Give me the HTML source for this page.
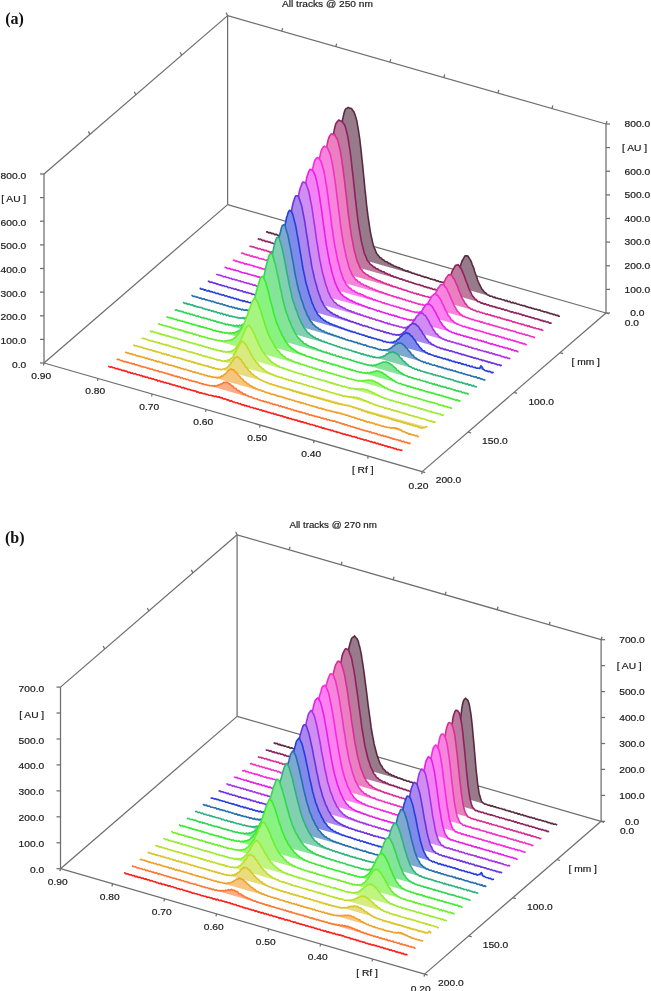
<!DOCTYPE html>
<html><head><meta charset="utf-8"><title>3D densitogram</title>
<style>
html,body{margin:0;padding:0;background:#fff}
body{width:651px;height:991px;overflow:hidden;font-family:"Liberation Sans",sans-serif}
svg{display:block;filter:blur(0.55px)}
svg text{font-family:"Liberation Sans",sans-serif;fill:#1a1a1a;stroke:#1a1a1a;stroke-width:0.18px}
svg text.lab{stroke:none}
svg text.lab{font-family:"Liberation Serif",serif;font-weight:bold;fill:#111}
</style></head><body>
<svg width="651" height="991" viewBox="0 0 651 991">
<rect width="651" height="991" fill="#ffffff"/>
<g stroke-width="1.6" stroke-linejoin="round">
<line x1="44.0" y1="363.0" x2="227.6" y2="204.6" stroke="#6e6e6e" stroke-width="1.25"/>
<line x1="227.6" y1="204.6" x2="606.0" y2="313.0" stroke="#6e6e6e" stroke-width="1.25"/>
<line x1="44.0" y1="363.0" x2="422.2" y2="471.6" stroke="#6e6e6e" stroke-width="1.25"/>
<line x1="422.2" y1="471.6" x2="606.0" y2="313.0" stroke="#6e6e6e" stroke-width="1.25"/>
<line x1="44.0" y1="363.0" x2="44.0" y2="174.0" stroke="#6e6e6e" stroke-width="1.25"/>
<line x1="227.6" y1="204.6" x2="227.6" y2="15.6" stroke="#6e6e6e" stroke-width="1.25"/>
<line x1="606.0" y1="313.0" x2="606.0" y2="124.0" stroke="#6e6e6e" stroke-width="1.25"/>
<line x1="44.0" y1="174.0" x2="227.6" y2="15.6" stroke="#6e6e6e" stroke-width="1.25"/>
<line x1="227.6" y1="15.6" x2="606.0" y2="124.0" stroke="#6e6e6e" stroke-width="1.25"/>
<line x1="40.0" y1="363.0" x2="44.0" y2="363.0" stroke="#6e6e6e" stroke-width="1.25"/>
<line x1="606.0" y1="313.0" x2="610.0" y2="313.0" stroke="#6e6e6e" stroke-width="1.25"/>
<line x1="40.0" y1="339.4" x2="44.0" y2="339.4" stroke="#6e6e6e" stroke-width="1.25"/>
<line x1="606.0" y1="289.4" x2="610.0" y2="289.4" stroke="#6e6e6e" stroke-width="1.25"/>
<line x1="40.0" y1="315.8" x2="44.0" y2="315.8" stroke="#6e6e6e" stroke-width="1.25"/>
<line x1="606.0" y1="265.8" x2="610.0" y2="265.8" stroke="#6e6e6e" stroke-width="1.25"/>
<line x1="40.0" y1="292.1" x2="44.0" y2="292.1" stroke="#6e6e6e" stroke-width="1.25"/>
<line x1="606.0" y1="242.1" x2="610.0" y2="242.1" stroke="#6e6e6e" stroke-width="1.25"/>
<line x1="40.0" y1="268.5" x2="44.0" y2="268.5" stroke="#6e6e6e" stroke-width="1.25"/>
<line x1="606.0" y1="218.5" x2="610.0" y2="218.5" stroke="#6e6e6e" stroke-width="1.25"/>
<line x1="40.0" y1="244.9" x2="44.0" y2="244.9" stroke="#6e6e6e" stroke-width="1.25"/>
<line x1="606.0" y1="194.9" x2="610.0" y2="194.9" stroke="#6e6e6e" stroke-width="1.25"/>
<line x1="40.0" y1="221.2" x2="44.0" y2="221.2" stroke="#6e6e6e" stroke-width="1.25"/>
<line x1="606.0" y1="171.2" x2="610.0" y2="171.2" stroke="#6e6e6e" stroke-width="1.25"/>
<line x1="40.0" y1="197.6" x2="44.0" y2="197.6" stroke="#6e6e6e" stroke-width="1.25"/>
<line x1="606.0" y1="147.6" x2="610.0" y2="147.6" stroke="#6e6e6e" stroke-width="1.25"/>
<line x1="40.0" y1="174.0" x2="44.0" y2="174.0" stroke="#6e6e6e" stroke-width="1.25"/>
<line x1="606.0" y1="124.0" x2="610.0" y2="124.0" stroke="#6e6e6e" stroke-width="1.25"/>
<line x1="89.9" y1="134.4" x2="88.4" y2="131.4" stroke="#6e6e6e" stroke-width="1.25"/>
<line x1="135.8" y1="94.8" x2="134.3" y2="91.8" stroke="#6e6e6e" stroke-width="1.25"/>
<line x1="181.7" y1="55.2" x2="180.2" y2="52.2" stroke="#6e6e6e" stroke-width="1.25"/>
<line x1="227.6" y1="15.6" x2="226.1" y2="12.6" stroke="#6e6e6e" stroke-width="1.25"/>
<line x1="281.7" y1="31.1" x2="282.7" y2="28.1" stroke="#6e6e6e" stroke-width="1.25"/>
<line x1="335.7" y1="46.6" x2="336.7" y2="43.6" stroke="#6e6e6e" stroke-width="1.25"/>
<line x1="389.8" y1="62.1" x2="390.8" y2="59.1" stroke="#6e6e6e" stroke-width="1.25"/>
<line x1="443.8" y1="77.5" x2="444.8" y2="74.5" stroke="#6e6e6e" stroke-width="1.25"/>
<line x1="497.9" y1="93.0" x2="498.9" y2="90.0" stroke="#6e6e6e" stroke-width="1.25"/>
<line x1="551.9" y1="108.5" x2="552.9" y2="105.5" stroke="#6e6e6e" stroke-width="1.25"/>
<line x1="606.0" y1="124.0" x2="607.0" y2="121.0" stroke="#6e6e6e" stroke-width="1.25"/>
<line x1="44.0" y1="363.0" x2="43.5" y2="365.5" stroke="#6e6e6e" stroke-width="1.25"/>
<line x1="98.0" y1="378.5" x2="97.5" y2="381.0" stroke="#6e6e6e" stroke-width="1.25"/>
<line x1="152.1" y1="394.0" x2="151.6" y2="396.5" stroke="#6e6e6e" stroke-width="1.25"/>
<line x1="206.1" y1="409.5" x2="205.6" y2="412.0" stroke="#6e6e6e" stroke-width="1.25"/>
<line x1="260.1" y1="425.1" x2="259.6" y2="427.6" stroke="#6e6e6e" stroke-width="1.25"/>
<line x1="314.1" y1="440.6" x2="313.6" y2="443.1" stroke="#6e6e6e" stroke-width="1.25"/>
<line x1="368.2" y1="456.1" x2="367.7" y2="458.6" stroke="#6e6e6e" stroke-width="1.25"/>
<line x1="422.2" y1="471.6" x2="421.7" y2="474.1" stroke="#6e6e6e" stroke-width="1.25"/>
<line x1="422.2" y1="471.6" x2="425.2" y2="472.6" stroke="#6e6e6e" stroke-width="1.25"/>
<line x1="468.1" y1="432.0" x2="471.1" y2="433.0" stroke="#6e6e6e" stroke-width="1.25"/>
<line x1="514.1" y1="392.3" x2="517.1" y2="393.3" stroke="#6e6e6e" stroke-width="1.25"/>
<line x1="560.0" y1="352.6" x2="563.0" y2="353.6" stroke="#6e6e6e" stroke-width="1.25"/>
<line x1="606.0" y1="313.0" x2="609.0" y2="314.0" stroke="#6e6e6e" stroke-width="1.25"/>
<polyline points="266.0,231.9 266.8,232.0 267.5,231.7 268.3,232.6 269.0,232.9 269.8,232.5 270.5,232.8 271.3,233.2 272.0,233.8 272.8,233.4 273.5,233.5 274.3,234.3 275.0,234.8 275.8,234.3 276.5,234.4 277.3,235.2 278.0,235.7 278.8,235.4 279.5,235.4 280.3,236.3 281.0,236.2 281.8,236.4 282.5,236.2 283.3,236.7 284.0,237.0 284.8,237.0 285.5,237.3 286.3,237.6 287.0,238.1 287.8,238.0 288.5,237.9 289.3,238.6 290.0,238.7 290.8,238.5 291.5,238.7 292.3,239.6 293.0,239.8 293.8,239.5 294.5,239.8 295.3,240.3 296.0,240.6 296.8,240.6 297.5,240.7 298.3,241.1 299.0,241.6 299.8,241.3 300.5,241.6 301.3,242.2 302.0,242.3 302.8,242.4 303.5,242.1 304.3,242.9 305.0,243.4 305.8,242.9 306.5,243.2 307.3,243.6 308.0,244.2 308.8,244.0 309.5,244.1 310.3,244.9 311.0,244.9 311.8,244.9 312.5,245.0 313.3,245.6 314.0,245.8 314.8,245.8 315.5,246.0 316.3,246.4 317.0,246.8 317.8,246.3 318.5,246.7 319.3,247.4 320.0,247.8 320.8,247.5 321.5,247.3 322.3,248.0 323.0,248.3 323.8,247.6 324.5,247.7 325.3,247.8 326.0,247.4 326.8,246.3 327.5,245.6 328.3,244.2 329.0,242.1 329.8,239.0 330.5,235.7 331.3,231.3 332.0,226.2 332.8,219.7 333.5,212.8 334.3,205.4 335.0,197.1 335.8,187.5 336.5,178.5 337.3,169.8 338.0,161.1 338.8,152.2 339.5,143.8 340.3,136.9 341.0,130.4 341.8,124.4 342.5,119.8 343.3,116.4 344.0,113.3 344.8,110.5 345.5,109.1 346.3,108.5 347.0,108.1 347.8,107.6 348.5,107.5 349.3,108.0 350.0,108.3 350.8,108.2 351.5,108.4 352.3,109.9 353.0,110.7 353.8,111.6 354.5,113.2 355.3,115.6 356.0,118.1 356.8,120.7 357.5,124.8 358.3,129.3 359.0,134.2 359.8,139.4 360.5,145.6 361.3,152.7 362.0,159.6 362.8,166.5 363.5,174.2 364.3,182.2 365.0,189.8 365.8,196.5 366.5,204.0 367.3,210.7 368.0,216.3 368.8,221.4 369.5,226.4 370.3,231.3 371.0,235.1 371.8,238.6 372.5,242.0 373.3,245.0 374.0,247.3 374.8,248.8 375.5,250.7 376.3,252.8 377.0,253.9 377.8,254.9 378.5,255.6 379.3,256.7 380.0,257.8 380.8,257.8 381.5,258.3 382.3,259.5 383.0,259.7 383.8,260.0 384.5,260.8 385.3,261.6 386.0,261.8 386.8,261.7 387.5,262.2 388.3,263.0 389.0,263.5 389.8,263.4 390.5,264.0 391.3,264.6 392.0,264.8 392.8,265.0 393.5,265.6 394.3,266.3 395.0,266.5 395.8,266.4 396.5,266.9 397.3,267.3 398.0,267.7 398.8,267.5 399.5,267.8 400.3,268.5 401.0,268.8 401.8,268.7 402.5,269.3 403.3,270.1 404.0,270.0 404.8,270.2 405.5,270.6 406.3,271.3 407.0,271.1 407.8,270.9 408.5,271.3 409.3,272.0 410.0,272.1 410.8,272.2 411.5,272.7 412.3,273.4 413.0,273.3 413.8,273.2 414.5,273.7 415.3,274.0 416.0,274.4 416.8,274.3 417.5,274.7 418.3,275.3 419.0,275.3 419.8,275.0 420.5,275.7 421.3,276.1 422.0,276.4 422.8,276.3 423.5,276.5 424.3,277.1 425.0,277.4 425.8,277.1 426.5,277.3 427.3,277.9 428.0,277.9 428.8,278.1 429.5,278.5 430.3,278.8 431.0,279.2 431.8,279.1 432.5,279.4 433.3,279.8 434.0,279.9 434.8,279.6 435.5,280.0 436.3,281.0 437.0,280.9 437.8,280.7 438.5,281.3 439.3,281.7 440.0,281.9 440.8,281.7 441.5,281.9 442.3,282.4 443.0,282.4 443.8,282.3 444.5,282.9 445.3,283.2 446.0,283.2 446.8,282.9 447.5,283.6 448.3,283.7 449.0,283.5 449.8,283.1 450.5,283.3 451.3,283.1 452.0,282.7 452.8,281.5 453.5,281.0 454.3,280.4 455.0,278.8 455.8,277.3 456.5,275.8 457.3,274.3 458.0,272.6 458.8,269.9 459.5,268.2 460.3,266.5 461.0,264.1 461.8,261.7 462.5,260.2 463.3,259.0 464.0,257.6 464.8,256.0 465.5,255.9 466.3,255.9 467.0,255.8 467.8,256.1 468.5,257.0 469.3,258.3 470.0,259.4 470.8,260.7 471.5,262.4 472.3,264.7 473.0,266.4 473.8,268.3 474.5,270.9 475.3,273.3 476.0,275.2 476.8,277.1 477.5,279.7 478.3,281.8 479.0,283.4 479.8,284.8 480.5,286.3 481.3,288.2 482.0,289.3 482.8,290.1 483.5,291.0 484.3,292.1 485.0,292.7 485.8,292.9 486.5,293.9 487.3,294.6 488.0,295.0 488.8,295.1 489.5,295.9 490.3,296.1 491.0,296.3 491.8,296.3 492.5,296.6 493.3,297.5 494.0,297.5 494.8,297.0 495.5,298.0 496.3,298.2 497.0,298.1 497.8,298.3 498.5,298.8 499.3,298.9 500.0,299.0 500.8,298.9 501.5,299.4 502.3,299.8 503.0,299.8 503.8,299.9 504.5,300.1 505.3,300.9 506.0,300.7 506.8,300.4 507.5,301.1 508.3,301.8 509.0,301.6 509.8,301.3 510.5,302.3 511.3,302.7 512.0,302.7 512.8,302.2 513.5,302.8 514.3,303.2 515.0,303.4 515.8,303.1 516.5,303.6 517.3,304.2 518.0,304.3 518.8,304.3 519.5,304.6 520.3,305.0 521.0,305.2 521.8,305.0 522.5,305.7 523.3,305.8 524.0,305.6 524.8,305.9 525.5,306.4 526.3,306.6 527.0,306.9 527.8,306.8 528.5,307.4 529.3,307.5 530.0,307.7 530.8,307.4 531.5,308.3 532.3,308.6 533.0,308.3 533.8,308.5 534.5,309.2 535.3,309.3 536.0,309.1 536.8,309.3 537.5,309.8 538.3,310.1 539.0,310.0 539.8,309.9 540.5,310.6 541.3,311.1 542.0,310.9 542.8,311.2 543.5,311.5 544.3,312.0 545.0,311.7 545.8,311.8 546.5,312.3 547.3,312.8 548.0,312.5 548.8,312.9 549.5,313.4 550.3,313.6 551.0,313.6 551.8,313.8 552.5,314.0 553.3,314.8 554.0,314.4 554.8,314.5 555.5,315.3 556.3,315.4 557.0,315.3 557.8,315.4 558.5,316.2 559.3,316.2 560.0,316.3" fill="#977b8a" stroke="#582a42"/>
<polyline points="257.7,238.7 258.5,238.9 259.2,239.5 260.0,239.4 260.7,239.3 261.5,239.6 262.2,240.6 263.0,240.4 263.7,240.2 264.5,240.5 265.2,241.5 266.0,241.6 266.7,241.3 267.5,241.4 268.2,242.0 269.0,242.1 269.7,242.0 270.5,242.3 271.2,243.0 272.0,243.0 272.7,243.1 273.5,243.5 274.2,243.9 275.0,243.8 275.7,244.0 276.5,244.1 277.2,244.7 278.0,244.6 278.7,244.6 279.5,245.0 280.2,245.6 281.0,245.5 281.7,245.5 282.5,245.6 283.2,246.4 284.0,246.3 284.7,246.3 285.5,246.5 286.2,247.1 287.0,247.3 287.7,247.1 288.5,247.7 289.2,248.2 290.0,248.4 290.7,248.1 291.5,248.6 292.2,249.3 293.0,249.0 293.7,248.8 294.5,249.6 295.2,249.8 296.0,250.1 296.7,249.9 297.5,250.0 298.2,251.0 299.0,251.0 299.7,250.7 300.5,251.2 301.2,251.8 302.0,251.5 302.7,251.5 303.5,252.0 304.2,252.7 305.0,252.7 305.7,252.5 306.5,252.9 307.2,253.6 308.0,253.5 308.7,253.3 309.5,253.5 310.2,254.0 311.0,254.0 311.7,253.9 312.5,254.2 313.2,255.0 314.0,254.6 314.7,254.3 315.5,254.3 316.2,254.3 317.0,253.4 317.7,251.9 318.5,251.3 319.2,249.8 320.0,247.2 320.7,244.0 321.5,240.8 322.2,236.6 323.0,231.7 323.7,225.5 324.5,219.3 325.2,212.7 326.0,205.2 326.7,196.7 327.5,189.1 328.2,181.3 329.0,172.7 329.7,164.5 330.5,157.4 331.2,150.9 332.0,144.4 332.7,138.5 333.5,134.1 334.2,130.1 335.0,126.7 335.7,124.0 336.5,122.8 337.2,121.7 338.0,120.9 338.7,120.0 339.5,120.3 340.2,120.9 341.0,121.0 341.7,121.2 342.5,122.1 343.2,123.0 344.0,124.0 344.7,125.2 345.5,127.5 346.2,130.1 347.0,133.2 347.7,136.1 348.5,140.9 349.2,145.9 350.0,150.3 350.7,156.0 351.5,162.7 352.2,169.6 353.0,175.8 353.7,182.5 354.5,189.9 355.2,197.5 356.0,203.6 356.7,210.1 357.5,216.3 358.2,222.3 359.0,227.4 359.7,231.4 360.5,236.3 361.2,240.4 362.0,243.9 362.7,246.8 363.5,249.8 364.2,253.0 365.0,254.7 365.7,256.2 366.5,258.2 367.2,260.2 368.0,261.1 368.7,261.8 369.5,263.0 370.2,264.2 371.0,264.5 371.7,265.2 372.5,265.7 373.2,266.9 374.0,267.1 374.7,267.0 375.5,268.2 376.2,268.8 377.0,268.9 377.7,268.8 378.5,269.6 379.2,270.2 380.0,270.6 380.7,270.5 381.5,271.1 382.2,271.8 383.0,271.7 383.7,271.7 384.5,272.4 385.2,273.4 386.0,273.1 386.7,273.5 387.5,273.8 388.2,274.4 389.0,274.5 389.7,274.4 390.5,275.2 391.2,276.0 392.0,275.9 392.7,275.9 393.5,276.5 394.2,277.1 395.0,277.0 395.7,276.9 396.5,277.7 397.2,277.8 398.0,278.0 398.7,278.0 399.5,278.8 400.2,279.2 401.0,278.9 401.7,278.8 402.5,279.9 403.2,279.9 404.0,280.0 404.7,280.0 405.5,280.6 406.2,281.2 407.0,281.2 407.7,280.9 408.5,281.8 409.2,282.0 410.0,282.0 410.7,282.0 411.5,282.5 412.2,282.9 413.0,282.8 413.7,283.2 414.5,283.6 415.2,283.9 416.0,284.0 416.7,284.2 417.5,284.5 418.2,284.8 419.0,284.6 419.7,284.6 420.5,285.4 421.2,285.6 422.0,285.5 422.7,285.6 423.5,286.4 424.2,286.9 425.0,286.7 425.7,286.6 426.5,287.3 427.2,287.7 428.0,287.4 428.7,287.5 429.5,288.0 430.2,288.4 431.0,288.6 431.7,288.3 432.5,289.1 433.2,289.5 434.0,289.4 434.7,289.1 435.5,289.8 436.2,290.0 437.0,289.9 437.7,289.9 438.5,290.7 439.2,290.7 440.0,290.3 440.7,289.7 441.5,289.9 442.2,290.1 443.0,289.3 443.7,288.4 444.5,288.2 445.2,287.0 446.0,285.7 446.7,284.6 447.5,283.5 448.2,281.9 449.0,279.8 449.7,277.5 450.5,275.9 451.2,274.0 452.0,271.9 452.7,270.1 453.5,269.1 454.2,267.6 455.0,266.1 455.7,265.3 456.5,265.1 457.2,265.1 458.0,264.6 458.7,265.4 459.5,266.3 460.2,267.7 461.0,268.3 461.7,269.6 462.5,271.6 463.2,273.5 464.0,275.2 464.7,277.2 465.5,279.4 466.2,281.5 467.0,283.3 467.7,285.3 468.5,287.6 469.2,289.3 470.0,290.8 470.7,292.0 471.5,294.0 472.2,295.4 473.0,296.4 473.7,297.2 474.5,298.7 475.2,299.3 476.0,299.4 476.7,300.0 477.5,301.4 478.2,301.7 479.0,301.5 479.7,301.7 480.5,302.7 481.2,303.1 482.0,302.9 482.7,303.1 483.5,303.9 484.2,304.3 485.0,303.8 485.7,303.9 486.5,304.7 487.2,305.0 488.0,304.9 488.7,304.9 489.5,305.8 490.2,306.0 491.0,305.7 491.7,305.8 492.5,306.8 493.2,306.6 494.0,306.7 494.7,306.6 495.5,307.3 496.2,307.7 497.0,307.3 497.7,307.9 498.5,308.3 499.2,308.3 500.0,308.1 500.7,308.5 501.5,309.2 502.2,309.5 503.0,308.9 503.7,309.3 504.5,309.9 505.2,310.4 506.0,309.8 506.7,310.0 507.5,310.7 508.2,311.0 509.0,311.0 509.7,311.3 510.5,311.9 511.2,312.1 512.0,311.9 512.7,311.9 513.5,312.4 514.2,313.0 515.0,312.7 515.7,312.6 516.5,313.5 517.2,313.5 518.0,313.3 518.7,313.6 519.5,314.2 520.2,314.2 521.0,314.1 521.7,314.5 522.5,315.4 523.2,315.1 524.0,315.3 524.7,315.3 525.5,316.0 526.2,316.3 527.0,316.1 527.7,316.3 528.5,316.7 529.2,317.0 530.0,316.8 530.7,317.4 531.5,317.6 532.2,317.8 533.0,317.9 533.7,317.8 534.5,318.6 535.2,318.9 536.0,318.7 536.7,318.7 537.5,319.3 538.2,319.4 539.0,319.6 539.7,319.6 540.5,320.5 541.2,320.7 542.0,320.2 542.7,320.5 543.5,321.5 544.2,321.4 545.0,321.0 545.7,321.6 546.5,322.0 547.2,322.1 548.0,321.7 548.7,322.5 549.5,323.2 550.2,323.1 551.0,323.1 551.7,323.0" fill="#bb7a9e" stroke="#8e225e"/>
<polyline points="249.4,246.2 250.2,246.4 250.9,246.3 251.7,246.5 252.4,247.0 253.2,247.0 253.9,246.9 254.7,247.6 255.4,247.8 256.2,248.1 256.9,247.9 257.7,248.5 258.4,249.0 259.2,248.8 259.9,248.6 260.7,249.1 261.4,249.6 262.2,249.8 262.9,249.3 263.7,249.9 264.4,250.7 265.2,250.4 265.9,250.2 266.7,250.7 267.4,251.5 268.2,251.3 268.9,251.5 269.7,252.0 270.4,252.5 271.2,252.1 271.9,251.9 272.7,252.4 273.4,253.2 274.2,253.2 274.9,253.0 275.7,253.4 276.4,254.0 277.2,254.0 277.9,253.9 278.7,254.5 279.4,255.0 280.2,254.9 280.9,254.5 281.7,255.4 282.4,255.6 283.2,255.7 283.9,255.5 284.7,256.2 285.4,256.4 286.2,256.4 286.9,256.3 287.7,256.8 288.4,257.7 289.2,257.4 289.9,257.2 290.7,257.8 291.4,258.6 292.2,258.2 292.9,258.0 293.7,258.8 294.4,259.3 295.2,259.3 295.9,258.8 296.7,259.5 297.4,260.2 298.2,260.1 298.9,260.1 299.7,260.2 300.4,260.8 301.2,260.6 301.9,260.5 302.7,261.4 303.4,261.7 304.2,261.6 304.9,261.2 305.7,261.8 306.4,261.8 307.2,261.2 307.9,260.9 308.7,260.9 309.4,260.1 310.2,259.0 310.9,257.5 311.7,256.0 312.4,254.2 313.2,251.2 313.9,247.9 314.7,244.6 315.4,240.7 316.2,235.5 316.9,229.7 317.7,224.0 318.4,217.9 319.2,210.9 319.9,203.3 320.7,196.5 321.4,189.3 322.2,182.0 322.9,174.6 323.7,168.0 324.4,162.0 325.2,156.1 325.9,150.9 326.7,146.9 327.4,143.1 328.2,139.7 328.9,137.5 329.7,136.0 330.4,135.1 331.2,134.1 331.9,133.9 332.7,134.0 333.4,134.6 334.2,134.5 334.9,135.0 335.7,136.5 336.4,138.1 337.2,139.0 337.9,140.9 338.7,144.1 339.4,147.1 340.2,150.3 340.9,154.7 341.7,159.5 342.4,165.0 343.2,170.0 343.9,176.0 344.7,182.4 345.4,188.8 346.2,194.9 346.9,201.6 347.7,208.4 348.4,214.9 349.2,220.0 349.9,225.6 350.7,231.0 351.4,235.9 352.2,239.6 352.9,243.4 353.7,247.6 354.4,251.3 355.2,253.6 355.9,256.5 356.7,259.6 357.4,262.1 358.2,263.3 358.9,264.9 359.7,267.3 360.4,268.7 361.2,269.2 361.9,269.9 362.7,271.6 363.4,272.2 364.2,272.8 364.9,273.1 365.7,274.2 366.4,274.5 367.2,274.9 367.9,275.0 368.7,275.9 369.4,276.7 370.2,276.7 370.9,276.7 371.7,277.5 372.4,278.1 373.2,278.1 373.9,278.3 374.7,278.9 375.4,279.4 376.2,279.6 376.9,279.9 377.7,280.3 378.4,280.9 379.2,281.0 379.9,280.8 380.7,281.9 381.4,282.0 382.2,282.1 382.9,282.3 383.7,283.1 384.4,283.3 385.2,283.2 385.9,283.5 386.7,284.1 387.4,284.6 388.2,284.3 388.9,284.5 389.7,285.0 390.4,285.7 391.2,285.4 391.9,285.5 392.7,286.5 393.4,286.8 394.2,286.5 394.9,286.5 395.7,287.3 396.4,287.5 397.2,287.3 397.9,287.7 398.7,288.2 399.4,288.6 400.2,288.5 400.9,288.4 401.7,289.4 402.4,289.4 403.2,289.6 403.9,289.8 404.7,290.3 405.4,290.3 406.2,290.4 406.9,290.5 407.7,291.5 408.4,291.3 409.2,291.5 409.9,291.8 410.7,292.3 411.4,292.6 412.2,292.1 412.9,292.7 413.7,293.1 414.4,293.6 415.2,293.3 415.9,293.2 416.7,294.1 417.4,294.4 418.2,293.8 418.9,294.2 419.7,295.0 420.4,295.0 421.2,295.1 421.9,295.0 422.7,296.0 423.4,295.8 424.2,295.8 424.9,296.2 425.7,296.5 426.4,296.7 427.2,296.6 427.9,296.8 428.7,297.2 429.4,297.4 430.2,297.1 430.9,297.6 431.7,298.0 432.4,298.1 433.2,297.2 433.9,297.4 434.7,297.3 435.4,297.1 436.2,296.2 436.9,295.5 437.7,295.3 438.4,294.2 439.2,292.6 439.9,291.5 440.7,290.1 441.4,288.9 442.2,286.6 442.9,284.8 443.7,283.7 444.4,281.6 445.2,279.9 445.9,278.3 446.7,277.3 447.4,276.4 448.2,275.1 448.9,274.5 449.7,275.1 450.4,274.8 451.2,275.2 451.9,275.6 452.7,277.1 453.4,278.3 454.2,279.0 454.9,280.6 455.7,282.5 456.4,284.0 457.2,285.5 457.9,287.5 458.7,290.1 459.4,291.8 460.2,293.3 460.9,295.4 461.7,297.1 462.4,298.6 463.2,299.9 463.9,301.0 464.7,302.7 465.4,303.8 466.2,304.3 466.9,305.4 467.7,306.5 468.4,307.3 469.2,307.5 469.9,307.9 470.7,309.0 471.4,309.2 472.2,309.0 472.9,309.9 473.7,310.3 474.4,310.4 475.2,310.2 475.9,310.9 476.7,311.6 477.4,311.7 478.2,311.3 478.9,311.6 479.7,312.1 480.4,312.5 481.2,312.3 481.9,312.5 482.7,313.3 483.4,313.3 484.2,313.3 484.9,313.6 485.7,314.0 486.4,314.4 487.2,313.8 487.9,314.4 488.7,314.9 489.4,314.9 490.2,314.6 490.9,315.4 491.7,315.6 492.4,315.9 493.2,315.9 493.9,315.9 494.7,316.5 495.4,316.8 496.2,316.6 496.9,317.0 497.7,317.7 498.4,317.4 499.2,317.3 499.9,317.7 500.7,318.2 501.4,318.6 502.2,318.4 502.9,318.8 503.7,319.0 504.4,319.5 505.2,319.3 505.9,319.5 506.7,320.3 507.4,320.1 508.2,319.9 508.9,320.2 509.7,320.9 510.4,320.8 511.2,320.8 511.9,321.4 512.7,322.0 513.4,322.1 514.2,321.8 514.9,322.0 515.7,322.8 516.4,322.7 517.2,322.7 517.9,323.0 518.7,323.5 519.4,323.7 520.2,323.7 520.9,323.8 521.7,324.7 522.4,324.2 523.2,324.2 523.9,324.6 524.7,325.5 525.4,325.5 526.2,325.3 526.9,325.5 527.7,326.4 528.4,326.1 529.2,325.9 529.9,326.7 530.7,327.1 531.4,327.1 532.2,327.0 532.9,327.6 533.7,327.9 534.4,328.0 535.2,327.9 535.9,328.4 536.7,328.7 537.4,328.8 538.2,328.7 538.9,329.0 539.7,329.5 540.4,329.7 541.2,329.3 541.9,330.2 542.7,330.3 543.4,330.2" fill="#ea80c0" stroke="#dc2c96"/>
<polyline points="241.1,253.4 241.9,253.4 242.6,253.1 243.4,253.2 244.1,253.9 244.9,254.4 245.6,254.2 246.4,254.4 247.1,255.1 247.9,255.0 248.6,255.0 249.4,255.1 250.1,256.0 250.9,256.2 251.6,256.1 252.4,255.8 253.1,256.9 253.9,257.1 254.6,256.9 255.4,256.7 256.1,257.4 256.9,257.6 257.6,257.3 258.4,257.9 259.1,258.6 259.9,258.7 260.6,258.6 261.4,258.7 262.1,259.2 262.9,259.3 263.6,259.1 264.4,259.6 265.1,260.0 265.9,260.3 266.6,260.1 267.4,260.1 268.1,260.9 268.9,261.1 269.6,261.1 270.4,261.2 271.1,261.8 271.9,262.3 272.6,261.9 273.4,262.3 274.1,262.8 274.9,262.7 275.6,262.7 276.4,262.9 277.1,263.7 277.9,263.7 278.6,263.7 279.4,263.8 280.1,264.3 280.9,264.8 281.6,264.2 282.4,264.9 283.1,265.2 283.9,265.3 284.6,265.2 285.4,265.7 286.1,266.4 286.9,266.1 287.6,266.2 288.4,266.4 289.1,267.2 289.9,267.1 290.6,267.0 291.4,267.2 292.1,268.0 292.9,267.9 293.6,268.0 294.4,267.9 295.1,268.4 295.9,268.7 296.6,268.2 297.4,268.1 298.1,268.7 298.9,268.2 299.6,267.8 300.4,267.4 301.1,267.2 301.9,266.2 302.6,264.6 303.4,263.3 304.1,261.9 304.9,259.9 305.6,256.5 306.4,254.0 307.1,250.5 307.9,246.5 308.6,241.7 309.4,237.1 310.1,232.0 310.9,226.0 311.6,219.8 312.4,213.2 313.1,207.1 313.9,200.4 314.6,193.5 315.4,187.1 316.1,181.2 316.9,175.0 317.6,169.1 318.4,164.2 319.1,160.5 319.9,156.5 320.6,153.0 321.4,150.3 322.1,149.0 322.9,147.7 323.6,146.5 324.4,146.1 325.1,146.6 325.9,147.0 326.6,146.8 327.4,147.7 328.1,149.4 328.9,151.0 329.6,152.6 330.4,154.9 331.1,158.2 331.9,161.6 332.6,165.1 333.4,169.8 334.1,174.8 334.9,180.0 335.6,185.0 336.4,191.4 337.1,197.7 337.9,203.3 338.6,209.5 339.4,215.3 340.1,221.7 340.9,227.4 341.6,232.1 342.4,237.1 343.1,241.8 343.9,245.6 344.6,249.2 345.4,252.7 346.1,256.4 346.9,259.4 347.6,261.7 348.4,264.7 349.1,267.7 349.9,269.6 350.6,271.0 351.4,273.0 352.1,274.7 352.9,275.7 353.6,276.7 354.4,277.8 355.1,279.2 355.9,279.8 356.6,279.9 357.4,280.8 358.1,281.9 358.9,282.0 359.6,282.0 360.4,283.0 361.1,283.9 361.9,284.0 362.6,284.0 363.4,284.7 364.1,285.4 364.9,285.5 365.6,285.4 366.4,285.9 367.1,286.8 367.9,286.6 368.6,286.8 369.4,287.5 370.1,288.2 370.9,288.2 371.6,288.0 372.4,288.6 373.1,289.3 373.9,289.5 374.6,289.3 375.4,290.0 376.1,290.7 376.9,290.4 377.6,290.6 378.4,291.2 379.1,291.6 379.9,291.7 380.6,291.9 381.4,291.9 382.1,292.8 382.9,292.6 383.6,292.8 384.4,293.4 385.1,293.8 385.9,293.6 386.6,293.8 387.4,294.3 388.1,294.9 388.9,294.8 389.6,294.8 390.4,295.4 391.1,295.8 391.9,295.7 392.6,295.9 393.4,296.1 394.1,296.9 394.9,296.7 395.6,296.8 396.4,297.0 397.1,298.0 397.9,297.6 398.6,297.4 399.4,298.0 400.1,298.6 400.9,298.4 401.6,298.5 402.4,299.0 403.1,299.7 403.9,299.4 404.6,299.3 405.4,299.8 406.1,300.6 406.9,300.6 407.6,300.4 408.4,300.7 409.1,301.6 409.9,301.3 410.6,301.1 411.4,301.6 412.1,302.4 412.9,302.4 413.6,302.2 414.4,302.7 415.1,303.2 415.9,303.0 416.6,303.3 417.4,303.5 418.1,304.1 418.9,304.1 419.6,304.0 420.4,304.3 421.1,304.7 421.9,304.7 422.6,304.3 423.4,305.1 424.1,305.2 424.9,305.1 425.6,304.5 426.4,304.8 427.1,304.8 427.9,304.2 428.6,303.4 429.4,303.0 430.1,302.9 430.9,301.5 431.6,300.2 432.4,299.4 433.1,298.4 433.9,296.6 434.6,294.9 435.4,293.7 436.1,292.2 436.9,290.6 437.6,288.9 438.4,287.5 439.1,287.0 439.9,285.8 440.6,284.8 441.4,284.5 442.1,284.9 442.9,284.7 443.6,284.5 444.4,285.5 445.1,287.0 445.9,287.6 446.6,288.4 447.4,290.0 448.1,291.8 448.9,293.1 449.6,294.9 450.4,296.8 451.1,298.6 451.9,300.4 452.6,301.8 453.4,303.5 454.1,305.7 454.9,306.6 455.6,307.8 456.4,309.4 457.1,310.9 457.9,311.5 458.6,312.2 459.4,313.1 460.1,314.2 460.9,314.4 461.6,314.9 462.4,315.6 463.1,316.5 463.9,316.4 464.6,316.4 465.4,317.1 466.1,317.5 466.9,317.6 467.6,317.5 468.4,318.3 469.1,318.6 469.9,318.6 470.6,318.7 471.4,319.3 472.1,319.8 472.9,319.2 473.6,319.7 474.4,320.1 475.1,320.6 475.9,320.4 476.6,320.6 477.4,321.0 478.1,321.4 478.9,321.5 479.6,321.1 480.4,322.0 481.1,322.3 481.9,321.8 482.6,322.2 483.4,322.8 484.1,323.3 484.9,322.9 485.6,323.2 486.4,323.6 487.1,324.0 487.9,324.0 488.6,323.6 489.4,324.6 490.1,324.9 490.9,324.6 491.6,324.9 492.4,325.3 493.1,325.7 493.9,325.5 494.6,325.7 495.4,326.1 496.1,326.5 496.9,326.3 497.6,326.5 498.4,327.3 499.1,327.3 499.9,327.4 500.6,327.3 501.4,328.0 502.1,328.2 502.9,328.1 503.6,328.4 504.4,328.9 505.1,329.3 505.9,328.9 506.6,329.0 507.4,329.6 508.1,330.0 508.9,329.9 509.6,330.1 510.4,330.3 511.1,331.0 511.9,330.8 512.6,330.8 513.4,331.2 514.1,331.6 514.9,331.3 515.6,331.5 516.4,332.5 517.1,332.6 517.9,332.5 518.6,332.7 519.4,333.4 520.1,333.5 520.9,333.3 521.6,333.4 522.4,334.1 523.1,334.3 523.9,334.2 524.6,334.1 525.4,335.0 526.1,335.1 526.9,335.1 527.6,334.9 528.4,335.6 529.1,335.8 529.9,335.9 530.6,336.2 531.4,336.7 532.1,336.8 532.9,336.8 533.6,337.0 534.4,337.5 535.1,337.6" fill="#f784dd" stroke="#f232c6"/>
<polyline points="232.8,260.4 233.6,260.2 234.3,260.2 235.1,260.9 235.8,261.5 236.6,260.9 237.3,261.2 238.1,261.5 238.8,261.9 239.6,262.1 240.3,262.0 241.1,262.8 241.8,263.0 242.6,262.6 243.3,262.8 244.1,263.5 244.8,264.1 245.6,263.9 246.3,263.7 247.1,264.3 247.8,264.5 248.6,264.6 249.3,264.4 250.1,265.0 250.8,265.3 251.6,265.2 252.3,265.5 253.1,265.8 253.8,266.7 254.6,266.1 255.3,266.5 256.1,266.7 256.8,267.0 257.6,267.2 258.3,267.0 259.1,267.9 259.8,268.0 260.6,267.7 261.3,268.2 262.1,268.7 262.8,269.2 263.6,268.9 264.3,268.7 265.1,269.6 265.8,270.0 266.6,269.7 267.3,270.0 268.1,270.2 268.8,271.0 269.6,270.7 270.3,270.4 271.1,271.0 271.8,271.7 272.6,271.6 273.3,271.3 274.1,272.0 274.8,272.6 275.6,272.1 276.3,272.5 277.1,273.0 277.8,273.1 278.6,273.0 279.3,273.2 280.1,273.8 280.8,274.2 281.6,273.8 282.3,274.2 283.1,274.6 283.8,275.0 284.6,274.8 285.3,274.7 286.1,275.3 286.8,275.7 287.6,275.5 288.3,275.4 289.1,275.7 289.8,275.6 290.6,274.9 291.3,275.0 292.1,274.9 292.8,274.5 293.6,273.2 294.3,272.3 295.1,271.8 295.8,270.4 296.6,268.2 297.3,266.0 298.1,264.1 298.8,261.6 299.6,257.8 300.3,254.3 301.1,250.7 301.8,246.5 302.6,241.2 303.3,235.8 304.1,230.6 304.8,225.0 305.6,218.7 306.3,212.7 307.1,207.1 307.8,201.1 308.6,194.3 309.3,188.9 310.1,183.9 310.8,178.9 311.6,173.7 312.3,169.5 313.1,166.7 313.8,163.8 314.6,161.1 315.3,159.5 316.1,158.6 316.8,157.9 317.6,157.6 318.3,157.9 319.1,158.6 319.8,159.8 320.6,160.7 321.3,162.0 322.1,164.7 322.8,167.3 323.6,169.8 324.3,173.1 325.1,177.6 325.8,182.2 326.6,186.6 327.3,191.5 328.1,197.1 328.8,203.1 329.6,208.4 330.3,213.9 331.1,220.3 331.8,226.1 332.6,231.2 333.3,236.2 334.1,241.4 334.8,246.0 335.6,249.4 336.3,253.2 337.1,257.2 337.8,260.8 338.6,263.3 339.3,266.4 340.1,269.5 340.8,272.1 341.6,273.8 342.3,275.9 343.1,278.7 343.8,280.1 344.6,281.1 345.3,282.7 346.1,284.4 346.8,285.1 347.6,285.8 348.3,286.5 349.1,287.8 349.8,288.1 350.6,288.3 351.3,289.4 352.1,290.3 352.8,290.5 353.6,290.6 354.3,290.9 355.1,292.0 355.8,292.1 356.6,292.4 357.3,292.7 358.1,293.5 358.8,293.9 359.6,293.5 360.3,293.8 361.1,294.6 361.8,294.8 362.6,294.7 363.3,295.1 364.1,296.1 364.8,296.4 365.6,296.1 366.3,296.8 367.1,297.5 367.8,297.2 368.6,297.4 369.3,297.7 370.1,298.2 370.8,298.8 371.6,298.3 372.3,298.9 373.1,299.6 373.8,299.9 374.6,299.6 375.3,299.8 376.1,300.5 376.8,300.5 377.6,300.8 378.3,301.2 379.1,301.5 379.8,301.5 380.6,301.5 381.3,301.9 382.1,302.8 382.8,302.9 383.6,302.7 384.3,302.7 385.1,303.7 385.8,303.8 386.6,303.6 387.3,304.1 388.1,304.3 388.8,304.5 389.6,304.6 390.3,305.1 391.1,305.6 391.8,305.5 392.6,305.4 393.3,305.9 394.1,306.2 394.8,306.4 395.6,306.2 396.3,306.5 397.1,307.3 397.8,307.2 398.6,307.1 399.3,307.4 400.1,308.3 400.8,308.0 401.6,308.2 402.3,308.4 403.1,308.9 403.8,309.4 404.6,308.9 405.3,309.6 406.1,310.2 406.8,310.3 407.6,309.7 408.3,310.3 409.1,310.7 409.8,311.2 410.6,310.9 411.3,311.2 412.1,311.7 412.8,311.7 413.6,311.7 414.3,311.9 415.1,312.5 415.8,312.2 416.6,312.0 417.3,312.2 418.1,312.9 418.8,312.6 419.6,311.9 420.3,312.3 421.1,312.0 421.8,311.5 422.6,310.4 423.3,310.0 424.1,309.9 424.8,308.5 425.6,306.9 426.3,306.1 427.1,305.1 427.8,303.8 428.6,301.6 429.3,300.9 430.1,299.4 430.8,298.3 431.6,296.6 432.3,295.6 433.1,295.3 433.8,294.4 434.6,293.8 435.3,293.9 436.1,294.6 436.8,295.1 437.6,295.3 438.3,296.4 439.1,297.3 439.8,298.3 440.6,299.6 441.3,300.8 442.1,303.0 442.8,304.1 443.6,305.7 444.3,307.1 445.1,309.5 445.8,310.5 446.6,311.6 447.3,313.2 448.1,315.3 448.8,316.2 449.6,316.8 450.3,318.2 451.1,319.8 451.8,320.0 452.6,320.6 453.3,321.3 454.1,322.3 454.8,322.8 455.6,323.0 456.3,323.4 457.1,324.1 457.8,324.1 458.6,324.4 459.3,324.9 460.1,325.4 460.8,325.4 461.6,325.5 462.3,326.1 463.1,326.7 463.8,326.5 464.6,326.2 465.3,326.7 466.1,327.5 466.8,327.3 467.6,327.4 468.3,327.5 469.1,328.4 469.8,328.1 470.6,328.3 471.3,328.8 472.1,329.1 472.8,328.8 473.6,329.2 474.3,329.5 475.1,330.2 475.8,329.8 476.6,329.7 477.3,330.5 478.1,330.8 478.8,330.6 479.6,330.6 480.3,331.3 481.1,331.5 481.8,331.6 482.6,331.5 483.3,332.1 484.1,332.4 484.8,332.6 485.6,332.6 486.3,333.2 487.1,333.4 487.8,333.5 488.6,333.2 489.3,334.0 490.1,334.1 490.8,334.4 491.6,334.4 492.3,334.7 493.1,335.2 493.8,335.1 494.6,335.0 495.3,335.3 496.1,336.3 496.8,335.8 497.6,335.7 498.3,336.2 499.1,336.8 499.8,336.9 500.6,336.5 501.3,337.1 502.1,337.9 502.8,337.5 503.6,337.4 504.3,338.2 505.1,338.7 505.8,338.5 506.6,338.6 507.3,338.8 508.1,339.7 508.8,339.5 509.6,339.1 510.3,339.7 511.1,340.3 511.8,340.2 512.6,340.1 513.3,340.6 514.1,341.2 514.8,340.9 515.6,341.1 516.3,341.8 517.1,341.9 517.8,342.0 518.6,342.0 519.3,342.3 520.1,343.1 520.8,343.0 521.6,342.7 522.3,343.3 523.1,344.0 523.8,343.6 524.6,343.6 525.3,344.5 526.1,344.8 526.8,344.4" fill="#fd82ef" stroke="#fc28e4"/>
<polyline points="224.5,267.4 225.3,267.4 226.0,267.6 226.8,268.0 227.5,268.6 228.3,268.5 229.0,268.4 229.8,268.4 230.5,269.2 231.3,269.4 232.0,269.3 232.8,269.4 233.5,270.0 234.3,270.1 235.0,269.8 235.8,270.4 236.5,270.7 237.3,270.8 238.0,270.8 238.8,271.0 239.5,271.6 240.3,272.0 241.0,271.8 241.8,272.4 242.5,272.7 243.3,272.7 244.0,272.7 244.8,273.2 245.5,273.3 246.3,273.5 247.0,273.2 247.8,274.0 248.5,274.3 249.3,274.3 250.0,274.4 250.8,274.8 251.5,275.1 252.3,275.2 253.0,275.0 253.8,275.8 254.5,276.0 255.3,275.9 256.0,276.0 256.8,276.3 257.5,277.0 258.3,277.1 259.0,276.8 259.8,277.2 260.5,277.8 261.3,277.7 262.0,277.5 262.8,278.0 263.5,278.5 264.3,278.5 265.0,278.5 265.8,279.0 266.5,279.4 267.3,279.2 268.0,279.4 268.8,280.1 269.5,280.5 270.3,280.3 271.0,280.3 271.8,280.6 272.5,281.4 273.3,281.1 274.0,281.1 274.8,281.7 275.5,282.1 276.3,281.8 277.0,281.7 277.8,282.2 278.5,282.7 279.3,282.4 280.0,282.4 280.8,282.5 281.5,282.9 282.3,282.8 283.0,282.1 283.8,282.4 284.5,282.4 285.3,281.5 286.0,281.1 286.8,280.4 287.5,279.9 288.3,278.2 289.0,276.6 289.8,275.7 290.5,273.9 291.3,271.1 292.0,268.6 292.8,266.1 293.5,263.3 294.3,259.0 295.0,255.0 295.8,251.5 296.5,247.0 297.3,241.4 298.0,236.1 298.8,231.1 299.5,226.0 300.3,219.9 301.0,214.2 301.8,208.9 302.5,203.4 303.3,197.8 304.0,192.6 304.8,188.3 305.5,184.1 306.3,180.1 307.0,176.6 307.8,174.4 308.5,172.2 309.3,170.7 310.0,169.3 310.8,169.7 311.5,169.9 312.3,170.0 313.0,170.9 313.8,172.4 314.5,174.1 315.3,176.1 316.0,178.5 316.8,181.8 317.5,185.4 318.3,189.0 319.0,193.1 319.8,198.3 320.5,203.3 321.3,208.1 322.0,213.5 322.8,219.3 323.5,224.9 324.3,230.2 325.0,235.5 325.8,240.8 326.5,245.8 327.3,249.8 328.0,254.0 328.8,258.1 329.5,262.0 330.3,265.0 331.0,267.8 331.8,271.6 332.5,274.3 333.3,276.8 334.0,279.1 334.8,281.9 335.5,283.7 336.3,285.3 337.0,287.2 337.8,288.7 338.5,290.2 339.3,291.2 340.0,292.1 340.8,293.7 341.5,294.6 342.3,294.8 343.0,295.7 343.8,296.5 344.5,297.1 345.3,297.3 346.0,297.6 346.8,298.4 347.5,299.1 348.3,299.0 349.0,299.6 349.8,300.2 350.5,300.6 351.3,300.4 352.0,300.8 352.8,301.5 353.5,302.0 354.3,302.0 355.0,302.4 355.8,303.1 356.5,303.3 357.3,303.2 358.0,303.5 358.8,304.4 359.5,304.4 360.3,304.4 361.0,304.8 361.8,305.2 362.5,305.6 363.3,305.8 364.0,305.9 364.8,306.4 365.5,306.6 366.3,306.8 367.0,306.9 367.8,307.7 368.5,308.1 369.3,307.9 370.0,307.8 370.8,308.4 371.5,308.7 372.3,308.7 373.0,308.9 373.8,309.4 374.5,309.7 375.3,309.7 376.0,309.9 376.8,310.5 377.5,311.1 378.3,310.7 379.0,310.6 379.8,311.5 380.5,311.9 381.3,311.5 382.0,311.9 382.8,312.2 383.5,312.6 384.3,312.7 385.0,312.8 385.8,313.5 386.5,313.5 387.3,313.4 388.0,313.7 388.8,314.2 389.5,314.6 390.3,314.4 391.0,314.8 391.8,315.3 392.5,315.4 393.3,315.1 394.0,315.3 394.8,316.3 395.5,316.1 396.3,315.9 397.0,316.2 397.8,317.0 398.5,317.4 399.3,317.1 400.0,317.4 400.8,317.7 401.5,317.9 402.3,318.0 403.0,318.1 403.8,318.9 404.5,318.9 405.3,318.6 406.0,318.9 406.8,319.4 407.5,319.9 408.3,319.5 409.0,319.6 409.8,320.2 410.5,320.1 411.3,319.6 412.0,320.0 412.8,320.2 413.5,320.1 414.3,319.2 415.0,319.0 415.8,318.7 416.5,318.0 417.3,317.3 418.0,316.4 418.8,315.6 419.5,314.8 420.3,313.2 421.0,311.8 421.8,311.1 422.5,309.9 423.3,308.1 424.0,307.3 424.8,306.3 425.5,305.4 426.3,304.5 427.0,303.9 427.8,304.2 428.5,304.4 429.3,304.0 430.0,304.7 430.8,305.4 431.5,306.0 432.3,306.7 433.0,307.8 433.8,309.8 434.5,310.6 435.3,311.8 436.0,313.1 436.8,315.2 437.5,316.5 438.3,317.5 439.0,318.9 439.8,320.7 440.5,322.2 441.3,322.8 442.0,324.0 442.8,325.4 443.5,326.3 444.3,326.7 445.0,327.6 445.8,329.0 446.5,329.3 447.3,329.4 448.0,330.3 448.8,330.8 449.5,331.2 450.3,331.4 451.0,331.6 451.8,332.4 452.5,332.8 453.3,332.6 454.0,332.7 454.8,333.5 455.5,333.7 456.3,333.4 457.0,334.1 457.8,334.3 458.5,334.7 459.3,334.3 460.0,334.6 460.8,335.3 461.5,335.2 462.3,335.3 463.0,335.5 463.8,336.4 464.5,336.3 465.3,336.0 466.0,336.3 466.8,337.1 467.5,337.0 468.3,337.1 469.0,337.2 469.8,337.9 470.5,338.0 471.3,337.7 472.0,338.3 472.8,338.7 473.5,338.9 474.3,338.7 475.0,339.0 475.8,339.6 476.5,339.5 477.3,339.4 478.0,340.1 478.8,340.4 479.5,340.6 480.3,340.2 481.0,340.8 481.8,341.3 482.5,341.4 483.3,341.1 484.0,341.5 484.8,342.2 485.5,342.1 486.3,341.9 487.0,342.7 487.8,343.0 488.5,343.1 489.3,343.2 490.0,343.5 490.8,344.2 491.5,344.1 492.3,343.6 493.0,344.2 493.8,344.6 494.5,344.9 495.3,344.8 496.0,345.1 496.8,345.7 497.5,345.8 498.3,345.6 499.0,345.9 499.8,346.7 500.5,346.5 501.3,346.5 502.0,346.7 502.8,347.2 503.5,347.6 504.3,347.4 505.0,347.8 505.8,348.1 506.5,348.0 507.3,348.0 508.0,348.5 508.8,349.1 509.5,349.0 510.3,348.8 511.0,349.4 511.8,350.1 512.5,349.8 513.3,350.0 514.0,350.4 514.8,351.0 515.5,350.7 516.3,350.7 517.0,351.3 517.8,351.7 518.5,351.4" fill="#f283f5" stroke="#e81eec"/>
<polyline points="216.2,274.1 217.0,274.5 217.7,274.8 218.5,275.0 219.2,274.9 220.0,275.2 220.7,275.7 221.5,275.5 222.2,275.9 223.0,276.2 223.7,276.9 224.5,276.7 225.2,276.4 226.0,277.3 226.7,277.5 227.5,277.5 228.2,277.6 229.0,277.9 229.7,278.2 230.5,278.5 231.2,278.3 232.0,279.1 232.7,279.4 233.5,279.2 234.2,279.3 235.0,279.8 235.7,280.1 236.5,279.7 237.2,280.1 238.0,280.6 238.7,281.0 239.5,281.0 240.2,280.7 241.0,281.6 241.7,281.6 242.5,281.8 243.2,281.9 244.0,282.3 244.7,282.8 245.5,282.8 246.2,282.7 247.0,283.3 247.7,283.5 248.5,283.2 249.2,283.4 250.0,284.1 250.7,284.3 251.5,284.2 252.2,284.2 253.0,285.1 253.7,285.4 254.5,285.0 255.2,285.1 256.0,285.8 256.7,286.1 257.5,286.2 258.2,286.0 259.0,286.6 259.7,287.2 260.5,286.6 261.2,287.0 262.0,287.5 262.7,288.0 263.5,287.7 264.2,287.9 265.0,288.2 265.7,288.8 266.5,288.5 267.2,288.5 268.0,289.3 268.7,289.6 269.5,288.9 270.2,289.1 271.0,289.7 271.7,289.7 272.5,289.3 273.2,289.4 274.0,289.7 274.7,289.9 275.5,289.2 276.2,288.8 277.0,289.0 277.7,288.7 278.5,287.6 279.2,286.8 280.0,286.3 280.7,285.3 281.5,284.1 282.2,282.5 283.0,280.9 283.7,279.3 284.5,276.8 285.2,274.0 286.0,271.4 286.7,268.5 287.5,264.7 288.2,260.8 289.0,257.4 289.7,252.9 290.5,248.4 291.2,243.4 292.0,238.9 292.7,234.0 293.5,228.2 294.2,222.8 295.0,218.0 295.7,212.9 296.5,207.5 297.2,203.2 298.0,199.3 298.7,195.0 299.5,191.0 300.2,188.2 301.0,186.2 301.7,184.4 302.5,182.3 303.2,182.0 304.0,182.3 304.7,182.7 305.5,182.9 306.2,184.0 307.0,186.5 307.7,188.3 308.5,190.5 309.2,193.7 310.0,197.5 310.7,201.5 311.5,205.0 312.2,209.5 313.0,215.0 313.7,220.0 314.5,224.8 315.2,230.0 316.0,235.8 316.7,240.9 317.5,245.3 318.2,250.2 319.0,255.0 319.7,259.3 320.5,262.9 321.2,266.3 322.0,270.4 322.7,273.2 323.5,275.9 324.2,279.1 325.0,281.7 325.7,284.2 326.5,286.4 327.2,288.5 328.0,291.3 328.7,292.7 329.5,294.4 330.2,296.0 331.0,297.7 331.7,298.7 332.5,299.3 333.2,300.5 334.0,301.8 334.7,302.4 335.5,302.7 336.2,303.4 337.0,304.6 337.7,305.1 338.5,305.2 339.2,305.4 340.0,306.3 340.7,306.7 341.5,306.8 342.2,307.2 343.0,307.9 343.7,308.1 344.5,308.1 345.2,308.6 346.0,309.6 346.7,309.8 347.5,309.7 348.2,310.2 349.0,310.9 349.7,310.9 350.5,310.9 351.2,311.0 352.0,312.0 352.7,312.1 353.5,311.8 354.2,312.4 355.0,313.3 355.7,313.2 356.5,313.1 357.2,313.4 358.0,314.1 358.7,314.5 359.5,313.9 360.2,314.4 361.0,315.3 361.7,315.3 362.5,315.0 363.2,315.6 364.0,316.2 364.7,316.4 365.5,316.1 366.2,316.6 367.0,317.2 367.7,317.3 368.5,317.0 369.2,317.4 370.0,318.4 370.7,318.3 371.5,317.9 372.2,318.7 373.0,319.0 373.7,319.0 374.5,319.1 375.2,319.3 376.0,320.1 376.7,320.2 377.5,319.9 378.2,320.4 379.0,320.8 379.7,321.1 380.5,320.9 381.2,321.1 382.0,321.9 382.7,321.8 383.5,321.8 384.2,322.4 385.0,322.9 385.7,323.0 386.5,322.8 387.2,322.9 388.0,324.0 388.7,323.9 389.5,323.4 390.2,324.2 391.0,324.6 391.7,324.5 392.5,324.7 393.2,324.9 394.0,325.6 394.7,325.3 395.5,325.5 396.2,325.6 397.0,326.2 397.7,326.3 398.5,326.0 399.2,326.7 400.0,327.0 400.7,327.0 401.5,327.0 402.2,327.2 403.0,327.9 403.7,327.7 404.5,327.5 405.2,327.5 406.0,328.0 406.7,327.5 407.5,326.6 408.2,326.8 409.0,326.5 409.7,325.9 410.5,324.8 411.2,324.4 412.0,323.5 412.7,322.4 413.5,321.2 414.2,320.4 415.0,319.5 415.7,317.8 416.5,316.6 417.2,315.6 418.0,315.3 418.7,314.4 419.5,313.2 420.2,313.5 421.0,313.5 421.7,313.1 422.5,313.0 423.2,313.8 424.0,314.9 424.7,315.3 425.5,315.6 426.2,316.9 427.0,318.4 427.7,319.7 428.5,320.4 429.2,322.2 430.0,323.8 430.7,325.1 431.5,325.9 432.2,327.4 433.0,329.4 433.7,330.1 434.5,331.0 435.2,332.4 436.0,333.8 436.7,333.9 437.5,334.5 438.2,335.5 439.0,336.6 439.7,337.1 440.5,337.3 441.2,337.7 442.0,338.5 442.7,338.9 443.5,338.9 444.2,339.4 445.0,340.0 445.7,339.8 446.5,340.1 447.2,340.5 448.0,341.3 448.7,341.1 449.5,340.7 450.2,341.4 451.0,341.9 451.7,342.1 452.5,341.9 453.2,342.1 454.0,342.7 454.7,342.7 455.5,342.7 456.2,343.3 457.0,343.7 457.7,343.6 458.5,343.3 459.2,344.1 460.0,344.5 460.7,344.2 461.5,344.4 462.2,345.2 463.0,345.2 463.7,345.2 464.5,345.4 465.2,345.7 466.0,346.2 466.7,346.2 467.5,346.0 468.2,346.7 469.0,347.2 469.7,347.3 470.5,347.3 471.2,347.3 472.0,348.1 472.7,348.1 473.5,348.1 474.2,348.6 475.0,349.0 475.7,348.8 476.5,348.7 477.2,349.2 478.0,349.9 478.7,349.8 479.5,349.8 480.2,350.3 481.0,350.5 481.7,350.6 482.5,350.6 483.2,351.1 484.0,351.6 484.7,351.3 485.5,351.4 486.2,351.9 487.0,352.1 487.7,352.1 488.5,352.1 489.2,353.0 490.0,353.2 490.7,353.0 491.5,352.9 492.2,353.5 493.0,354.0 493.7,353.7 494.5,353.7 495.2,354.7 496.0,354.9 496.7,354.7 497.5,354.8 498.2,355.3 499.0,355.6 499.7,355.4 500.5,355.6 501.2,356.2 502.0,356.8 502.7,356.5 503.5,356.7 504.2,357.0 505.0,357.7 505.7,357.4 506.5,357.2 507.2,357.8 508.0,358.4 508.7,358.4 509.5,358.2 510.2,359.0" fill="#d08ef2" stroke="#aa32e8"/>
<polyline points="207.9,281.7 208.7,281.1 209.4,281.6 210.2,282.5 210.9,282.3 211.7,282.1 212.4,282.3 213.2,282.9 213.9,283.1 214.7,283.1 215.4,283.2 216.2,283.9 216.9,283.9 217.7,283.9 218.4,284.4 219.2,284.9 219.9,284.8 220.7,284.9 221.4,285.3 222.2,285.8 222.9,285.6 223.7,285.8 224.4,286.1 225.2,286.5 225.9,286.5 226.7,286.3 227.4,286.8 228.2,287.6 228.9,287.6 229.7,287.5 230.4,287.5 231.2,288.2 231.9,288.5 232.7,288.3 233.4,288.5 234.2,289.3 234.9,289.2 235.7,288.8 236.4,289.4 237.2,289.8 237.9,290.2 238.7,289.8 239.4,290.3 240.2,290.9 240.9,290.8 241.7,290.8 242.4,290.9 243.2,292.0 243.9,291.8 244.7,291.9 245.4,291.8 246.2,292.7 246.9,292.8 247.7,292.4 248.4,292.7 249.2,293.3 249.9,293.3 250.7,293.5 251.4,293.5 252.2,294.5 252.9,294.3 253.7,294.2 254.4,294.6 255.2,295.2 255.9,295.2 256.7,295.0 257.4,295.3 258.2,296.0 258.9,295.8 259.7,295.8 260.4,296.2 261.2,296.7 261.9,296.4 262.7,296.3 263.4,296.7 264.2,296.9 264.9,296.6 265.7,296.3 266.4,296.7 267.2,296.5 267.9,296.0 268.7,295.6 269.4,295.6 270.2,295.6 270.9,294.6 271.7,293.9 272.4,292.9 273.2,292.6 273.9,290.9 274.7,289.3 275.4,288.1 276.2,286.8 276.9,284.9 277.7,282.5 278.4,280.2 279.2,278.4 279.9,275.0 280.7,271.5 281.4,268.4 282.2,265.5 282.9,261.5 283.7,256.8 284.4,252.8 285.2,249.1 285.9,244.1 286.7,239.5 287.4,234.8 288.2,230.5 288.9,225.4 289.7,220.8 290.4,216.5 291.2,212.6 291.9,208.7 292.7,204.5 293.4,202.0 294.2,199.5 294.9,197.6 295.7,195.8 296.4,195.7 297.2,195.7 297.9,196.3 298.7,197.0 299.4,199.1 300.2,201.5 300.9,203.5 301.7,205.9 302.4,209.6 303.2,213.6 303.9,217.4 304.7,221.3 305.4,226.1 306.2,231.5 306.9,236.0 307.7,240.4 308.4,245.9 309.2,250.7 309.9,255.2 310.7,259.2 311.4,264.1 312.2,268.4 312.9,271.4 313.7,274.7 314.4,278.2 315.2,281.1 315.9,283.6 316.7,286.1 317.4,289.2 318.2,291.5 318.9,293.8 319.7,295.6 320.4,297.9 321.2,300.1 321.9,301.6 322.7,302.5 323.4,304.6 324.2,305.8 324.9,306.8 325.7,307.6 326.4,308.5 327.2,309.9 327.9,310.4 328.7,310.5 329.4,311.3 330.2,312.2 330.9,312.8 331.7,312.5 332.4,313.8 333.2,314.1 333.9,314.4 334.7,314.3 335.4,315.0 336.2,315.9 336.9,315.6 337.7,315.8 338.4,316.8 339.2,317.3 339.9,317.3 340.7,317.4 341.4,317.6 342.2,318.3 342.9,318.5 343.7,318.5 344.4,318.8 345.2,319.6 345.9,319.4 346.7,319.5 347.4,320.0 348.2,320.5 348.9,320.9 349.7,320.6 350.4,321.5 351.2,321.6 351.9,321.7 352.7,321.5 353.4,322.3 354.2,322.6 354.9,322.8 355.7,322.6 356.4,323.5 357.2,323.8 357.9,323.5 358.7,323.7 359.4,324.3 360.2,325.0 360.9,324.6 361.7,324.6 362.4,325.6 363.2,325.9 363.9,325.7 364.7,325.5 365.4,326.1 366.2,326.6 366.9,326.3 367.7,326.4 368.4,327.2 369.2,327.6 369.9,327.5 370.7,327.5 371.4,327.9 372.2,328.6 372.9,328.5 373.7,328.5 374.4,329.1 375.2,329.5 375.9,329.5 376.7,329.5 377.4,330.1 378.2,330.3 378.9,330.1 379.7,330.2 380.4,331.1 381.2,331.2 381.9,331.0 382.7,331.1 383.4,331.6 384.2,332.4 384.9,331.7 385.7,332.1 386.4,332.9 387.2,332.9 387.9,332.9 388.7,332.8 389.4,333.4 390.2,333.7 390.9,333.5 391.7,333.9 392.4,334.5 393.2,334.8 393.9,334.2 394.7,334.5 395.4,334.8 396.2,335.2 396.9,334.8 397.7,334.6 398.4,335.3 399.2,334.8 399.9,334.6 400.7,334.2 401.4,334.1 402.2,333.8 402.9,333.1 403.7,332.0 404.4,331.8 405.2,331.2 405.9,329.8 406.7,328.9 407.4,328.3 408.2,327.5 408.9,326.3 409.7,325.4 410.4,324.9 411.2,324.6 411.9,323.7 412.7,323.2 413.4,323.7 414.2,323.7 414.9,323.9 415.7,324.0 416.4,325.1 417.2,325.7 417.9,326.1 418.7,326.8 419.4,328.2 420.2,329.7 420.9,330.2 421.7,331.3 422.4,332.9 423.2,334.3 423.9,334.8 424.7,335.8 425.4,337.7 426.2,338.6 426.9,339.3 427.7,340.2 428.4,341.5 429.2,342.3 429.9,342.2 430.7,343.0 431.4,344.2 432.2,344.8 432.9,344.5 433.7,344.9 434.4,345.8 435.2,346.1 435.9,346.2 436.7,346.7 437.4,347.3 438.2,347.5 438.9,347.2 439.7,347.6 440.4,348.5 441.2,348.6 441.9,348.3 442.7,348.5 443.4,349.3 444.2,349.6 444.9,349.0 445.7,349.5 446.4,350.0 447.2,350.3 447.9,350.0 448.7,350.2 449.4,350.9 450.2,351.1 450.9,350.7 451.7,351.0 452.4,351.8 453.2,351.8 453.9,351.6 454.7,352.1 455.4,352.6 456.2,352.8 456.9,352.5 457.7,353.1 458.4,353.3 459.2,353.8 459.9,353.7 460.7,353.6 461.4,354.4 462.2,354.7 462.9,354.4 463.7,354.6 464.4,355.0 465.2,355.4 465.9,355.2 466.7,355.6 467.4,356.0 468.2,356.3 468.9,356.2 469.7,356.5 470.4,356.9 471.2,357.1 471.9,357.0 472.7,357.4 473.4,357.7 474.2,358.3 474.9,357.9 475.7,358.0 476.4,358.8 477.2,358.8 477.9,358.5 478.7,359.1 479.4,359.5 480.2,359.8 480.9,359.5 481.7,360.0 482.4,360.6 483.2,360.4 483.9,360.4 484.7,360.7 485.4,361.3 486.2,361.6 486.9,361.2 487.7,361.5 488.4,362.4 489.2,362.3 489.9,362.1 490.7,362.4 491.4,363.2 492.2,363.3 492.9,363.1 493.7,363.2 494.4,363.7 495.2,364.1 495.9,363.9 496.7,364.3 497.4,364.9 498.2,364.7 498.9,364.6 499.7,364.8 500.4,365.8 501.2,365.5 501.9,365.3" fill="#aa88ee" stroke="#6c32e2"/>
<polyline points="199.6,288.2 200.4,288.4 201.1,289.2 201.9,289.2 202.6,289.0 203.4,289.2 204.1,290.1 204.9,289.9 205.6,289.9 206.4,290.6 207.1,291.0 207.9,291.0 208.6,290.5 209.4,291.1 210.1,291.8 210.9,291.5 211.6,291.8 212.4,291.9 213.1,292.5 213.9,292.5 214.6,292.3 215.4,293.1 216.1,293.5 216.9,293.4 217.6,293.3 218.4,293.6 219.1,294.2 219.9,294.5 220.6,294.3 221.4,294.8 222.1,295.1 222.9,295.0 223.6,294.8 224.4,295.5 225.1,296.0 225.9,296.0 226.6,295.9 227.4,296.4 228.1,296.9 228.9,297.0 229.6,296.6 230.4,297.5 231.1,297.8 231.9,297.5 232.6,297.5 233.4,298.1 234.1,298.6 234.9,298.6 235.6,298.4 236.4,298.9 237.1,299.6 237.9,299.3 238.6,299.4 239.4,300.0 240.1,300.4 240.9,300.2 241.6,300.4 242.4,300.6 243.1,301.4 243.9,300.8 244.6,300.9 245.4,301.6 246.1,301.7 246.9,302.0 247.6,301.5 248.4,302.3 249.1,302.5 249.9,302.7 250.6,302.4 251.4,303.0 252.1,303.3 252.9,303.1 253.6,303.0 254.4,303.2 255.1,303.4 255.9,303.5 256.6,302.8 257.4,303.5 258.1,303.4 258.9,302.8 259.6,302.4 260.4,302.9 261.1,302.9 261.9,302.0 262.6,301.4 263.4,301.0 264.1,301.0 264.9,299.9 265.6,298.5 266.4,297.9 267.1,297.4 267.9,295.5 268.6,294.4 269.4,293.0 270.1,291.5 270.9,289.5 271.6,287.1 272.4,285.4 273.1,283.0 273.9,280.5 274.6,277.2 275.4,274.8 276.1,271.5 276.9,268.1 277.6,264.4 278.4,260.8 279.1,257.0 279.9,252.8 280.6,248.7 281.4,244.7 282.1,240.9 282.9,236.1 283.6,232.0 284.4,228.5 285.1,224.8 285.9,221.0 286.6,217.2 287.4,215.2 288.1,212.8 288.9,211.2 289.6,210.3 290.4,210.7 291.1,211.5 291.9,212.3 292.6,214.0 293.4,216.9 294.1,219.7 294.9,222.6 295.6,225.5 296.4,229.8 297.1,234.2 297.9,238.0 298.6,242.1 299.4,246.8 300.1,251.5 300.9,255.7 301.6,260.3 302.4,265.0 303.1,269.0 303.9,272.9 304.6,276.0 305.4,280.1 306.1,283.5 306.9,285.7 307.6,288.5 308.4,291.3 309.1,293.7 309.9,295.8 310.6,298.0 311.4,300.5 312.1,303.0 312.9,304.3 313.6,306.3 314.4,308.1 315.1,309.7 315.9,310.9 316.6,311.9 317.4,313.7 318.1,315.0 318.9,315.4 319.6,316.1 320.4,317.1 321.1,318.2 321.9,318.3 322.6,319.0 323.4,319.7 324.1,320.6 324.9,320.6 325.6,320.9 326.4,321.9 327.1,322.2 327.9,322.2 328.6,322.8 329.4,323.3 330.1,324.0 330.9,323.9 331.6,324.0 332.4,324.5 333.1,324.9 333.9,325.2 334.6,325.0 335.4,325.9 336.1,326.3 336.9,326.0 337.6,326.4 338.4,326.9 339.1,327.5 339.9,327.3 340.6,327.4 341.4,328.0 342.1,328.5 342.9,328.2 343.6,328.4 344.4,329.1 345.1,329.8 345.9,329.4 346.6,329.8 347.4,330.0 348.1,330.8 348.9,330.4 349.6,330.8 350.4,331.3 351.1,331.7 351.9,331.3 352.6,331.7 353.4,332.1 354.1,332.4 354.9,332.1 355.6,332.5 356.4,333.2 357.1,333.4 357.9,333.5 358.6,333.3 359.4,334.2 360.1,334.3 360.9,334.3 361.6,334.6 362.4,335.2 363.1,335.1 363.9,335.0 364.6,335.4 365.4,336.2 366.1,336.0 366.9,336.1 367.6,336.4 368.4,337.1 369.1,337.1 369.9,337.1 370.6,337.1 371.4,338.0 372.1,337.8 372.9,338.1 373.6,338.0 374.4,338.7 375.1,338.7 375.9,338.6 376.6,339.1 377.4,339.7 378.1,339.6 378.9,339.5 379.6,339.7 380.4,340.3 381.1,340.5 381.9,340.4 382.6,340.9 383.4,341.6 384.1,341.7 384.9,341.3 385.6,341.5 386.4,342.3 387.1,342.5 387.9,342.1 388.6,342.2 389.4,342.5 390.1,342.7 390.9,342.4 391.6,342.4 392.4,342.4 393.1,342.5 393.9,341.7 394.6,341.3 395.4,341.8 396.1,341.1 396.9,340.2 397.6,339.3 398.4,339.4 399.1,338.6 399.9,337.4 400.6,336.6 401.4,336.3 402.1,335.5 402.9,334.3 403.6,333.7 404.4,333.8 405.1,333.4 405.9,332.8 406.6,332.6 407.4,333.4 408.1,333.4 408.9,333.6 409.6,333.8 410.4,335.3 411.1,335.9 411.9,336.0 412.6,337.3 413.4,338.4 414.1,339.3 414.9,340.1 415.6,341.2 416.4,342.8 417.1,344.0 417.9,344.5 418.6,345.6 419.4,346.8 420.1,347.8 420.9,348.2 421.6,349.0 422.4,350.3 423.1,350.8 423.9,350.7 424.6,351.2 425.4,352.4 426.1,352.8 426.9,352.6 427.6,353.2 428.4,354.1 429.1,354.3 429.9,353.8 430.6,354.4 431.4,354.9 432.1,355.0 432.9,355.2 433.6,355.4 434.4,356.1 435.1,356.2 435.9,355.9 436.6,356.2 437.4,356.9 438.1,357.2 438.9,356.9 439.6,357.2 440.4,357.7 441.1,357.8 441.9,357.9 442.6,358.1 443.4,358.8 444.1,358.9 444.9,358.4 445.6,359.1 446.4,359.4 447.1,359.8 447.9,359.3 448.6,359.7 449.4,360.7 450.1,360.4 450.9,360.2 451.6,360.9 452.4,361.4 453.1,361.6 453.9,361.1 454.6,361.6 455.4,362.4 456.1,362.2 456.9,362.3 457.6,362.3 458.4,363.2 459.1,362.9 459.9,362.9 460.6,363.1 461.4,363.8 462.1,364.2 462.9,363.8 463.6,364.3 464.4,364.7 465.1,364.7 465.9,364.4 466.6,365.1 467.4,365.8 468.1,365.7 468.9,365.4 469.6,366.1 470.4,366.7 471.1,366.6 471.9,366.1 472.6,366.9 473.4,367.3 474.1,367.6 474.9,367.1 475.6,367.7 476.4,368.3 477.1,368.1 477.9,368.0 478.6,368.3 479.4,368.5 480.1,367.3 480.9,365.8 481.6,366.4 482.4,367.7 483.1,369.2 483.9,369.6 484.6,370.2 485.4,370.8 486.1,370.9 486.9,370.9 487.6,371.2 488.4,371.8 489.1,371.4 489.9,371.4 490.6,371.8 491.4,372.8 492.1,372.7 492.9,372.2 493.6,372.9" fill="#7e8bea" stroke="#283edc"/>
<polyline points="191.4,295.2 192.1,295.4 192.9,296.2 193.6,296.5 194.4,296.2 195.1,296.4 195.9,296.8 196.6,297.3 197.4,297.1 198.1,297.4 198.9,297.8 199.6,298.3 200.4,298.1 201.1,298.0 201.9,298.9 202.6,299.1 203.4,298.9 204.1,298.8 204.9,299.3 205.6,299.9 206.4,299.9 207.1,299.9 207.9,300.3 208.6,300.6 209.4,300.6 210.1,300.8 210.9,301.1 211.6,301.7 212.4,301.3 213.1,301.4 213.9,301.9 214.6,302.4 215.4,302.2 216.1,302.6 216.9,303.2 217.6,303.2 218.4,303.0 219.1,303.4 219.9,303.7 220.6,304.1 221.4,304.0 222.1,303.9 222.9,304.6 223.6,305.0 224.4,304.8 225.1,305.2 225.9,305.4 226.6,305.7 227.4,305.9 228.1,305.8 228.9,306.6 229.6,306.8 230.4,306.7 231.1,306.5 231.9,307.1 232.6,307.7 233.4,307.3 234.1,307.5 234.9,308.1 235.6,308.5 236.4,308.0 237.1,308.1 237.9,309.0 238.6,309.1 239.4,308.7 240.1,309.0 240.9,309.4 241.6,309.9 242.4,309.2 243.1,309.7 243.9,310.1 244.6,310.1 245.4,310.1 246.1,309.8 246.9,310.2 247.6,310.2 248.4,310.1 249.1,310.1 249.9,310.4 250.6,310.3 251.4,309.9 252.1,309.4 252.9,309.7 253.6,309.7 254.4,309.1 255.1,308.5 255.9,308.6 256.6,308.1 257.4,307.0 258.1,306.5 258.9,306.1 259.6,305.1 260.4,303.8 261.1,302.9 261.9,301.9 262.6,300.6 263.4,299.1 264.1,297.4 264.9,296.1 265.6,294.3 266.4,292.0 267.1,289.5 267.9,287.7 268.6,285.1 269.4,282.2 270.1,279.4 270.9,277.0 271.6,273.8 272.4,270.0 273.1,266.5 273.9,263.5 274.6,259.7 275.4,255.8 276.1,252.0 276.9,248.7 277.6,244.6 278.4,240.7 279.1,237.1 279.9,234.0 280.6,231.1 281.4,228.0 282.1,225.9 282.9,225.2 283.6,224.8 284.4,225.1 285.1,226.1 285.9,228.7 286.6,231.1 287.4,233.4 288.1,236.4 288.9,240.1 289.6,244.1 290.4,247.6 291.1,251.4 291.9,256.0 292.6,260.2 293.4,263.9 294.1,268.4 294.9,273.0 295.6,276.8 296.4,279.9 297.1,283.7 297.9,287.0 298.6,290.4 299.4,292.4 300.1,294.9 300.9,298.0 301.6,300.1 302.4,302.0 303.1,304.1 303.9,306.8 304.6,308.9 305.4,310.5 306.1,312.0 306.9,314.6 307.6,315.7 308.4,316.9 309.1,318.5 309.9,320.0 310.6,321.1 311.4,321.8 312.1,322.7 312.9,324.3 313.6,324.7 314.4,325.3 315.1,326.1 315.9,327.0 316.6,327.2 317.4,327.7 318.1,327.9 318.9,329.1 319.6,329.4 320.4,329.2 321.1,330.0 321.9,330.8 322.6,331.0 323.4,330.9 324.1,331.4 324.9,332.2 325.6,332.2 326.4,332.4 327.1,332.9 327.9,333.5 328.6,333.8 329.4,333.3 330.1,334.1 330.9,334.3 331.6,334.7 332.4,334.4 333.1,334.9 333.9,335.7 334.6,335.8 335.4,335.6 336.1,335.9 336.9,336.5 337.6,336.7 338.4,336.5 339.1,336.9 339.9,337.8 340.6,337.8 341.4,337.6 342.1,337.9 342.9,338.8 343.6,338.6 344.4,338.5 345.1,339.1 345.9,339.8 346.6,340.0 347.4,339.7 348.1,340.2 348.9,340.8 349.6,340.8 350.4,340.6 351.1,340.7 351.9,341.4 352.6,341.4 353.4,341.6 354.1,342.0 354.9,342.5 355.6,342.4 356.4,342.3 357.1,342.6 357.9,343.5 358.6,343.7 359.4,343.2 360.1,343.5 360.9,344.1 361.6,344.2 362.4,344.4 363.1,344.7 363.9,345.2 364.6,345.0 365.4,344.9 366.1,345.3 366.9,346.2 367.6,346.1 368.4,346.2 369.1,346.6 369.9,347.1 370.6,347.0 371.4,347.0 372.1,347.1 372.9,347.7 373.6,347.9 374.4,347.7 375.1,348.0 375.9,348.6 376.6,348.5 377.4,348.7 378.1,349.1 378.9,349.7 379.6,349.7 380.4,349.2 381.1,349.8 381.9,350.1 382.6,350.2 383.4,349.9 384.1,349.8 384.9,350.1 385.6,349.9 386.4,349.7 387.1,349.7 387.9,349.6 388.6,349.5 389.4,348.7 390.1,348.4 390.9,348.0 391.6,347.7 392.4,346.6 393.1,346.0 393.9,345.9 394.6,345.2 395.4,344.4 396.1,344.0 396.9,344.0 397.6,343.2 398.4,342.7 399.1,343.2 399.9,343.3 400.6,343.1 401.4,343.3 402.1,343.7 402.9,344.6 403.6,345.0 404.4,345.4 405.1,346.5 405.9,347.6 406.6,348.1 407.4,348.5 408.1,350.0 408.9,350.9 409.6,351.7 410.4,352.3 411.1,353.6 411.9,354.7 412.6,355.0 413.4,355.6 414.1,356.7 414.9,357.5 415.6,357.7 416.4,358.3 417.1,359.0 417.9,359.5 418.6,359.7 419.4,360.2 420.1,360.5 420.9,361.2 421.6,361.4 422.4,361.4 423.1,361.9 423.9,362.6 424.6,362.1 425.4,362.1 426.1,363.1 426.9,363.6 427.6,363.1 428.4,363.0 429.1,363.7 429.9,364.5 430.6,364.1 431.4,364.2 432.1,364.9 432.9,365.3 433.6,365.3 434.4,364.9 435.1,365.4 435.9,365.8 436.6,366.1 437.4,365.7 438.1,366.7 438.9,367.0 439.6,366.6 440.4,366.9 441.1,367.1 441.9,367.8 442.6,367.4 443.4,367.8 444.1,368.4 444.9,368.8 445.6,368.3 446.4,368.7 447.1,369.1 447.9,369.7 448.6,369.4 449.4,369.4 450.1,370.0 450.9,370.5 451.6,370.0 452.4,370.0 453.1,370.8 453.9,371.1 454.6,371.0 455.4,370.8 456.1,371.8 456.9,371.8 457.6,372.1 458.4,372.1 459.1,372.5 459.9,372.8 460.6,372.9 461.4,372.6 462.1,373.3 462.9,373.6 463.6,373.9 464.4,373.7 465.1,374.2 465.9,374.5 466.6,374.6 467.4,374.7 468.1,375.3 468.9,375.3 469.6,375.3 470.4,375.3 471.1,376.1 471.9,376.2 472.6,376.3 473.4,376.5 474.1,377.0 474.9,377.0 475.6,376.9 476.4,376.9 477.1,377.8 477.9,378.2 478.6,377.9 479.4,377.9 480.1,378.5 480.9,379.0 481.6,378.9 482.4,379.0 483.1,379.6 483.9,380.0 484.6,379.9 485.4,379.9" fill="#7da9d0" stroke="#2670b0"/>
<polyline points="183.1,302.1 183.8,302.8 184.6,303.5 185.3,303.3 186.1,303.4 186.8,303.4 187.6,304.4 188.3,304.2 189.1,304.1 189.8,304.3 190.6,304.9 191.3,305.0 192.1,304.8 192.8,305.1 193.6,305.9 194.3,306.2 195.1,305.8 195.8,306.4 196.6,306.9 197.3,306.9 198.1,306.9 198.8,307.1 199.6,307.5 200.3,307.5 201.1,307.4 201.8,307.6 202.6,308.3 203.3,308.7 204.1,308.5 204.8,308.7 205.6,309.5 206.3,309.5 207.1,309.4 207.8,309.8 208.6,310.2 209.3,310.0 210.1,310.2 210.8,310.4 211.6,311.1 212.3,311.0 213.1,310.9 213.8,311.6 214.6,311.8 215.3,311.9 216.1,311.8 216.8,312.2 217.6,313.0 218.3,312.7 219.1,312.8 219.8,313.2 220.6,313.9 221.3,313.4 222.1,313.3 222.8,313.8 223.6,314.7 224.3,314.2 225.1,314.2 225.8,314.9 226.6,315.6 227.3,315.1 228.1,315.1 228.8,315.7 229.6,316.2 230.3,316.2 231.1,316.0 231.8,316.2 232.6,316.7 233.3,316.5 234.1,316.7 234.8,316.9 235.6,317.4 236.3,317.6 237.1,317.3 237.8,317.7 238.6,318.1 239.3,317.9 240.1,317.8 240.8,317.9 241.6,318.2 242.3,317.9 243.1,317.6 243.8,318.0 244.6,318.2 245.3,317.8 246.1,317.5 246.8,317.9 247.6,317.9 248.3,317.1 249.1,316.7 249.8,316.4 250.6,316.2 251.3,315.5 252.1,314.7 252.8,314.5 253.6,313.9 254.3,313.0 255.1,311.4 255.8,311.1 256.6,310.0 257.3,308.6 258.1,306.5 258.8,305.7 259.6,304.0 260.3,302.2 261.1,300.0 261.8,298.1 262.6,295.9 263.3,293.1 264.1,290.3 264.8,288.2 265.6,285.2 266.3,282.1 267.1,278.6 267.8,275.7 268.6,272.3 269.3,268.5 270.1,264.6 270.8,261.7 271.6,258.1 272.3,254.3 273.1,250.5 273.8,247.3 274.6,244.4 275.3,241.2 276.1,239.1 276.8,237.5 277.6,237.6 278.3,237.3 279.1,238.3 279.8,240.2 280.6,243.1 281.3,245.2 282.1,248.0 282.8,251.8 283.6,255.4 284.3,258.8 285.1,262.7 285.8,266.8 286.6,271.1 287.3,274.9 288.1,278.3 288.8,282.5 289.6,286.4 290.3,289.6 291.1,292.7 291.8,296.2 292.6,299.2 293.3,301.6 294.1,303.3 294.8,306.2 295.6,308.7 296.3,310.2 297.1,311.9 297.8,314.5 298.6,316.5 299.3,318.2 300.1,319.8 300.8,321.6 301.6,323.4 302.3,324.6 303.1,325.6 303.8,327.3 304.6,328.7 305.3,329.2 306.1,330.0 306.8,331.4 307.6,332.5 308.3,333.1 309.1,333.4 309.8,334.2 310.6,335.0 311.3,335.5 312.1,335.7 312.8,336.7 313.6,337.4 314.3,337.4 315.1,337.3 315.8,338.5 316.6,338.8 317.3,338.7 318.1,338.8 318.8,339.9 319.6,340.1 320.3,339.9 321.1,340.2 321.8,341.2 322.6,341.4 323.3,341.5 324.1,341.2 324.8,342.1 325.6,342.5 326.3,342.3 327.1,342.6 327.8,343.2 328.6,343.5 329.3,343.8 330.1,343.6 330.8,344.1 331.6,344.4 332.3,344.6 333.1,344.7 333.8,345.1 334.6,345.7 335.3,345.7 336.1,345.7 336.8,346.2 337.6,346.7 338.3,346.6 339.1,346.7 339.8,347.1 340.6,347.8 341.3,347.7 342.1,347.7 342.8,348.4 343.6,348.5 344.3,348.6 345.1,348.4 345.8,349.0 346.6,349.5 347.3,349.5 348.1,349.2 348.8,349.9 349.6,350.2 350.3,350.2 351.1,350.2 351.8,350.8 352.6,351.4 353.3,351.2 354.1,351.5 354.8,351.8 355.6,352.3 356.3,351.8 357.1,352.4 357.8,352.7 358.6,353.1 359.3,352.9 360.1,353.3 360.8,353.7 361.6,354.2 362.3,353.9 363.1,353.8 363.8,354.7 364.6,354.7 365.3,354.9 366.1,354.8 366.8,355.3 367.6,356.0 368.3,355.4 369.1,355.6 369.8,356.2 370.6,356.7 371.3,356.1 372.1,356.4 372.8,356.9 373.6,357.5 374.3,356.8 375.1,357.2 375.8,357.6 376.6,357.8 377.3,357.5 378.1,357.5 378.8,357.6 379.6,357.7 380.3,357.1 381.1,357.3 381.8,357.0 382.6,356.8 383.3,356.2 384.1,355.8 384.8,355.9 385.6,355.0 386.3,354.2 387.1,353.7 387.8,353.8 388.6,353.3 389.3,352.5 390.1,352.4 390.8,352.4 391.6,352.4 392.3,352.0 393.1,351.7 393.8,352.7 394.6,352.7 395.3,352.5 396.1,353.4 396.8,354.0 397.6,354.5 398.3,354.9 399.1,355.7 399.8,357.2 400.6,358.0 401.3,358.2 402.1,359.1 402.8,360.5 403.6,361.2 404.3,361.5 405.1,362.2 405.8,363.2 406.6,363.9 407.3,364.3 408.1,364.9 408.8,366.0 409.6,366.5 410.3,366.6 411.1,366.7 411.8,367.5 412.6,368.2 413.3,368.0 414.1,368.2 414.8,369.2 415.6,369.2 416.3,369.0 417.1,369.4 417.8,370.2 418.6,370.4 419.3,369.9 420.1,370.6 420.8,371.2 421.6,371.2 422.3,371.2 423.1,371.5 423.8,371.7 424.6,372.1 425.3,372.0 426.1,372.3 426.8,372.9 427.6,372.8 428.3,373.0 429.1,373.2 429.8,373.6 430.6,373.8 431.3,373.9 432.1,373.8 432.8,374.5 433.6,375.0 434.3,374.7 435.1,374.7 435.8,375.6 436.6,375.5 437.3,375.5 438.1,375.8 438.8,376.1 439.6,376.3 440.3,376.1 441.1,376.4 441.8,377.0 442.6,377.1 443.3,377.1 444.1,377.4 444.8,377.8 445.6,378.2 446.3,378.2 447.1,378.3 447.8,378.8 448.6,379.1 449.3,378.8 450.1,379.0 450.8,379.8 451.6,379.6 452.3,379.8 453.1,379.9 453.8,380.6 454.6,381.0 455.3,380.7 456.1,381.1 456.8,381.6 457.6,381.6 458.3,381.5 459.1,382.0 459.8,382.2 460.6,382.6 461.3,382.2 462.1,382.5 462.8,383.4 463.6,383.3 464.3,383.3 465.1,383.7 465.8,384.1 466.6,384.0 467.3,383.7 468.1,384.4 468.8,385.1 469.6,384.9 470.3,384.6 471.1,385.0 471.8,385.7 472.6,386.0 473.3,385.4 474.1,386.0 474.8,386.6 475.6,386.8 476.3,386.8 477.1,386.7" fill="#81d1b1" stroke="#2db27d"/>
<polyline points="174.8,310.1 175.5,310.3 176.3,309.7 177.0,310.0 177.8,310.7 178.5,310.9 179.3,310.7 180.0,310.9 180.8,311.5 181.5,311.6 182.3,311.4 183.0,311.6 183.8,312.3 184.5,312.8 185.3,312.6 186.0,312.6 186.8,313.5 187.5,313.7 188.3,313.3 189.0,313.5 189.8,314.0 190.5,314.6 191.3,314.2 192.0,314.2 192.8,314.9 193.5,315.4 194.3,315.0 195.0,315.4 195.8,315.8 196.5,316.3 197.3,316.1 198.0,315.9 198.8,316.8 199.5,316.8 200.3,316.9 201.0,317.2 201.8,317.8 202.5,317.7 203.3,317.4 204.0,318.0 204.8,318.5 205.5,318.5 206.3,318.3 207.0,318.8 207.8,319.2 208.5,319.6 209.3,319.2 210.0,319.5 210.8,320.2 211.5,320.4 212.3,320.3 213.0,320.2 213.8,321.2 214.5,321.1 215.3,320.9 216.0,321.4 216.8,322.0 217.5,322.1 218.3,322.1 219.0,322.0 219.8,322.7 220.5,323.0 221.3,322.6 222.0,322.8 222.8,323.4 223.5,323.8 224.3,323.6 225.0,323.8 225.8,324.6 226.5,324.6 227.3,324.1 228.0,324.4 228.8,325.1 229.5,324.9 230.3,324.9 231.0,324.9 231.8,325.4 232.5,325.6 233.3,325.1 234.0,325.7 234.8,326.2 235.5,325.9 236.3,325.4 237.0,325.5 237.8,326.0 238.5,325.9 239.3,325.3 240.0,325.5 240.8,325.6 241.5,325.5 242.3,324.5 243.0,324.3 243.8,324.5 244.5,324.0 245.3,323.0 246.0,322.8 246.8,322.3 247.5,321.5 248.3,320.4 249.0,319.8 249.8,319.2 250.5,317.8 251.3,316.2 252.0,315.2 252.8,314.2 253.5,312.3 254.3,309.9 255.0,308.3 255.8,306.8 256.5,304.3 257.3,301.5 258.0,299.7 258.8,297.5 259.5,294.2 260.3,291.1 261.0,288.4 261.8,285.5 262.5,282.1 263.3,278.8 264.0,275.7 264.8,272.6 265.5,269.0 266.3,265.5 267.0,262.5 267.8,260.4 268.5,257.2 269.3,254.9 270.0,254.0 270.8,253.6 271.5,253.8 272.3,254.5 273.0,256.5 273.8,259.3 274.5,261.8 275.3,263.9 276.0,267.2 276.8,271.2 277.5,274.3 278.3,277.5 279.0,281.2 279.8,285.3 280.5,289.1 281.3,291.8 282.0,295.6 282.8,299.5 283.5,302.6 284.3,305.1 285.0,307.9 285.8,311.0 286.5,312.9 287.3,314.5 288.0,316.8 288.8,319.3 289.5,321.0 290.3,322.2 291.0,324.3 291.8,326.8 292.5,327.8 293.3,329.4 294.0,330.9 294.8,332.6 295.5,333.7 296.3,334.7 297.0,336.3 297.8,337.2 298.5,338.3 299.3,338.6 300.0,339.5 300.8,340.9 301.5,341.1 302.3,341.3 303.0,342.3 303.8,343.4 304.5,343.7 305.3,343.7 306.0,344.1 306.8,345.2 307.5,345.3 308.3,345.5 309.0,346.2 309.8,346.5 310.5,346.9 311.3,346.9 312.0,347.2 312.8,347.9 313.5,347.9 314.3,347.9 315.0,348.5 315.8,348.9 316.5,349.0 317.3,349.3 318.0,349.6 318.8,350.3 319.5,350.4 320.3,350.3 321.0,350.6 321.8,351.5 322.5,351.4 323.3,351.5 324.0,351.9 324.8,352.4 325.5,352.4 326.3,352.1 327.0,352.8 327.8,353.2 328.5,353.4 329.3,353.0 330.0,353.8 330.8,354.2 331.5,354.4 332.3,354.1 333.0,354.9 333.8,355.4 334.5,355.3 335.3,354.9 336.0,355.9 336.8,356.3 337.5,356.2 338.3,356.1 339.0,356.3 339.8,357.3 340.5,357.0 341.3,356.9 342.0,357.4 342.8,358.1 343.5,358.0 344.3,358.0 345.0,358.2 345.8,358.8 346.5,358.7 347.3,358.5 348.0,359.2 348.8,359.6 349.5,359.8 350.3,359.5 351.0,360.0 351.8,360.5 352.5,360.7 353.3,360.4 354.0,361.1 354.8,361.5 355.5,361.6 356.3,361.6 357.0,361.9 357.8,362.5 358.5,362.5 359.3,362.3 360.0,363.0 360.8,363.4 361.5,363.1 362.3,363.3 363.0,363.7 363.8,364.0 364.5,364.1 365.3,364.1 366.0,364.5 366.8,364.9 367.5,364.7 368.3,364.9 369.0,365.3 369.8,365.4 370.5,365.2 371.3,365.0 372.0,365.7 372.8,365.8 373.5,365.1 374.3,365.2 375.0,365.0 375.8,365.3 376.5,364.7 377.3,364.3 378.0,364.3 378.8,364.0 379.5,363.5 380.3,363.1 381.0,363.1 381.8,362.8 382.5,362.1 383.3,362.0 384.0,362.2 384.8,362.1 385.5,362.0 386.3,362.0 387.0,362.3 387.8,362.7 388.5,362.8 389.3,363.2 390.0,363.7 390.8,364.4 391.5,364.6 392.3,365.3 393.0,366.0 393.8,367.0 394.5,367.3 395.3,367.9 396.0,368.7 396.8,370.0 397.5,370.3 398.3,370.5 399.0,371.6 399.8,372.1 400.5,372.6 401.3,372.8 402.0,373.7 402.8,374.4 403.5,374.2 404.3,374.7 405.0,375.1 405.8,375.5 406.5,375.7 407.3,376.0 408.0,376.7 408.8,377.2 409.5,376.8 410.3,377.1 411.0,377.6 411.8,377.8 412.5,377.9 413.3,378.0 414.0,378.5 414.8,378.9 415.5,378.6 416.3,378.7 417.0,379.4 417.8,379.7 418.5,379.5 419.3,379.4 420.0,380.0 420.8,380.5 421.5,380.5 422.3,380.6 423.0,381.0 423.8,381.3 424.5,381.3 425.3,381.2 426.0,382.1 426.8,382.5 427.5,382.0 428.3,382.3 429.0,383.0 429.8,383.3 430.5,383.1 431.3,383.2 432.0,383.6 432.8,384.2 433.5,384.1 434.3,383.7 435.0,384.8 435.8,384.9 436.5,384.5 437.3,384.6 438.0,385.6 438.8,385.9 439.5,385.4 440.3,385.7 441.0,386.4 441.8,386.9 442.5,386.3 443.3,386.7 444.0,387.1 444.8,387.3 445.5,387.1 446.3,387.4 447.0,388.1 447.8,388.2 448.5,388.0 449.3,388.2 450.0,388.7 450.8,389.0 451.5,388.9 452.3,389.2 453.0,389.6 453.8,390.0 454.5,389.8 455.3,390.3 456.0,390.7 456.8,391.1 457.5,390.7 458.3,390.7 459.0,391.6 459.8,391.6 460.5,391.4 461.3,391.5 462.0,392.5 462.8,392.9 463.5,392.4 464.3,392.5 465.0,393.2 465.8,393.4 466.5,393.4 467.3,393.4 468.0,394.0 468.8,394.5" fill="#84e598" stroke="#32d454"/>
<polyline points="166.5,316.4 167.2,316.9 168.0,317.4 168.7,317.6 169.5,317.6 170.2,317.7 171.0,318.1 171.7,318.5 172.5,318.3 173.2,318.4 174.0,319.1 174.7,319.5 175.5,319.5 176.2,319.1 177.0,319.8 177.7,320.4 178.5,320.2 179.2,320.2 180.0,320.8 180.7,321.0 181.5,321.2 182.2,321.0 183.0,321.6 183.7,321.8 184.5,321.6 185.2,322.1 186.0,322.6 186.7,322.6 187.5,322.6 188.2,322.7 189.0,323.3 189.7,323.6 190.5,323.7 191.2,323.5 192.0,324.2 192.7,324.8 193.5,324.4 194.2,324.4 195.0,325.0 195.7,325.4 196.5,325.3 197.2,325.5 198.0,325.8 198.7,326.2 199.5,326.0 200.2,326.1 201.0,327.0 201.7,327.2 202.5,326.8 203.2,326.9 204.0,327.8 204.7,327.8 205.5,327.9 206.2,327.6 207.0,328.4 207.7,328.6 208.5,328.8 209.2,328.6 210.0,329.2 210.7,329.4 211.5,329.3 212.2,329.7 213.0,330.3 213.7,330.7 214.5,330.5 215.2,330.4 216.0,331.2 216.7,331.1 217.5,331.3 218.2,331.1 219.0,331.6 219.7,332.1 220.5,331.9 221.2,331.8 222.0,332.2 222.7,332.8 223.5,332.5 224.2,332.5 225.0,333.2 225.7,332.9 226.5,332.6 227.2,332.7 228.0,333.1 228.7,333.5 229.5,333.1 230.2,332.8 231.0,333.2 231.7,333.2 232.5,332.9 233.2,332.8 234.0,333.2 234.7,332.8 235.5,332.4 236.2,331.8 237.0,331.9 237.7,331.5 238.5,330.6 239.2,330.4 240.0,330.2 240.7,329.4 241.5,328.0 242.2,327.1 243.0,326.6 243.7,325.7 244.5,324.3 245.2,322.7 246.0,322.0 246.7,320.7 247.5,318.3 248.2,316.8 249.0,315.6 249.7,313.6 250.5,311.0 251.2,309.0 252.0,307.0 252.7,304.5 253.5,301.6 254.2,299.3 255.0,297.0 255.7,294.4 256.5,291.0 257.2,288.1 258.0,285.9 258.7,283.5 259.5,280.9 260.2,278.5 261.0,277.7 261.7,276.8 262.5,276.2 263.2,276.6 264.0,278.6 264.7,280.1 265.5,281.8 266.2,284.0 267.0,287.0 267.7,289.6 268.5,292.2 269.2,295.2 270.0,298.6 270.7,301.5 271.5,303.9 272.2,307.0 273.0,310.3 273.7,313.4 274.5,315.6 275.2,318.1 276.0,320.9 276.7,323.1 277.5,324.5 278.2,326.2 279.0,328.5 279.7,329.9 280.5,331.3 281.2,332.7 282.0,335.0 282.7,336.2 283.5,337.1 284.2,338.9 285.0,340.2 285.7,341.7 286.5,342.3 287.2,343.2 288.0,344.8 288.7,345.6 289.5,346.1 290.2,346.8 291.0,347.9 291.7,348.7 292.5,348.4 293.2,349.4 294.0,350.0 294.7,350.5 295.5,350.5 296.2,351.4 297.0,352.0 297.7,352.4 298.5,352.2 299.2,352.9 300.0,353.6 300.7,353.5 301.5,353.6 302.2,354.2 303.0,354.6 303.7,355.0 304.5,354.7 305.2,355.2 306.0,356.1 306.7,356.3 307.5,356.2 308.2,356.3 309.0,357.0 309.7,357.3 310.5,357.1 311.2,357.4 312.0,358.2 312.7,358.1 313.5,358.2 314.2,358.4 315.0,358.9 315.7,359.3 316.5,358.8 317.2,359.5 318.0,359.8 318.7,360.4 319.5,360.0 320.2,360.5 321.0,360.8 321.7,361.1 322.5,360.8 323.2,361.2 324.0,362.1 324.7,361.7 325.5,361.8 326.2,362.0 327.0,363.0 327.7,363.1 328.5,362.5 329.2,363.1 330.0,363.7 330.7,363.9 331.5,363.8 332.2,364.0 333.0,364.9 333.7,364.5 334.5,364.4 335.2,365.1 336.0,365.4 336.7,365.4 337.5,365.4 338.2,365.8 339.0,366.3 339.7,366.7 340.5,366.3 341.2,366.9 342.0,367.2 342.7,367.6 343.5,367.1 344.2,367.8 345.0,368.3 345.7,368.5 346.5,368.2 347.2,368.6 348.0,369.1 348.7,369.3 349.5,368.9 350.2,369.2 351.0,370.2 351.7,370.1 352.5,369.9 353.2,370.4 354.0,370.7 354.7,370.8 355.5,370.8 356.2,371.4 357.0,371.9 357.7,371.5 358.5,371.6 359.2,372.0 360.0,372.4 360.7,372.2 361.5,372.0 362.2,372.6 363.0,373.1 363.7,372.8 364.5,372.6 365.2,373.0 366.0,373.5 366.7,373.1 367.5,372.5 368.2,373.1 369.0,373.1 369.7,373.0 370.5,372.5 371.2,372.1 372.0,372.5 372.7,372.2 373.5,371.4 374.2,371.6 375.0,371.6 375.7,371.1 376.5,370.8 377.2,371.0 378.0,371.4 378.7,371.4 379.5,371.2 380.2,371.9 381.0,372.4 381.7,372.3 382.5,372.7 383.2,373.3 384.0,374.0 384.7,374.4 385.5,374.5 386.2,375.2 387.0,376.2 387.7,376.3 388.5,376.9 389.2,377.4 390.0,378.7 390.7,378.5 391.5,378.6 392.2,379.7 393.0,380.3 393.7,380.6 394.5,380.6 395.2,381.6 396.0,382.2 396.7,382.3 397.5,382.5 398.2,383.1 399.0,383.6 399.7,383.6 400.5,383.2 401.2,383.8 402.0,384.5 402.7,384.7 403.5,384.4 404.2,385.0 405.0,385.3 405.7,385.4 406.5,385.6 407.2,386.0 408.0,386.6 408.7,386.1 409.5,386.1 410.2,386.6 411.0,387.5 411.7,387.0 412.5,387.3 413.2,387.6 414.0,388.3 414.7,388.0 415.5,387.9 416.2,388.8 417.0,389.0 417.7,389.0 418.5,388.6 419.2,389.6 420.0,390.1 420.7,389.6 421.5,389.8 422.2,390.2 423.0,390.6 423.7,390.5 424.5,390.7 425.2,391.4 426.0,391.8 426.7,391.7 427.5,391.5 428.2,392.1 429.0,392.3 429.7,392.4 430.5,392.3 431.2,392.8 432.0,393.5 432.7,393.1 433.5,393.0 434.2,393.6 435.0,394.0 435.7,394.1 436.5,394.2 437.2,394.4 438.0,395.0 438.7,394.9 439.5,394.9 440.2,395.4 441.0,395.9 441.7,395.5 442.5,395.5 443.2,396.3 444.0,396.6 444.7,396.7 445.5,396.5 446.2,397.4 447.0,397.5 447.7,397.3 448.5,397.5 449.2,398.0 450.0,398.4 450.7,398.5 451.5,398.2 452.2,399.0 453.0,399.5 453.7,399.2 454.5,399.2 455.2,400.0 456.0,400.3 456.7,399.9 457.5,399.9 458.2,400.5 459.0,401.0 459.7,400.7 460.5,401.0" fill="#89f382" stroke="#3aeb2e"/>
<polyline points="158.2,323.9 158.9,323.8 159.7,324.3 160.4,324.6 161.2,324.7 161.9,324.6 162.7,324.9 163.4,325.8 164.2,325.8 164.9,325.5 165.7,325.7 166.4,326.2 167.2,326.4 167.9,326.5 168.7,326.8 169.4,327.1 170.2,327.5 170.9,327.0 171.7,327.6 172.4,328.1 173.2,328.1 173.9,328.2 174.7,328.5 175.4,329.0 176.2,329.0 176.9,329.0 177.7,329.3 178.4,330.0 179.2,329.8 179.9,330.0 180.7,329.9 181.4,330.6 182.2,330.8 182.9,330.5 183.7,330.8 184.4,331.7 185.2,332.0 185.9,331.4 186.7,331.8 187.4,332.6 188.2,332.4 188.9,332.3 189.7,332.8 190.4,333.3 191.2,333.3 191.9,333.0 192.7,333.6 193.4,334.5 194.2,334.5 194.9,333.9 195.7,334.5 196.4,335.1 197.2,335.0 197.9,335.0 198.7,335.3 199.4,336.1 200.2,335.9 200.9,336.0 201.7,336.3 202.4,336.8 203.2,336.6 203.9,336.6 204.7,336.8 205.4,337.7 206.2,337.7 206.9,337.5 207.7,338.1 208.4,338.2 209.2,338.6 209.9,338.4 210.7,338.5 211.4,339.1 212.2,339.0 212.9,339.1 213.7,339.5 214.4,339.9 215.2,340.0 215.9,339.6 216.7,340.2 217.4,340.5 218.2,340.7 218.9,340.2 219.7,340.3 220.4,340.9 221.2,341.0 221.9,340.8 222.7,341.0 223.4,341.2 224.2,341.3 224.9,340.9 225.7,340.8 226.4,341.2 227.2,341.0 227.9,340.2 228.7,340.3 229.4,340.6 230.2,340.4 230.9,339.8 231.7,339.4 232.4,339.7 233.2,338.9 233.9,338.1 234.7,337.7 235.4,337.5 236.2,336.4 236.9,335.4 237.7,334.6 238.4,333.8 239.2,332.7 239.9,331.2 240.7,330.1 241.4,329.2 242.2,327.5 242.9,325.7 243.7,324.1 244.4,322.8 245.2,320.8 245.9,318.6 246.7,316.8 247.4,315.2 248.2,312.6 248.9,310.4 249.7,308.4 250.4,306.8 251.2,304.5 251.9,302.3 252.7,300.7 253.4,299.6 254.2,298.9 254.9,298.2 255.7,298.9 256.4,300.2 257.2,301.4 257.9,302.8 258.7,305.1 259.4,307.3 260.2,309.3 260.9,311.0 261.7,313.8 262.4,316.5 263.2,318.6 263.9,320.8 264.7,323.7 265.4,326.3 266.2,328.0 266.9,329.9 267.7,332.4 268.4,334.5 269.2,335.9 269.9,337.2 270.7,339.0 271.4,340.5 272.2,341.4 272.9,342.6 273.7,344.0 274.4,346.0 275.2,346.7 275.9,347.7 276.7,349.2 277.4,350.5 278.2,350.8 278.9,351.5 279.7,352.5 280.4,353.9 281.2,354.3 281.9,354.6 282.7,355.5 283.4,356.3 284.2,356.6 284.9,357.0 285.7,357.9 286.4,358.6 287.2,358.7 287.9,358.6 288.7,359.3 289.4,359.9 290.2,360.2 290.9,359.9 291.7,360.5 292.4,361.2 293.2,361.4 293.9,361.5 294.7,361.8 295.4,362.6 296.2,362.6 296.9,362.4 297.7,362.9 298.4,363.7 299.2,363.4 299.9,363.3 300.7,364.3 301.4,364.5 302.2,364.4 302.9,364.5 303.7,364.9 304.4,365.3 305.2,365.4 305.9,365.4 306.7,365.8 307.4,366.4 308.2,366.5 308.9,366.3 309.7,367.1 310.4,367.5 311.2,367.2 311.9,367.1 312.7,368.0 313.4,368.4 314.2,368.1 314.9,368.1 315.7,369.0 316.4,369.5 317.2,369.0 317.9,369.2 318.7,369.8 319.4,370.1 320.2,369.8 320.9,370.0 321.7,370.8 322.4,371.2 323.2,371.0 323.9,370.8 324.7,371.4 325.4,371.9 326.2,371.8 326.9,371.8 327.7,372.7 328.4,372.7 329.2,373.0 329.9,372.6 330.7,373.6 331.4,373.6 332.2,373.6 332.9,373.6 333.7,374.0 334.4,374.8 335.2,374.6 335.9,374.4 336.7,375.3 337.4,375.5 338.2,375.6 338.9,375.2 339.7,376.0 340.4,376.3 341.2,376.3 341.9,376.4 342.7,377.1 343.4,377.3 344.2,377.0 344.9,377.3 345.7,377.6 346.4,378.0 347.2,378.1 347.9,378.0 348.7,378.9 349.4,378.8 350.2,378.8 350.9,378.7 351.7,379.2 352.4,379.6 353.2,379.4 353.9,379.6 354.7,380.2 355.4,380.5 356.2,380.1 356.9,380.4 357.7,380.8 358.4,381.2 359.2,380.5 359.9,380.6 360.7,381.0 361.4,381.1 362.2,380.9 362.9,380.4 363.7,381.1 364.4,380.9 365.2,380.4 365.9,380.3 366.7,380.6 367.4,380.5 368.2,379.9 368.9,380.2 369.7,380.4 370.4,380.4 371.2,380.3 371.9,380.3 372.7,380.8 373.4,381.1 374.2,381.2 374.9,381.2 375.7,382.0 376.4,382.7 377.2,382.4 377.9,382.8 378.7,383.5 379.4,384.3 380.2,384.4 380.9,384.7 381.7,385.6 382.4,386.0 383.2,386.3 383.9,386.6 384.7,387.6 385.4,387.9 386.2,388.0 386.9,388.0 387.7,388.9 388.4,389.7 389.2,389.5 389.9,389.7 390.7,390.4 391.4,390.7 392.2,390.4 392.9,390.7 393.7,391.6 394.4,391.9 395.2,391.5 395.9,391.9 396.7,392.3 397.4,392.8 398.2,392.4 398.9,392.7 399.7,393.3 400.4,393.7 401.2,393.2 401.9,393.6 402.7,394.3 403.4,394.3 404.2,394.2 404.9,394.6 405.7,395.2 406.4,395.4 407.2,395.3 407.9,395.4 408.7,395.9 409.4,396.2 410.2,396.2 410.9,396.3 411.7,397.0 412.4,397.0 413.2,396.8 413.9,397.3 414.7,397.9 415.4,398.0 416.2,397.5 416.9,398.0 417.7,398.4 418.4,399.0 419.2,398.8 419.9,398.9 420.7,399.4 421.4,399.8 422.2,399.3 422.9,399.9 423.7,400.3 424.4,400.3 425.2,400.5 425.9,400.5 426.7,401.4 427.4,401.5 428.2,401.2 428.9,401.6 429.7,401.9 430.4,402.4 431.2,401.9 431.9,402.1 432.7,402.8 433.4,402.9 434.2,402.7 434.9,403.2 435.7,403.6 436.4,403.8 437.2,403.6 437.9,403.9 438.7,404.9 439.4,405.0 440.2,404.8 440.9,405.1 441.7,405.5 442.4,405.8 443.2,405.3 443.9,406.0 444.7,406.5 445.4,406.6 446.2,406.2 446.9,406.4 447.7,407.5 448.4,407.4 449.2,407.2 449.9,407.7 450.7,407.9 451.4,408.3 452.2,408.0" fill="#a5f681" stroke="#69f02d"/>
<polyline points="149.9,330.6 150.6,331.0 151.4,331.9 152.1,331.4 152.9,331.6 153.6,332.2 154.4,332.4 155.1,332.5 155.9,332.3 156.6,332.7 157.4,333.2 158.1,333.5 158.9,333.1 159.6,333.7 160.4,334.2 161.1,333.9 161.9,334.2 162.6,334.7 163.4,335.3 164.1,334.9 164.9,334.8 165.6,335.4 166.4,336.1 167.1,335.9 167.9,335.7 168.6,336.3 169.4,336.6 170.1,336.9 170.9,336.6 171.6,337.2 172.4,337.8 173.1,337.4 173.9,337.6 174.6,338.0 175.4,338.7 176.1,338.2 176.9,338.3 177.6,339.0 178.4,339.4 179.1,339.2 179.9,339.3 180.6,339.7 181.4,340.2 182.1,339.9 182.9,340.2 183.6,340.5 184.4,341.3 185.1,341.0 185.9,341.0 186.6,341.6 187.4,341.8 188.1,342.0 188.9,341.7 189.6,342.6 190.4,343.0 191.1,342.8 191.9,342.8 192.6,343.2 193.4,343.8 194.1,343.8 194.9,343.4 195.6,343.9 196.4,344.5 197.1,344.4 197.9,344.2 198.6,344.9 199.4,345.6 200.1,345.2 200.9,345.1 201.6,345.7 202.4,346.3 203.1,346.0 203.9,346.1 204.6,346.7 205.4,347.1 206.1,347.0 206.9,347.2 207.6,347.3 208.4,348.2 209.1,347.7 209.9,347.6 210.6,348.6 211.4,348.9 212.1,348.7 212.9,348.6 213.6,349.4 214.4,349.6 215.1,349.6 215.9,349.4 216.6,350.2 217.4,350.6 218.1,350.2 218.9,350.3 219.6,350.7 220.4,351.3 221.1,351.1 221.9,350.9 222.6,351.6 223.4,352.0 224.1,351.4 224.9,351.7 225.6,352.2 226.4,352.0 227.1,351.7 227.9,351.5 228.6,351.9 229.4,351.9 230.1,351.5 230.9,351.1 231.6,351.2 232.4,351.1 233.1,350.2 233.9,349.8 234.6,349.5 235.4,348.6 236.1,347.5 236.9,346.3 237.6,345.8 238.4,344.7 239.1,343.2 239.9,341.8 240.6,340.7 241.4,338.8 242.1,336.7 242.9,335.1 243.6,333.6 244.4,332.2 245.1,329.8 245.9,328.1 246.6,327.0 247.4,326.5 248.1,325.4 248.9,325.2 249.6,326.1 250.4,327.2 251.1,327.9 251.9,328.9 252.6,330.6 253.4,332.3 254.1,333.7 254.9,335.1 255.6,337.4 256.4,339.1 257.1,340.4 257.9,342.1 258.6,344.0 259.4,345.8 260.1,347.0 260.9,348.0 261.6,349.9 262.4,351.4 263.1,352.1 263.9,352.6 264.6,354.4 265.4,355.4 266.1,356.0 266.9,356.7 267.6,357.9 268.4,358.8 269.1,359.4 269.9,360.1 270.6,361.0 271.4,361.9 272.1,362.1 272.9,362.7 273.6,363.3 274.4,364.1 275.1,364.1 275.9,364.6 276.6,365.4 277.4,365.7 278.1,365.9 278.9,366.0 279.6,367.1 280.4,367.2 281.1,367.2 281.9,367.6 282.6,368.0 283.4,368.6 284.1,368.1 284.9,368.8 285.6,369.0 286.4,369.7 287.1,369.3 287.9,369.5 288.6,370.3 289.4,370.6 290.1,370.3 290.9,370.4 291.6,371.3 292.4,371.4 293.1,371.6 293.9,371.5 294.6,372.2 295.4,372.3 296.1,372.5 296.9,372.5 297.6,373.3 298.4,373.6 299.1,373.2 299.9,373.6 300.6,374.0 301.4,374.1 302.1,373.9 302.9,374.4 303.6,375.2 304.4,375.1 305.1,375.0 305.9,375.4 306.6,375.8 307.4,376.0 308.1,376.0 308.9,376.2 309.6,377.1 310.4,377.2 311.1,376.7 311.9,377.1 312.6,377.7 313.4,377.7 314.1,377.7 314.9,378.2 315.6,378.5 316.4,378.8 317.1,378.7 317.9,378.7 318.6,379.7 319.4,379.5 320.1,379.4 320.9,379.9 321.6,380.2 322.4,380.5 323.1,380.2 323.9,380.6 324.6,381.1 325.4,381.3 326.1,381.1 326.9,381.3 327.6,382.0 328.4,382.1 329.1,382.1 329.9,382.2 330.6,383.2 331.4,383.1 332.1,382.8 332.9,383.2 333.6,384.1 334.4,383.8 335.1,384.0 335.9,384.0 336.6,385.0 337.4,384.8 338.1,384.7 338.9,385.2 339.6,385.5 340.4,385.5 341.1,385.7 341.9,385.9 342.6,386.6 343.4,386.5 344.1,386.4 344.9,386.6 345.6,387.3 346.4,387.3 347.1,387.2 347.9,387.4 348.6,388.0 349.4,388.2 350.1,387.7 350.9,388.3 351.6,388.7 352.4,388.5 353.1,388.2 353.9,388.6 354.6,389.1 355.4,389.1 356.1,388.6 356.9,388.8 357.6,389.4 358.4,388.9 359.1,388.9 359.9,389.0 360.6,389.5 361.4,389.3 362.1,388.6 362.9,389.2 363.6,389.5 364.4,389.3 365.1,389.5 365.9,389.7 366.6,390.4 367.4,390.3 368.1,390.0 368.9,390.9 369.6,391.2 370.4,391.4 371.1,391.6 371.9,392.0 372.6,392.9 373.4,393.2 374.1,392.9 374.9,393.8 375.6,394.3 376.4,394.6 377.1,394.7 377.9,395.3 378.6,395.7 379.4,395.9 380.1,396.3 380.9,396.5 381.6,397.2 382.4,397.3 383.1,397.4 383.9,397.9 384.6,398.5 385.4,398.4 386.1,398.4 386.9,398.8 387.6,399.3 388.4,399.6 389.1,399.5 389.9,399.9 390.6,400.6 391.4,400.3 392.1,400.4 392.9,400.5 393.6,401.3 394.4,401.3 395.1,401.3 395.9,401.7 396.6,402.3 397.4,401.9 398.1,402.1 398.9,402.4 399.6,402.9 400.4,402.9 401.1,402.9 401.9,403.4 402.6,404.0 403.4,403.9 404.1,403.5 404.9,404.0 405.6,404.7 406.4,404.5 407.1,404.4 407.9,404.8 408.6,405.4 409.4,405.6 410.1,405.2 410.9,406.0 411.6,406.3 412.4,406.5 413.1,406.1 413.9,406.6 414.6,407.2 415.4,407.0 416.1,407.1 416.9,407.5 417.6,407.9 418.4,408.2 419.1,407.9 419.9,408.2 420.6,409.2 421.4,408.8 422.1,408.7 422.9,409.1 423.6,409.7 424.4,409.9 425.1,409.7 425.9,410.2 426.6,410.6 427.4,410.5 428.1,410.8 428.9,411.0 429.6,411.8 430.4,411.7 431.1,411.2 431.9,412.1 432.6,412.2 433.4,412.5 434.1,412.4 434.9,412.9 435.6,413.3 436.4,413.4 437.1,413.0 437.9,413.7 438.6,414.0 439.4,414.0 440.1,413.8 440.9,414.6 441.6,415.1 442.4,415.1 443.1,414.9 443.9,415.4" fill="#c0f581" stroke="#96ee2d"/>
<polyline points="141.6,337.9 142.3,338.5 143.1,338.5 143.8,338.6 144.6,338.6 145.3,339.1 146.1,339.4 146.8,339.4 147.6,339.7 148.3,340.2 149.1,340.4 149.8,340.3 150.6,340.5 151.3,341.0 152.1,341.2 152.8,341.1 153.6,341.2 154.3,341.7 155.1,342.1 155.8,342.0 156.6,342.0 157.3,342.8 158.1,343.1 158.8,342.5 159.6,342.8 160.3,343.6 161.1,343.7 161.8,343.8 162.6,344.1 163.3,344.4 164.1,344.8 164.8,344.5 165.6,344.5 166.3,345.6 167.1,345.3 167.8,345.1 168.6,345.5 169.3,346.0 170.1,346.3 170.8,346.1 171.6,346.7 172.3,347.0 173.1,347.4 173.8,347.1 174.6,347.3 175.3,347.8 176.1,348.0 176.8,347.9 177.6,348.1 178.3,348.9 179.1,348.9 179.8,348.6 180.6,349.1 181.3,349.9 182.1,349.6 182.8,349.5 183.6,349.7 184.3,350.3 185.1,350.4 185.8,350.4 186.6,350.9 187.3,351.5 188.1,351.7 188.8,351.5 189.6,351.7 190.3,352.3 191.1,352.1 191.8,352.1 192.6,352.4 193.3,353.2 194.1,353.0 194.8,353.0 195.6,353.3 196.3,354.0 197.1,354.0 197.8,353.7 198.6,354.4 199.3,355.0 200.1,355.0 200.8,354.5 201.6,355.2 202.3,355.9 203.1,356.0 203.8,355.7 204.6,355.7 205.3,356.8 206.1,356.7 206.8,356.3 207.6,357.0 208.3,357.6 209.1,357.7 209.8,357.2 210.6,357.7 211.3,358.2 212.1,358.2 212.8,358.3 213.6,358.6 214.3,359.1 215.1,359.2 215.8,359.2 216.6,359.4 217.3,360.2 218.1,360.0 218.8,360.0 219.6,359.9 220.3,360.7 221.1,360.7 221.8,360.5 222.6,361.0 223.3,361.2 224.1,361.0 224.8,360.8 225.6,360.9 226.3,361.3 227.1,361.1 227.8,360.0 228.6,360.1 229.3,360.4 230.1,359.3 230.8,358.7 231.6,357.9 232.3,357.7 233.1,356.6 233.8,354.9 234.6,354.0 235.3,352.9 236.1,351.5 236.8,349.6 237.6,348.3 238.3,346.9 239.1,345.3 239.8,343.8 240.6,342.8 241.3,342.4 242.1,341.4 242.8,341.3 243.6,342.0 244.3,343.1 245.1,344.0 245.8,344.4 246.6,346.0 247.3,347.8 248.1,348.9 248.8,349.5 249.6,351.3 250.3,353.2 251.1,354.5 251.8,355.1 252.6,357.0 253.3,358.4 254.1,359.3 254.8,360.3 255.6,361.1 256.3,362.5 257.1,363.0 257.8,363.5 258.6,364.7 259.3,366.0 260.1,366.4 260.8,366.6 261.6,367.9 262.3,368.7 263.1,368.9 263.8,369.5 264.6,370.4 265.3,370.9 266.1,371.5 266.8,371.6 267.6,372.0 268.3,372.6 269.1,373.1 269.8,373.2 270.6,373.4 271.3,374.4 272.1,374.4 272.8,374.4 273.6,375.1 274.3,375.7 275.1,375.4 275.8,375.6 276.6,376.2 277.3,376.5 278.1,376.6 278.8,376.6 279.6,377.2 280.3,377.6 281.1,377.4 281.8,377.3 282.6,378.0 283.3,378.4 284.1,378.7 284.8,378.6 285.6,378.9 286.3,379.6 287.1,379.5 287.8,379.2 288.6,380.1 289.3,380.6 290.1,380.2 290.8,380.1 291.6,380.7 292.3,381.5 293.1,381.2 293.8,381.4 294.6,381.6 295.3,382.0 296.1,382.1 296.8,382.3 297.6,382.5 298.3,382.9 299.1,383.2 299.8,382.8 300.6,383.6 301.3,383.8 302.1,383.8 302.8,384.0 303.6,384.6 304.3,384.9 305.1,384.8 305.8,384.5 306.6,385.3 307.3,385.7 308.1,385.8 308.8,385.8 309.6,386.4 310.3,386.7 311.1,386.6 311.8,386.3 312.6,387.0 313.3,387.4 314.1,387.3 314.8,387.5 315.6,387.8 316.3,388.3 317.1,388.2 317.8,388.5 318.6,388.9 319.3,389.3 320.1,389.1 320.8,389.4 321.6,390.0 322.3,390.1 323.1,390.0 323.8,390.2 324.6,390.5 325.3,390.9 326.1,390.7 326.8,390.9 327.6,391.6 328.3,391.7 329.1,391.7 329.8,392.0 330.6,392.3 331.3,392.7 332.1,392.8 332.8,392.8 333.6,393.2 334.3,393.4 335.1,393.5 335.8,393.6 336.6,394.3 337.3,394.5 338.1,394.2 338.8,394.3 339.6,394.8 340.3,395.3 341.1,395.1 341.8,395.3 342.6,395.9 343.3,396.2 344.1,395.8 344.8,396.0 345.6,396.1 346.3,396.8 347.1,396.4 347.8,396.5 348.6,396.7 349.3,397.3 350.1,396.5 350.8,396.8 351.6,397.3 352.3,397.3 353.1,397.2 353.8,396.8 354.6,397.6 355.3,397.7 356.1,397.4 356.8,397.3 357.6,398.2 358.3,398.5 359.1,398.0 359.8,398.5 360.6,398.8 361.3,399.3 362.1,399.2 362.8,399.4 363.6,400.3 364.3,400.8 365.1,400.5 365.8,400.6 366.6,401.2 367.3,401.7 368.1,401.8 368.8,402.1 369.6,402.7 370.3,403.4 371.1,403.0 371.8,403.2 372.6,404.0 373.3,404.2 374.1,404.5 374.8,404.5 375.6,405.1 376.3,405.4 377.1,405.2 377.8,405.4 378.6,406.1 379.3,406.4 380.1,406.5 380.8,406.4 381.6,406.9 382.3,407.1 383.1,407.0 383.8,407.2 384.6,408.1 385.3,408.4 386.1,407.9 386.8,408.3 387.6,408.8 388.3,409.1 389.1,408.9 389.8,408.8 390.6,409.5 391.3,410.1 392.1,409.9 392.8,409.9 393.6,410.8 394.3,411.0 395.1,410.5 395.8,410.6 396.6,411.5 397.3,411.8 398.1,411.3 398.8,411.4 399.6,412.3 400.3,412.3 401.1,412.5 401.8,412.6 402.6,413.1 403.3,413.4 404.1,413.1 404.8,413.2 405.6,413.9 406.3,414.4 407.1,414.0 407.8,414.4 408.6,414.8 409.3,415.3 410.1,415.0 410.8,415.2 411.6,415.7 412.3,416.0 413.1,415.6 413.8,416.2 414.6,416.7 415.3,416.9 416.1,416.7 416.8,416.7 417.6,417.4 418.3,417.6 419.1,417.7 419.8,417.5 420.6,418.3 421.3,418.7 422.1,418.5 422.8,418.7 423.6,419.1 424.3,419.3 425.1,419.3 425.8,419.3 426.6,420.2 427.3,420.2 428.1,420.2 428.8,420.4 429.6,421.1 430.3,421.4 431.1,420.9 431.8,421.4 432.6,421.6 433.3,422.2 434.1,421.6 434.8,422.1 435.6,422.6" fill="#d7eb7e" stroke="#bcde28"/>
<polyline points="133.3,344.7 134.0,345.1 134.8,345.9 135.5,345.8 136.3,345.8 137.0,346.1 137.8,346.4 138.5,346.7 139.3,346.3 140.0,347.0 140.8,347.3 141.5,347.3 142.3,347.4 143.0,348.0 143.8,348.4 144.5,348.3 145.3,348.3 146.0,348.8 146.8,349.1 147.5,349.2 148.3,349.1 149.0,349.7 149.8,350.0 150.5,349.9 151.3,349.9 152.0,350.3 152.8,350.9 153.5,351.0 154.3,350.8 155.0,351.2 155.8,351.9 156.5,351.5 157.3,351.8 158.0,352.0 158.8,352.5 159.5,352.5 160.3,352.5 161.0,352.9 161.8,353.7 162.5,353.7 163.3,353.3 164.0,354.0 164.8,354.5 165.5,354.3 166.3,354.1 167.0,355.0 167.8,355.5 168.5,354.9 169.3,355.0 170.0,355.6 170.8,356.0 171.5,356.0 172.3,356.2 173.0,356.3 173.8,357.2 174.5,356.8 175.3,356.6 176.0,357.6 176.8,357.7 177.5,357.6 178.3,357.5 179.0,358.2 179.8,358.5 180.5,358.4 181.3,358.4 182.0,359.2 182.8,359.6 183.5,359.3 184.3,359.4 185.0,360.1 185.8,360.6 186.5,360.2 187.3,360.5 188.0,361.0 188.8,361.3 189.5,361.1 190.3,361.1 191.0,361.5 191.8,362.4 192.5,362.1 193.3,361.8 194.0,362.8 194.8,363.2 195.5,362.6 196.3,363.0 197.0,363.3 197.8,363.9 198.5,363.9 199.3,363.7 200.0,364.3 200.8,364.8 201.5,364.4 202.3,364.7 203.0,365.2 203.8,365.8 204.5,365.3 205.3,365.6 206.0,365.8 206.8,366.3 207.5,366.1 208.3,366.1 209.0,366.9 209.8,367.1 210.5,367.3 211.3,367.0 212.0,367.8 212.8,368.3 213.5,367.8 214.3,367.8 215.0,368.7 215.8,368.9 216.5,368.9 217.3,368.6 218.0,369.1 218.8,369.7 219.5,369.1 220.3,369.3 221.0,369.7 221.8,369.5 222.5,369.2 223.3,369.1 224.0,368.9 224.8,369.2 225.5,368.4 226.3,367.8 227.0,367.6 227.8,366.9 228.5,366.2 229.3,364.8 230.0,364.7 230.8,363.8 231.5,362.2 232.3,361.2 233.0,360.4 233.8,359.6 234.5,357.9 235.3,357.5 236.0,357.1 236.8,357.2 237.5,356.7 238.3,357.2 239.0,357.9 239.8,358.9 240.5,359.1 241.3,360.1 242.0,361.3 242.8,362.8 243.5,363.4 244.3,364.2 245.0,366.0 245.8,367.1 246.5,367.7 247.3,368.1 248.0,369.8 248.8,370.8 249.5,371.2 250.3,371.5 251.0,373.1 251.8,373.7 252.5,374.0 253.3,374.7 254.0,375.4 254.8,376.0 255.5,376.6 256.3,376.7 257.0,377.6 257.8,378.2 258.5,378.7 259.3,379.0 260.0,379.5 260.8,380.0 261.5,380.3 262.3,380.5 263.0,381.3 263.8,381.4 264.5,381.5 265.3,382.0 266.0,382.2 266.8,382.8 267.5,382.5 268.3,383.2 269.0,383.4 269.8,384.1 270.5,383.9 271.3,384.1 272.0,384.4 272.8,385.0 273.5,384.7 274.3,384.9 275.0,385.4 275.8,385.9 276.5,385.8 277.3,385.7 278.0,386.7 278.8,386.7 279.5,386.5 280.3,386.7 281.0,387.4 281.8,387.8 282.5,387.5 283.3,387.9 284.0,388.4 284.8,388.6 285.5,388.6 286.3,388.5 287.0,389.0 287.8,389.4 288.5,389.2 289.3,389.3 290.0,390.1 290.8,390.1 291.5,390.4 292.3,390.4 293.0,391.2 293.8,391.4 294.5,391.2 295.3,391.4 296.0,391.8 296.8,392.3 297.5,391.8 298.3,392.2 299.0,392.9 299.8,393.2 300.5,392.6 301.3,393.0 302.0,393.9 302.8,394.0 303.5,393.9 304.3,393.7 305.0,394.4 305.8,394.6 306.5,394.7 307.3,394.9 308.0,395.5 308.8,395.8 309.5,395.4 310.3,395.7 311.0,396.5 311.8,396.6 312.5,396.4 313.3,396.6 314.0,397.2 314.8,397.5 315.5,397.2 316.3,397.2 317.0,398.0 317.8,398.2 318.5,398.0 319.3,398.3 320.0,398.9 320.8,399.0 321.5,398.8 322.3,399.1 323.0,400.0 323.8,399.7 324.5,399.5 325.3,400.2 326.0,400.6 326.8,400.8 327.5,400.6 328.3,400.8 329.0,401.4 329.8,401.4 330.5,401.6 331.3,402.0 332.0,402.3 332.8,402.5 333.5,402.2 334.3,402.4 335.0,403.4 335.8,403.5 336.5,402.9 337.3,403.2 338.0,404.0 338.8,404.2 339.5,403.7 340.3,404.0 341.0,404.5 341.8,404.8 342.5,404.5 343.3,404.8 344.0,405.0 344.8,405.2 345.5,405.2 346.3,405.3 347.0,405.7 347.8,405.6 348.5,405.3 349.3,406.0 350.0,406.2 350.8,406.6 351.5,406.4 352.3,406.7 353.0,407.5 353.8,407.6 354.5,407.3 355.3,407.5 356.0,408.4 356.8,408.4 357.5,408.2 358.3,409.0 359.0,409.5 359.8,409.4 360.5,409.3 361.3,409.8 362.0,410.6 362.8,410.6 363.5,410.5 364.3,411.1 365.0,411.5 365.8,411.8 366.5,411.5 367.3,412.2 368.0,412.9 368.8,412.6 369.5,412.6 370.3,412.8 371.0,413.5 371.8,413.7 372.5,413.5 373.3,413.8 374.0,414.3 374.8,414.3 375.5,414.4 376.3,414.6 377.0,415.3 377.8,415.4 378.5,415.4 379.3,415.7 380.0,416.1 380.8,416.3 381.5,416.0 382.3,416.7 383.0,416.9 383.8,417.0 384.5,416.9 385.3,417.6 386.0,417.8 386.8,417.8 387.5,417.6 388.3,418.1 389.0,418.7 389.8,418.8 390.5,418.8 391.3,419.1 392.0,419.7 392.8,419.6 393.5,419.7 394.3,420.2 395.0,420.5 395.8,420.7 396.5,420.3 397.3,421.1 398.0,421.4 398.8,421.5 399.5,421.2 400.3,421.6 401.0,422.1 401.8,422.4 402.5,422.1 403.3,422.7 404.0,423.1 404.8,423.1 405.5,422.8 406.3,423.3 407.0,423.9 407.8,424.1 408.5,423.9 409.3,424.1 410.0,425.0 410.8,424.8 411.5,424.5 412.3,425.1 413.0,425.6 413.8,425.8 414.5,425.6 415.3,426.0 416.0,426.5 416.8,426.4 417.5,426.3 418.3,426.8 419.0,427.6 419.8,427.5 420.5,427.4 421.3,428.0 422.0,428.4 422.8,427.9 423.5,427.6 424.3,427.7 425.0,427.5 425.8,426.7 426.5,426.5 427.3,427.3" fill="#e9dc7e" stroke="#dac428"/>
<polyline points="125.0,352.2 125.7,352.3 126.5,352.5 127.2,353.0 128.0,352.9 128.7,353.2 129.5,353.2 130.2,354.1 131.0,353.8 131.7,353.9 132.5,354.1 133.2,355.0 134.0,354.8 134.7,354.5 135.5,354.9 136.2,355.8 137.0,356.0 137.7,355.6 138.5,356.0 139.2,356.4 140.0,356.5 140.7,356.2 141.5,357.0 142.2,357.1 143.0,357.5 143.7,357.2 144.5,357.5 145.2,358.2 146.0,358.5 146.7,358.0 147.5,358.3 148.2,359.2 149.0,359.2 149.7,359.0 150.5,359.2 151.2,360.1 152.0,359.8 152.7,359.7 153.5,360.1 154.2,360.8 155.0,360.9 155.7,360.7 156.5,361.2 157.2,361.9 158.0,361.7 158.7,361.3 159.5,362.1 160.2,362.3 161.0,362.5 161.7,362.2 162.5,362.9 163.2,363.6 164.0,363.3 164.7,363.2 165.5,363.9 166.2,364.4 167.0,364.1 167.7,364.2 168.5,364.7 169.2,365.1 170.0,365.0 170.7,365.1 171.5,365.3 172.2,365.8 173.0,365.9 173.7,365.8 174.5,366.1 175.2,366.8 176.0,366.9 176.7,366.7 177.5,367.1 178.2,367.9 179.0,367.5 179.7,367.5 180.5,368.2 181.2,368.8 182.0,368.8 182.7,368.6 183.5,368.9 184.2,369.6 185.0,369.5 185.7,369.1 186.5,369.6 187.2,370.1 188.0,370.5 188.7,370.1 189.5,370.6 190.2,371.2 191.0,371.0 191.7,371.1 192.5,371.6 193.2,372.2 194.0,372.2 194.7,371.8 195.5,372.2 196.2,373.0 197.0,373.0 197.7,372.7 198.5,373.1 199.2,373.6 200.0,373.9 200.7,373.6 201.5,374.2 202.2,374.5 203.0,374.5 203.7,374.5 204.5,375.1 205.2,375.7 206.0,375.4 206.7,375.4 207.5,375.7 208.2,376.5 209.0,376.4 209.7,376.1 210.5,376.5 211.2,376.9 212.0,377.1 212.7,376.9 213.5,377.1 214.2,377.4 215.0,377.3 215.7,377.4 216.5,377.3 217.2,378.0 218.0,377.5 218.7,377.1 219.5,377.2 220.2,377.3 221.0,376.8 221.7,375.9 222.5,376.2 223.2,375.6 224.0,374.8 224.7,374.1 225.5,373.7 226.2,373.3 227.0,372.2 227.7,371.3 228.5,370.4 229.2,370.0 230.0,369.3 230.7,369.0 231.5,368.9 232.2,369.6 233.0,369.8 233.7,369.7 234.5,370.8 235.2,372.0 236.0,372.3 236.7,372.7 237.5,373.9 238.2,374.9 239.0,375.8 239.7,376.3 240.5,377.4 241.2,378.3 242.0,379.0 242.7,379.3 243.5,380.5 244.2,381.2 245.0,381.8 245.7,382.0 246.5,382.8 247.2,383.7 248.0,384.0 248.7,384.1 249.5,385.2 250.2,385.5 251.0,386.0 251.7,386.1 252.5,386.8 253.2,387.7 254.0,387.4 254.7,387.6 255.5,388.5 256.2,389.1 257.0,388.9 257.7,389.3 258.5,389.7 259.2,390.0 260.0,389.9 260.7,390.0 261.5,390.8 262.2,391.2 263.0,391.1 263.7,391.2 264.5,391.6 265.2,392.5 266.0,392.4 266.7,392.2 267.5,392.8 268.2,393.2 269.0,393.2 269.7,393.1 270.5,394.0 271.2,394.4 272.0,394.2 272.7,394.2 273.5,394.4 274.2,394.9 275.0,394.9 275.7,394.8 276.5,395.5 277.2,396.2 278.0,396.0 278.7,396.1 279.5,396.3 280.2,396.7 281.0,396.5 281.7,396.6 282.5,397.1 283.2,397.8 284.0,397.5 284.7,397.7 285.5,398.3 286.2,398.7 287.0,398.4 287.7,398.6 288.5,399.2 289.2,399.6 290.0,399.3 290.7,399.4 291.5,399.9 292.2,400.2 293.0,400.2 293.7,400.3 294.5,400.7 295.2,401.5 296.0,401.3 296.7,401.3 297.5,401.9 298.2,402.1 299.0,401.8 299.7,401.9 300.5,402.8 301.2,403.3 302.0,402.6 302.7,402.7 303.5,403.4 304.2,403.8 305.0,403.7 305.7,403.6 306.5,404.6 307.2,404.7 308.0,404.8 308.7,404.6 309.5,405.2 310.2,405.4 311.0,405.7 311.7,405.6 312.5,406.3 313.2,406.3 314.0,406.3 314.7,406.5 315.5,407.2 316.2,407.6 317.0,406.9 317.7,407.2 318.5,408.1 319.2,408.2 320.0,408.2 320.7,408.0 321.5,408.5 322.2,409.3 323.0,408.7 323.7,409.0 324.5,409.5 325.2,409.9 326.0,409.9 326.7,410.0 327.5,410.6 328.2,410.6 329.0,410.7 329.7,410.4 330.5,411.2 331.2,411.7 332.0,411.1 332.7,411.3 333.5,412.0 334.2,412.1 335.0,412.1 335.7,412.1 336.5,412.4 337.2,413.1 338.0,412.4 338.7,412.8 339.5,413.2 340.2,413.4 341.0,413.1 341.7,413.7 342.5,414.2 343.2,414.3 344.0,414.2 344.7,414.5 345.5,415.1 346.2,415.2 347.0,414.9 347.7,415.2 348.5,416.1 349.2,416.3 350.0,416.1 350.7,416.4 351.5,416.8 352.2,417.2 353.0,417.2 353.7,417.1 354.5,418.1 355.2,418.0 356.0,418.1 356.7,418.3 357.5,418.8 358.2,419.4 359.0,419.0 359.7,419.1 360.5,419.9 361.2,420.2 362.0,419.9 362.7,419.9 363.5,420.6 364.2,421.2 365.0,420.7 365.7,421.0 366.5,421.9 367.2,422.1 368.0,421.9 368.7,421.8 369.5,422.3 370.2,422.9 371.0,422.6 371.7,422.8 372.5,423.2 373.2,423.6 374.0,423.3 374.7,423.7 375.5,424.6 376.2,424.4 377.0,424.1 377.7,424.7 378.5,425.0 379.2,425.2 380.0,425.1 380.7,425.7 381.5,426.0 382.2,426.1 383.0,426.0 383.7,426.1 384.5,426.8 385.2,427.1 386.0,426.7 386.7,427.2 387.5,427.5 388.2,427.5 389.0,427.4 389.7,427.5 390.5,428.2 391.2,427.8 392.0,427.7 392.7,427.8 393.5,428.1 394.2,427.9 395.0,427.8 395.7,428.0 396.5,428.5 397.2,428.6 398.0,428.5 398.7,428.9 399.5,429.6 400.2,429.8 401.0,429.9 401.7,430.4 402.5,431.4 403.2,431.8 404.0,431.5 404.7,431.9 405.5,432.5 406.2,433.0 407.0,432.9 407.7,433.0 408.5,433.9 409.2,434.2 410.0,433.7 410.7,434.3 411.5,434.7 412.2,434.9 413.0,434.8 413.7,434.8 414.5,435.5 415.2,435.9 416.0,435.3 416.7,435.7 417.5,436.4 418.2,436.7 419.0,436.4" fill="#f6c67e" stroke="#f0a028"/>
<polyline points="116.7,359.1 117.4,359.4 118.2,359.6 118.9,359.4 119.7,359.9 120.4,360.3 121.2,360.7 121.9,360.6 122.7,360.6 123.4,361.6 124.2,361.5 124.9,361.6 125.7,361.6 126.4,362.3 127.2,362.4 127.9,362.1 128.7,362.6 129.4,362.9 130.2,363.2 130.9,363.0 131.7,363.5 132.4,364.0 133.2,363.9 133.9,363.8 134.7,364.3 135.4,365.0 136.2,364.8 136.9,364.9 137.7,365.0 138.4,365.7 139.2,365.8 139.9,365.6 140.7,366.2 141.4,366.8 142.2,366.9 142.9,366.6 143.7,366.9 144.4,367.3 145.2,367.3 145.9,367.5 146.7,367.8 147.4,368.4 148.2,368.3 148.9,368.1 149.7,368.8 150.4,369.2 151.2,369.0 151.9,369.0 152.7,369.3 153.4,369.8 154.2,370.4 154.9,370.1 155.7,370.4 156.4,370.7 157.2,371.0 157.9,370.6 158.7,371.3 159.4,371.9 160.2,372.0 160.9,371.8 161.7,371.8 162.4,372.4 163.2,372.5 163.9,372.7 164.7,373.0 165.4,373.5 166.2,373.4 166.9,373.6 167.7,373.6 168.4,374.3 169.2,374.2 169.9,374.5 170.7,374.6 171.4,375.4 172.2,375.4 172.9,375.1 173.7,375.7 174.4,376.2 175.2,376.4 175.9,376.2 176.7,376.1 177.4,377.1 178.2,376.9 178.9,376.7 179.7,377.1 180.4,378.1 181.2,377.6 181.9,377.7 182.7,377.9 183.4,378.9 184.2,378.7 184.9,378.6 185.7,379.0 186.4,379.7 187.2,379.5 187.9,379.4 188.7,379.9 189.4,380.5 190.2,380.6 190.9,380.2 191.7,380.9 192.4,381.4 193.2,381.3 193.9,381.1 194.7,381.6 195.4,381.9 196.2,381.9 196.9,381.9 197.7,382.2 198.4,382.8 199.2,383.1 199.9,383.0 200.7,383.3 201.4,383.7 202.2,383.9 202.9,383.8 203.7,384.2 204.4,384.5 205.2,384.7 205.9,384.4 206.7,384.8 207.4,385.2 208.2,385.5 208.9,385.2 209.7,385.7 210.4,385.8 211.2,385.7 211.9,385.6 212.7,385.7 213.4,386.2 214.2,386.0 214.9,385.6 215.7,386.0 216.4,386.0 217.2,385.6 217.9,385.0 218.7,385.1 219.4,385.0 220.2,384.2 220.9,384.0 221.7,383.8 222.4,383.4 223.2,382.8 223.9,382.2 224.7,382.5 225.4,382.4 226.2,382.2 226.9,382.3 227.7,382.6 228.4,383.5 229.2,383.8 229.9,383.9 230.7,384.6 231.4,385.6 232.2,385.9 232.9,386.2 233.7,387.2 234.4,388.0 235.2,388.3 235.9,388.5 236.7,389.7 237.4,390.5 238.2,390.6 238.9,390.6 239.7,391.4 240.4,392.5 241.2,392.4 241.9,392.4 242.7,393.4 243.4,394.2 244.2,393.9 244.9,394.1 245.7,394.8 246.4,395.3 247.2,395.4 247.9,395.6 248.7,396.3 249.4,396.8 250.2,396.8 250.9,396.7 251.7,397.2 252.4,397.7 253.2,398.1 253.9,398.1 254.7,398.6 255.4,398.8 256.2,399.0 256.9,398.7 257.7,399.4 258.4,399.8 259.2,400.0 259.9,400.0 260.7,400.5 261.4,400.8 262.2,401.0 262.9,400.6 263.7,401.3 264.4,401.9 265.2,401.5 265.9,401.6 266.7,402.0 267.4,402.8 268.2,402.4 268.9,402.4 269.7,403.0 270.4,403.6 271.2,403.5 271.9,403.4 272.7,404.2 273.4,404.6 274.2,404.2 274.9,404.3 275.7,404.7 276.4,405.2 277.2,405.0 277.9,405.0 278.7,405.7 279.4,406.4 280.2,406.1 280.9,405.8 281.7,406.5 282.4,407.1 283.2,406.9 283.9,406.7 284.7,407.3 285.4,408.0 286.2,407.9 286.9,407.6 287.7,408.5 288.4,408.7 289.2,408.7 289.9,408.7 290.7,409.2 291.4,409.9 292.2,409.5 292.9,409.5 293.7,410.2 294.4,410.7 295.2,410.6 295.9,410.5 296.7,411.0 297.4,411.5 298.2,411.3 298.9,411.5 299.7,412.1 300.4,412.4 301.2,412.0 301.9,412.2 302.7,412.7 303.4,413.0 304.2,413.1 304.9,412.9 305.7,413.7 306.4,414.0 307.2,413.8 307.9,414.0 308.7,414.6 309.4,415.1 310.2,414.9 310.9,414.9 311.7,415.2 312.4,415.8 313.2,415.5 313.9,415.8 314.7,416.2 315.4,416.5 316.2,416.2 316.9,416.4 317.7,417.1 318.4,417.3 319.2,417.0 319.9,417.3 320.7,417.7 321.4,418.1 322.2,418.0 322.9,418.1 323.7,418.7 324.4,419.1 325.2,418.8 325.9,418.7 326.7,419.3 327.4,419.9 328.2,419.8 328.9,419.6 329.7,420.2 330.4,420.5 331.2,420.5 331.9,420.4 332.7,421.1 333.4,421.1 334.2,420.9 334.9,421.0 335.7,421.7 336.4,422.1 337.2,421.9 337.9,422.3 338.7,422.6 339.4,423.0 340.2,423.1 340.9,423.0 341.7,423.7 342.4,424.1 343.2,423.7 343.9,423.7 344.7,424.8 345.4,424.9 346.2,424.8 346.9,424.7 347.7,425.7 348.4,425.8 349.2,425.8 349.9,425.7 350.7,426.7 351.4,426.7 352.2,426.5 352.9,427.0 353.7,427.3 354.4,427.6 355.2,427.5 355.9,427.9 356.7,428.1 357.4,428.5 358.2,428.6 358.9,428.4 359.7,429.2 360.4,429.6 361.2,429.4 361.9,429.6 362.7,429.9 363.4,430.5 364.2,430.1 364.9,430.5 365.7,430.9 366.4,431.4 367.2,431.0 367.9,431.1 368.7,431.6 369.4,432.1 370.2,431.6 370.9,431.9 371.7,432.9 372.4,433.0 373.2,432.9 373.9,432.7 374.7,433.5 375.4,433.8 376.2,433.4 376.9,433.7 377.7,434.6 378.4,434.8 379.2,434.4 379.9,434.7 380.7,435.5 381.4,435.7 382.2,435.3 382.9,435.3 383.7,436.3 384.4,436.2 385.2,436.0 385.9,436.2 386.7,437.0 387.4,437.3 388.2,437.0 388.9,437.2 389.7,437.7 390.4,438.2 391.2,437.9 391.9,438.0 392.7,438.9 393.4,439.1 394.2,438.9 394.9,439.2 395.7,439.4 396.4,439.7 397.2,439.6 397.9,439.7 398.7,440.6 399.4,440.8 400.2,440.3 400.9,440.7 401.7,441.6 402.4,441.7 403.2,441.3 403.9,441.4 404.7,442.2 405.4,442.4 406.2,442.3 406.9,442.3 407.7,443.0 408.4,443.5 409.2,442.8 409.9,443.4 410.7,443.7" fill="#ffad83" stroke="#ff7630"/>
<polyline points="108.4,366.0 109.2,366.7 109.9,366.9 110.7,367.2 111.4,366.7 112.2,367.1 112.9,367.7 113.7,367.7 114.4,367.7 115.2,368.4 115.9,368.7 116.7,368.8 117.4,368.4 118.2,369.1 118.9,369.6 119.7,369.4 120.4,369.5 121.2,369.9 121.9,370.4 122.7,370.6 123.4,370.4 124.2,370.6 124.9,371.1 125.7,371.1 126.4,371.1 127.2,371.7 127.9,372.4 128.7,372.4 129.4,372.2 130.2,372.3 130.9,373.2 131.7,373.1 132.4,372.9 133.2,373.6 133.9,374.0 134.7,373.7 135.4,373.6 136.2,374.1 136.9,374.8 137.7,374.8 138.4,374.8 139.2,374.9 139.9,375.4 140.7,375.8 141.4,375.4 142.2,375.9 142.9,376.7 143.7,376.2 144.4,376.5 145.2,377.1 145.9,377.4 146.7,377.3 147.4,377.0 148.2,377.8 148.9,378.3 149.7,378.3 150.4,378.1 151.2,378.4 151.9,379.0 152.7,379.1 153.4,378.7 154.2,379.3 154.9,379.8 155.7,380.0 156.4,379.8 157.2,380.3 157.9,381.1 158.7,380.8 159.4,380.5 160.2,381.2 160.9,381.9 161.7,381.5 162.4,381.5 163.2,382.1 163.9,382.8 164.7,382.5 165.4,382.2 166.2,383.0 166.9,383.3 167.7,383.3 168.4,383.3 169.2,383.6 169.9,384.3 170.7,384.0 171.4,384.2 172.2,384.8 172.9,385.1 173.7,385.1 174.4,384.9 175.2,385.4 175.9,386.0 176.7,385.9 177.4,385.7 178.2,386.5 178.9,386.8 179.7,386.6 180.4,386.6 181.2,387.4 181.9,387.9 182.7,387.8 183.4,387.4 184.2,387.9 184.9,388.6 185.7,388.2 186.4,388.6 187.2,389.1 187.9,389.4 188.7,389.3 189.4,389.4 190.2,389.7 190.9,390.2 191.7,390.3 192.4,390.2 193.2,390.8 193.9,391.0 194.7,390.9 195.4,390.9 196.2,391.4 196.9,392.1 197.7,391.9 198.4,392.1 199.2,392.5 199.9,393.1 200.7,392.7 201.4,392.7 202.2,393.2 202.9,393.7 203.7,393.8 204.4,393.5 205.2,393.9 205.9,394.4 206.7,394.2 207.4,394.4 208.2,394.9 208.9,395.3 209.7,395.3 210.4,395.2 211.2,395.4 211.9,395.7 212.7,395.9 213.4,395.8 214.2,396.4 214.9,396.6 215.7,396.1 216.4,396.3 217.2,397.0 217.9,397.2 218.7,396.7 219.4,396.8 220.2,397.8 220.9,397.9 221.7,397.6 222.4,397.9 223.2,398.7 223.9,399.0 224.7,398.8 225.4,399.0 226.2,399.3 226.9,399.9 227.7,399.9 228.4,399.8 229.2,400.4 229.9,401.1 230.7,400.9 231.4,400.7 232.2,401.3 232.9,402.0 233.7,402.0 234.4,402.0 235.2,402.7 235.9,402.7 236.7,402.8 237.4,402.7 238.2,403.4 238.9,403.7 239.7,403.7 240.4,403.6 241.2,404.5 241.9,404.9 242.7,404.8 243.4,404.9 244.2,405.1 244.9,405.9 245.7,405.5 246.4,405.8 247.2,406.3 247.9,406.4 248.7,406.5 249.4,406.3 250.2,407.4 250.9,407.5 251.7,407.5 252.4,407.4 253.2,407.9 253.9,408.4 254.7,408.2 255.4,408.2 256.1,408.8 256.9,409.1 257.6,409.1 258.4,409.0 259.1,409.6 259.9,410.0 260.6,409.9 261.4,409.8 262.1,410.5 262.9,411.1 263.6,410.6 264.4,411.0 265.1,411.4 265.9,411.6 266.6,411.6 267.4,411.9 268.1,412.5 268.9,412.4 269.6,412.5 270.4,412.7 271.1,413.2 271.9,413.6 272.6,413.3 273.4,413.3 274.1,414.2 274.9,414.2 275.6,414.0 276.4,414.5 277.1,415.0 277.9,415.2 278.6,415.1 279.4,415.2 280.1,415.8 280.9,416.1 281.6,415.6 282.4,416.0 283.1,416.5 283.9,417.2 284.6,416.9 285.4,417.0 286.1,417.4 286.9,418.0 287.6,417.5 288.4,418.0 289.1,418.5 289.9,418.7 290.6,418.6 291.4,418.6 292.1,419.5 292.9,419.5 293.6,419.4 294.4,419.7 295.1,420.1 295.9,420.3 296.6,420.1 297.4,420.2 298.1,421.2 298.9,421.3 299.6,421.0 300.4,421.3 301.1,422.1 301.9,421.9 302.6,421.8 303.4,422.2 304.1,422.8 304.9,422.9 305.6,422.6 306.4,422.9 307.1,423.7 307.9,423.7 308.6,423.8 309.4,424.1 310.1,424.7 310.9,424.5 311.6,424.5 312.4,424.5 313.1,425.3 313.9,425.3 314.6,425.3 315.4,425.8 316.1,426.4 316.9,426.3 317.6,426.1 318.4,426.7 319.1,426.9 319.9,427.4 320.6,427.2 321.4,427.1 322.1,428.2 322.9,428.2 323.6,427.8 324.4,428.2 325.1,428.9 325.9,429.0 326.6,428.9 327.4,429.3 328.1,429.6 328.9,429.6 329.6,429.7 330.4,430.0 331.1,430.6 331.9,430.4 332.6,430.3 333.4,431.0 334.1,431.4 334.9,431.5 335.6,431.6 336.4,431.5 337.1,432.4 337.9,432.2 338.6,432.2 339.4,432.6 340.1,433.0 340.9,433.4 341.6,433.3 342.4,433.6 343.1,434.2 343.9,434.3 344.6,434.0 345.4,434.3 346.1,435.0 346.9,435.1 347.6,434.8 348.4,435.2 349.1,435.6 349.9,435.7 350.6,435.5 351.4,436.2 352.1,436.7 352.9,436.6 353.6,436.7 354.4,436.6 355.1,437.2 355.9,437.4 356.6,437.1 357.4,438.0 358.1,438.3 358.9,438.3 359.6,438.4 360.4,438.6 361.1,439.3 361.9,439.2 362.6,439.0 363.4,439.7 364.1,439.9 364.9,440.1 365.6,439.9 366.4,440.1 367.1,440.7 367.9,441.0 368.6,440.9 369.4,441.2 370.1,441.6 370.9,442.0 371.6,441.5 372.4,442.3 373.1,442.4 373.9,442.7 374.6,442.3 375.4,442.8 376.1,443.5 376.9,443.6 377.6,443.3 378.4,443.8 379.1,444.3 379.9,444.4 380.6,444.1 381.4,444.9 382.1,445.1 382.9,445.1 383.6,445.1 384.4,445.5 385.1,446.2 385.9,445.9 386.6,446.0 387.4,446.3 388.1,447.2 388.9,446.8 389.6,446.8 390.4,447.2 391.1,447.8 391.9,447.7 392.6,447.8 393.4,448.1 394.1,448.8 394.9,448.6 395.6,448.5 396.4,449.0 397.1,449.7 397.9,449.6 398.6,449.4 399.4,449.7 400.1,450.2 400.9,450.2 401.6,450.1 402.4,450.6" fill="#fd7977" stroke="#fc201c"/>
</g>
<g stroke-width="1.6" stroke-linejoin="round">
<line x1="60.5" y1="868.7" x2="237.1" y2="716.4" stroke="#6e6e6e" stroke-width="1.25"/>
<line x1="237.1" y1="716.4" x2="601.1" y2="821.3" stroke="#6e6e6e" stroke-width="1.25"/>
<line x1="60.5" y1="868.7" x2="424.6" y2="974.1" stroke="#6e6e6e" stroke-width="1.25"/>
<line x1="424.6" y1="974.1" x2="601.1" y2="821.3" stroke="#6e6e6e" stroke-width="1.25"/>
<line x1="60.5" y1="868.7" x2="60.5" y2="687.1" stroke="#6e6e6e" stroke-width="1.25"/>
<line x1="237.1" y1="716.4" x2="237.1" y2="534.8" stroke="#6e6e6e" stroke-width="1.25"/>
<line x1="601.1" y1="821.3" x2="601.1" y2="639.7" stroke="#6e6e6e" stroke-width="1.25"/>
<line x1="60.5" y1="687.1" x2="237.1" y2="534.8" stroke="#6e6e6e" stroke-width="1.25"/>
<line x1="237.1" y1="534.8" x2="601.1" y2="639.7" stroke="#6e6e6e" stroke-width="1.25"/>
<line x1="56.5" y1="868.7" x2="60.5" y2="868.7" stroke="#6e6e6e" stroke-width="1.25"/>
<line x1="601.1" y1="821.3" x2="605.1" y2="821.3" stroke="#6e6e6e" stroke-width="1.25"/>
<line x1="56.5" y1="842.8" x2="60.5" y2="842.8" stroke="#6e6e6e" stroke-width="1.25"/>
<line x1="601.1" y1="795.4" x2="605.1" y2="795.4" stroke="#6e6e6e" stroke-width="1.25"/>
<line x1="56.5" y1="816.8" x2="60.5" y2="816.8" stroke="#6e6e6e" stroke-width="1.25"/>
<line x1="601.1" y1="769.4" x2="605.1" y2="769.4" stroke="#6e6e6e" stroke-width="1.25"/>
<line x1="56.5" y1="790.9" x2="60.5" y2="790.9" stroke="#6e6e6e" stroke-width="1.25"/>
<line x1="601.1" y1="743.5" x2="605.1" y2="743.5" stroke="#6e6e6e" stroke-width="1.25"/>
<line x1="56.5" y1="764.9" x2="60.5" y2="764.9" stroke="#6e6e6e" stroke-width="1.25"/>
<line x1="601.1" y1="717.5" x2="605.1" y2="717.5" stroke="#6e6e6e" stroke-width="1.25"/>
<line x1="56.5" y1="739.0" x2="60.5" y2="739.0" stroke="#6e6e6e" stroke-width="1.25"/>
<line x1="601.1" y1="691.6" x2="605.1" y2="691.6" stroke="#6e6e6e" stroke-width="1.25"/>
<line x1="56.5" y1="713.0" x2="60.5" y2="713.0" stroke="#6e6e6e" stroke-width="1.25"/>
<line x1="601.1" y1="665.6" x2="605.1" y2="665.6" stroke="#6e6e6e" stroke-width="1.25"/>
<line x1="56.5" y1="687.1" x2="60.5" y2="687.1" stroke="#6e6e6e" stroke-width="1.25"/>
<line x1="601.1" y1="639.7" x2="605.1" y2="639.7" stroke="#6e6e6e" stroke-width="1.25"/>
<line x1="104.7" y1="649.0" x2="103.2" y2="646.0" stroke="#6e6e6e" stroke-width="1.25"/>
<line x1="148.8" y1="611.0" x2="147.3" y2="608.0" stroke="#6e6e6e" stroke-width="1.25"/>
<line x1="192.9" y1="572.9" x2="191.4" y2="569.9" stroke="#6e6e6e" stroke-width="1.25"/>
<line x1="237.1" y1="534.8" x2="235.6" y2="531.8" stroke="#6e6e6e" stroke-width="1.25"/>
<line x1="289.1" y1="549.8" x2="290.1" y2="546.8" stroke="#6e6e6e" stroke-width="1.25"/>
<line x1="341.1" y1="564.8" x2="342.1" y2="561.8" stroke="#6e6e6e" stroke-width="1.25"/>
<line x1="393.1" y1="579.8" x2="394.1" y2="576.8" stroke="#6e6e6e" stroke-width="1.25"/>
<line x1="445.1" y1="594.7" x2="446.1" y2="591.7" stroke="#6e6e6e" stroke-width="1.25"/>
<line x1="497.1" y1="609.7" x2="498.1" y2="606.7" stroke="#6e6e6e" stroke-width="1.25"/>
<line x1="549.1" y1="624.7" x2="550.1" y2="621.7" stroke="#6e6e6e" stroke-width="1.25"/>
<line x1="601.1" y1="639.7" x2="602.1" y2="636.7" stroke="#6e6e6e" stroke-width="1.25"/>
<line x1="60.5" y1="868.7" x2="60.0" y2="871.2" stroke="#6e6e6e" stroke-width="1.25"/>
<line x1="112.5" y1="883.8" x2="112.0" y2="886.3" stroke="#6e6e6e" stroke-width="1.25"/>
<line x1="164.5" y1="898.8" x2="164.0" y2="901.3" stroke="#6e6e6e" stroke-width="1.25"/>
<line x1="216.5" y1="913.9" x2="216.0" y2="916.4" stroke="#6e6e6e" stroke-width="1.25"/>
<line x1="268.6" y1="928.9" x2="268.1" y2="931.4" stroke="#6e6e6e" stroke-width="1.25"/>
<line x1="320.6" y1="944.0" x2="320.1" y2="946.5" stroke="#6e6e6e" stroke-width="1.25"/>
<line x1="372.6" y1="959.0" x2="372.1" y2="961.5" stroke="#6e6e6e" stroke-width="1.25"/>
<line x1="424.6" y1="974.1" x2="424.1" y2="976.6" stroke="#6e6e6e" stroke-width="1.25"/>
<line x1="424.6" y1="974.1" x2="427.6" y2="975.1" stroke="#6e6e6e" stroke-width="1.25"/>
<line x1="468.7" y1="935.9" x2="471.7" y2="936.9" stroke="#6e6e6e" stroke-width="1.25"/>
<line x1="512.9" y1="897.7" x2="515.9" y2="898.7" stroke="#6e6e6e" stroke-width="1.25"/>
<line x1="557.0" y1="859.5" x2="560.0" y2="860.5" stroke="#6e6e6e" stroke-width="1.25"/>
<line x1="601.1" y1="821.3" x2="604.1" y2="822.3" stroke="#6e6e6e" stroke-width="1.25"/>
<polyline points="273.6,742.6 274.4,743.1 275.1,743.4 275.9,743.6 276.6,743.4 277.4,743.6 278.1,744.5 278.9,744.7 279.6,744.3 280.4,744.8 281.1,745.4 281.9,745.4 282.6,745.3 283.4,745.6 284.1,746.1 284.9,746.1 285.6,746.1 286.4,746.6 287.1,747.0 287.9,747.3 288.6,746.8 289.4,747.4 290.1,748.1 290.9,748.0 291.6,747.8 292.4,748.2 293.1,748.7 293.9,748.8 294.6,748.6 295.4,749.1 296.1,749.7 296.9,750.0 297.6,749.8 298.4,750.1 299.1,750.8 299.9,750.8 300.6,750.2 301.4,750.6 302.1,751.6 302.9,751.7 303.6,751.4 304.4,751.7 305.1,752.2 305.9,752.4 306.6,752.0 307.4,752.5 308.1,753.0 308.9,753.1 309.6,753.3 310.4,753.4 311.1,754.2 311.9,754.0 312.6,754.0 313.4,754.1 314.1,755.0 314.9,754.8 315.6,754.9 316.4,755.1 317.1,755.6 317.9,755.6 318.6,755.6 319.4,755.9 320.1,756.7 320.9,756.4 321.6,756.1 322.4,756.4 323.1,757.2 323.9,756.8 324.6,756.6 325.4,756.4 326.1,756.6 326.9,756.6 327.6,755.7 328.4,755.1 329.1,755.0 329.9,754.2 330.6,752.4 331.4,751.3 332.1,750.0 332.9,747.9 333.6,745.0 334.4,743.0 335.1,740.2 335.9,736.5 336.6,732.3 337.4,728.2 338.1,724.4 338.9,719.3 339.6,713.5 340.4,708.3 341.1,702.9 341.9,696.7 342.6,690.3 343.4,684.9 344.1,679.1 344.9,673.4 345.6,667.2 346.4,662.2 347.1,657.8 347.9,653.4 348.6,649.0 349.4,646.0 350.1,643.3 350.9,640.7 351.6,638.3 352.4,637.7 353.1,637.1 353.9,636.7 354.6,635.9 355.4,636.9 356.1,637.8 356.9,638.5 357.6,639.8 358.4,641.8 359.1,645.0 359.9,647.6 360.6,650.9 361.4,654.9 362.1,659.9 362.9,664.5 363.6,669.3 364.4,675.2 365.1,680.9 365.9,686.8 366.6,692.3 367.4,698.8 368.1,705.1 368.9,710.7 369.6,715.9 370.4,721.4 371.1,727.2 371.9,731.8 372.6,735.8 373.4,739.8 374.1,744.0 374.9,747.0 375.6,749.8 376.4,752.8 377.1,755.5 377.9,757.6 378.6,759.6 379.4,761.7 380.1,763.7 380.9,765.2 381.6,765.8 382.4,767.2 383.1,768.9 383.9,769.4 384.6,770.2 385.4,770.8 386.1,772.2 386.9,772.2 387.6,772.3 388.4,773.4 389.1,774.1 389.9,774.1 390.6,774.3 391.4,774.9 392.1,775.8 392.9,775.6 393.6,775.6 394.4,776.2 395.1,776.8 395.9,777.0 396.6,776.7 397.4,777.5 398.1,778.2 398.9,778.1 399.6,778.0 400.4,778.5 401.1,778.9 401.9,778.9 402.6,779.1 403.4,779.8 404.1,780.4 404.9,780.0 405.6,780.2 406.4,780.8 407.1,781.2 407.9,781.3 408.6,781.0 409.4,781.6 410.1,782.2 410.9,782.3 411.6,782.1 412.4,782.5 413.1,783.4 413.9,783.0 414.6,783.0 415.4,783.5 416.1,784.1 416.9,784.1 417.6,783.9 418.4,784.6 419.1,785.0 419.9,784.7 420.6,785.1 421.4,785.4 422.1,786.0 422.9,786.1 423.6,785.7 424.4,786.2 425.1,786.7 425.9,786.6 426.6,786.9 427.4,787.3 428.1,787.6 428.9,787.6 429.6,787.6 430.4,788.0 431.1,788.6 431.9,788.8 432.6,788.5 433.4,789.0 434.1,789.6 434.9,789.3 435.6,789.4 436.4,790.1 437.1,790.2 437.9,790.4 438.6,790.2 439.4,791.0 440.1,791.4 440.9,791.4 441.6,791.2 442.4,791.6 443.1,792.1 443.9,792.2 444.6,792.2 445.4,792.4 446.1,793.0 446.9,792.8 447.6,792.9 448.4,793.7 449.1,793.8 449.9,793.6 450.6,793.2 451.4,792.9 452.1,792.4 452.9,790.2 453.6,787.5 454.4,784.2 455.1,779.4 455.9,772.4 456.6,764.8 457.4,756.2 458.1,747.2 458.9,737.8 459.6,728.7 460.4,720.6 461.1,714.2 461.9,707.8 462.6,704.0 463.4,701.2 464.1,699.7 464.9,698.9 465.6,698.2 466.4,699.1 467.1,699.6 467.9,700.4 468.6,702.2 469.4,705.2 470.1,709.3 470.9,713.8 471.6,719.9 472.4,727.3 473.1,735.6 473.9,743.7 474.6,752.0 475.4,761.4 476.1,769.8 476.9,776.7 477.6,783.0 478.4,788.7 479.1,793.2 479.9,796.1 480.6,798.4 481.4,800.8 482.1,802.0 482.9,802.7 483.6,803.1 484.4,804.0 485.1,804.1 485.9,804.3 486.6,804.3 487.4,805.0 488.1,805.1 488.9,805.2 489.6,805.1 490.4,805.9 491.1,806.2 491.9,805.8 492.6,805.9 493.4,806.8 494.1,806.8 494.9,806.9 495.6,806.9 496.4,807.6 497.1,807.8 497.9,807.7 498.6,807.8 499.4,808.5 500.1,808.5 500.9,808.5 501.6,808.5 502.4,809.3 503.1,809.5 503.9,809.3 504.6,809.4 505.4,810.3 506.1,810.4 506.9,810.5 507.6,810.5 508.4,810.9 509.1,811.4 509.9,810.9 510.6,811.5 511.4,812.0 512.1,812.0 512.9,812.0 513.6,812.1 514.4,812.9 515.1,813.0 515.9,813.1 516.6,813.1 517.4,813.4 518.1,814.1 518.9,813.9 519.6,813.8 520.4,814.6 521.1,815.0 521.9,814.8 522.6,814.5 523.4,815.6 524.1,815.5 524.9,815.6 525.6,815.7 526.4,816.2 527.1,816.7 527.9,816.5 528.6,816.7 529.4,817.4 530.1,817.4 530.9,817.3 531.6,817.4 532.4,818.0 533.1,818.3 533.9,818.1 534.6,818.1 535.4,818.8 536.1,819.3 536.9,819.1 537.6,819.2 538.4,819.8 539.1,820.0 539.9,819.8 540.6,820.1 541.4,820.4 542.1,820.8 542.9,820.9 543.6,820.7 544.4,821.5 545.1,821.5 545.9,821.4 546.6,821.9 547.4,822.1 548.1,822.7 548.9,822.5 549.6,822.8 550.4,823.1 551.1,823.7 551.9,823.2 552.6,823.4 553.4,824.3 554.1,824.3 554.9,824.2 555.6,824.1 556.4,824.7 557.1,825.1" fill="#977b8a" stroke="#582a42"/>
<polyline points="265.7,750.1 266.5,750.1 267.2,750.2 268.0,750.2 268.7,750.6 269.5,751.2 270.2,750.8 271.0,751.0 271.7,751.5 272.5,752.1 273.2,751.9 274.0,751.9 274.7,752.6 275.5,752.7 276.2,752.4 277.0,752.7 277.7,753.5 278.5,753.7 279.2,753.3 280.0,753.5 280.7,754.3 281.5,754.3 282.2,754.1 283.0,754.5 283.7,755.0 284.5,755.6 285.2,755.0 286.0,755.5 286.7,756.2 287.5,756.2 288.2,756.1 289.0,756.5 289.7,757.0 290.5,757.1 291.2,757.2 292.0,757.0 292.7,758.0 293.5,757.9 294.2,757.7 295.0,757.9 295.7,758.7 296.5,759.0 297.2,758.7 298.0,758.7 298.7,759.8 299.5,759.8 300.2,759.5 301.0,759.9 301.7,760.2 302.5,760.6 303.2,760.5 304.0,760.8 304.7,761.3 305.5,761.2 306.2,761.2 307.0,761.4 307.7,762.2 308.5,762.2 309.2,762.0 310.0,762.3 310.7,763.0 311.5,763.3 312.2,762.7 313.0,762.9 313.7,763.4 314.5,763.4 315.2,763.4 316.0,763.6 316.7,763.6 317.5,763.5 318.2,763.2 319.0,763.0 319.7,763.1 320.5,762.5 321.2,761.1 322.0,760.2 322.7,759.7 323.5,758.5 324.2,756.3 325.0,754.6 325.7,753.1 326.5,750.7 327.2,747.2 328.0,744.2 328.7,741.2 329.5,737.2 330.2,732.7 331.0,728.3 331.7,724.2 332.5,719.1 333.2,713.0 334.0,708.1 334.7,703.0 335.5,697.2 336.2,691.0 337.0,685.9 337.7,680.7 338.5,675.5 339.2,670.8 340.0,666.1 340.7,662.9 341.5,659.2 342.2,655.4 343.0,653.1 343.7,651.9 344.5,650.1 345.2,649.1 346.0,648.8 346.7,649.0 347.5,649.4 348.2,649.6 349.0,651.2 349.7,653.1 350.5,655.1 351.2,657.2 352.0,660.1 352.7,664.5 353.5,668.2 354.2,672.1 355.0,677.0 355.7,682.4 356.5,687.6 357.2,692.6 358.0,698.2 358.7,704.4 359.5,709.8 360.2,714.9 361.0,720.8 361.7,726.7 362.5,731.5 363.2,735.5 364.0,740.3 364.7,744.7 365.5,748.3 366.2,751.2 367.0,754.5 367.7,757.8 368.5,760.4 369.2,762.2 370.0,764.8 370.7,767.1 371.5,768.5 372.2,769.9 373.0,771.6 373.7,773.4 374.5,774.4 375.2,775.0 376.0,776.5 376.7,777.6 377.5,777.9 378.2,778.4 379.0,779.3 379.7,779.8 380.5,780.3 381.2,780.6 382.0,780.9 382.7,781.9 383.5,782.1 384.2,781.8 385.0,782.3 385.7,783.3 386.5,783.2 387.2,783.1 388.0,783.7 388.7,784.5 389.5,784.6 390.2,784.5 391.0,785.0 391.7,785.3 392.5,785.5 393.2,785.2 394.0,785.8 394.7,786.5 395.5,786.4 396.2,786.5 397.0,786.8 397.7,787.7 398.5,787.5 399.2,787.4 400.0,788.1 400.7,788.5 401.5,788.3 402.2,788.6 403.0,789.1 403.7,789.7 404.5,789.4 405.2,789.3 406.0,790.0 406.7,790.3 407.5,790.7 408.2,790.5 409.0,790.9 409.7,791.2 410.5,791.3 411.2,791.3 412.0,792.0 412.7,792.2 413.5,792.4 414.2,792.0 415.0,793.0 415.7,793.4 416.5,793.4 417.2,793.3 418.0,793.5 418.7,794.1 419.5,793.9 420.2,794.1 421.0,794.3 421.7,794.9 422.5,794.9 423.2,795.1 424.0,795.6 424.7,795.9 425.5,796.1 426.2,795.7 427.0,796.2 427.7,796.8 428.5,796.9 429.2,796.5 430.0,797.4 430.7,797.8 431.5,797.8 432.2,797.5 433.0,797.9 433.7,798.4 434.5,798.7 435.2,798.5 436.0,799.1 436.7,799.4 437.5,799.3 438.2,799.2 439.0,800.0 439.7,800.3 440.5,799.7 441.2,799.5 442.0,799.0 442.7,798.6 443.5,796.7 444.2,794.3 445.0,791.3 445.7,787.1 446.5,781.0 447.2,773.9 448.0,766.8 448.7,758.8 449.5,749.6 450.2,741.4 451.0,734.0 451.7,727.2 452.5,721.3 453.2,716.7 454.0,714.0 454.7,712.2 455.5,710.7 456.2,710.2 457.0,710.4 457.7,710.9 458.5,711.8 459.2,713.0 460.0,715.6 460.7,719.1 461.5,722.9 462.2,728.0 463.0,734.8 463.7,742.1 464.5,749.1 465.2,757.0 466.0,765.0 466.7,773.2 467.5,780.2 468.2,786.4 469.0,792.2 469.7,797.0 470.5,800.8 471.2,803.3 472.0,805.9 472.7,807.6 473.5,808.2 474.2,809.0 475.0,809.9 475.7,810.8 476.5,810.6 477.2,810.8 478.0,811.3 478.7,811.8 479.5,811.4 480.2,811.8 481.0,812.2 481.7,812.6 482.5,812.3 483.2,812.2 484.0,813.1 484.7,813.5 485.5,813.4 486.2,813.2 487.0,813.9 487.7,814.4 488.5,814.2 489.2,814.4 490.0,814.6 490.7,815.3 491.5,814.8 492.2,815.1 493.0,815.6 493.7,815.8 494.5,815.8 495.2,816.0 496.0,816.7 496.7,816.7 497.5,816.7 498.2,816.9 499.0,817.2 499.7,818.0 500.5,817.8 501.2,817.6 502.0,818.1 502.7,818.5 503.5,818.3 504.2,818.5 505.0,819.2 505.7,819.7 506.5,819.3 507.2,819.6 508.0,820.0 508.7,820.4 509.5,819.9 510.2,820.2 511.0,820.6 511.7,821.0 512.5,821.2 513.2,820.9 514.0,821.6 514.7,822.1 515.5,821.9 516.2,821.8 517.0,822.4 517.7,823.1 518.5,822.7 519.2,822.7 520.0,823.5 520.7,823.8 521.5,823.9 522.2,823.5 523.0,824.2 523.7,824.5 524.5,824.5 525.2,824.8 526.0,825.4 526.7,825.4 527.5,825.4 528.2,825.4 529.0,826.3 529.7,826.5 530.5,826.3 531.2,826.2 532.0,826.9 532.7,827.3 533.5,827.0 534.2,827.3 535.0,827.6 535.7,828.1 536.5,828.2 537.2,828.0 538.0,828.7 538.7,829.2 539.5,829.0 540.2,829.1 541.0,829.5 541.7,830.0 542.5,829.5 543.2,829.9 544.0,830.2 544.7,830.6 545.5,830.4 546.2,830.6 547.0,831.5 547.7,831.4 548.5,831.6 549.2,831.4" fill="#bb7a9e" stroke="#8e225e"/>
<polyline points="257.9,756.6 258.6,757.1 259.4,757.4 260.1,757.2 260.9,757.3 261.6,758.1 262.4,757.8 263.1,758.0 263.9,758.2 264.6,758.9 265.4,758.7 266.1,758.5 266.9,759.1 267.6,759.7 268.4,759.9 269.1,759.4 269.9,759.9 270.6,760.8 271.4,760.5 272.1,760.6 272.9,761.0 273.6,761.5 274.4,761.5 275.1,761.3 275.9,761.6 276.6,762.1 277.4,762.2 278.1,762.1 278.9,762.4 279.6,763.4 280.4,763.2 281.1,763.2 281.9,763.4 282.6,764.2 283.4,764.3 284.1,764.0 284.9,764.3 285.6,764.8 286.4,765.0 287.1,764.7 287.9,765.3 288.6,765.5 289.4,765.9 290.1,765.6 290.9,766.0 291.6,766.7 292.4,766.9 293.1,766.8 293.9,766.8 294.6,767.7 295.4,767.8 296.1,767.4 296.9,767.8 297.6,768.2 298.4,768.5 299.1,768.2 299.9,768.7 300.6,769.4 301.4,769.3 302.1,769.1 302.9,769.4 303.6,769.8 304.4,769.9 305.1,769.5 305.9,769.8 306.6,770.7 307.4,770.3 308.1,769.8 308.9,770.1 309.6,770.2 310.4,770.0 311.1,769.2 311.9,769.0 312.6,769.1 313.4,768.4 314.1,766.8 314.9,766.3 315.6,765.4 316.4,763.8 317.1,761.7 317.9,759.8 318.6,758.1 319.4,755.4 320.1,752.2 320.9,749.6 321.6,746.2 322.4,742.4 323.1,738.0 323.9,733.9 324.6,729.5 325.4,724.4 326.1,719.2 326.9,714.0 327.6,709.2 328.4,703.6 329.1,698.4 329.9,693.5 330.6,689.2 331.4,684.3 332.1,679.4 332.9,675.7 333.6,672.3 334.4,669.3 335.1,666.2 335.9,664.3 336.6,663.4 337.4,661.7 338.1,661.0 338.9,661.3 339.6,662.3 340.4,662.4 341.1,663.4 341.9,665.6 342.6,667.9 343.4,670.6 344.1,672.9 344.9,676.8 345.6,681.1 346.4,685.4 347.1,689.4 347.9,694.8 348.6,700.3 349.4,705.3 350.1,710.2 350.9,715.4 351.6,721.3 352.4,726.1 353.1,730.8 353.9,736.0 354.6,741.2 355.4,745.2 356.1,748.7 356.9,752.8 357.6,756.4 358.4,759.6 359.1,762.1 359.9,764.9 360.6,767.9 361.4,769.9 362.1,771.4 362.9,773.7 363.6,775.7 364.4,777.3 365.1,778.4 365.9,780.0 366.6,781.6 367.4,782.2 368.1,782.8 368.9,784.1 369.6,785.3 370.4,785.2 371.1,785.7 371.9,786.4 372.6,787.5 373.4,787.5 374.1,787.8 374.9,788.4 375.6,789.2 376.4,789.1 377.1,789.2 377.9,790.0 378.6,790.5 379.4,790.3 380.1,790.2 380.9,791.2 381.6,791.3 382.4,791.7 383.1,791.7 383.9,792.2 384.6,792.9 385.4,792.6 386.1,792.7 386.9,793.2 387.6,793.6 388.4,793.4 389.1,793.7 389.9,794.2 390.6,794.5 391.4,794.6 392.1,794.5 392.9,795.1 393.6,795.9 394.4,795.6 395.1,795.7 395.9,796.3 396.6,796.6 397.4,796.5 398.1,796.5 398.9,797.1 399.6,797.7 400.4,797.7 401.1,797.4 401.9,798.2 402.6,798.4 403.4,798.1 404.1,798.5 404.9,799.1 405.6,799.4 406.4,799.6 407.1,799.4 407.9,799.8 408.6,800.5 409.4,800.4 410.1,800.0 410.9,801.0 411.6,801.2 412.4,801.0 413.1,801.1 413.9,801.7 414.6,802.2 415.4,801.9 416.1,801.8 416.9,802.7 417.6,803.1 418.4,803.0 419.1,802.9 419.9,803.7 420.6,803.7 421.4,803.6 422.1,803.5 422.9,804.4 423.6,804.8 424.4,804.5 425.1,804.7 425.9,805.0 426.6,805.4 427.4,805.7 428.1,805.7 428.9,805.9 429.6,806.6 430.4,806.4 431.1,806.4 431.9,807.1 432.6,807.2 433.4,806.9 434.1,806.4 434.9,806.5 435.6,805.3 436.4,803.8 437.1,801.2 437.9,798.9 438.6,795.0 439.4,789.7 440.1,783.5 440.9,777.0 441.6,769.8 442.4,761.8 443.1,753.7 443.9,747.1 444.6,740.7 445.4,734.8 446.1,729.9 446.9,727.1 447.6,725.0 448.4,723.1 449.1,722.5 449.9,722.9 450.6,723.1 451.4,723.6 452.1,724.8 452.9,727.4 453.6,730.0 454.4,733.3 455.1,737.9 455.9,743.9 456.6,750.0 457.4,756.8 458.1,763.6 458.9,771.4 459.6,778.5 460.4,784.6 461.1,791.0 461.9,797.0 462.6,801.7 463.4,805.7 464.1,808.6 464.9,811.5 465.6,813.3 466.4,814.4 467.1,815.5 467.9,816.8 468.6,817.2 469.4,817.4 470.1,817.5 470.9,818.4 471.6,818.8 472.4,818.5 473.1,818.8 473.9,819.4 474.6,819.4 475.4,819.4 476.1,819.5 476.9,820.3 477.6,820.7 478.4,820.2 479.1,820.6 479.9,820.9 480.6,821.4 481.4,820.9 482.1,821.4 482.9,821.9 483.6,822.1 484.4,822.0 485.1,822.1 485.9,822.6 486.6,823.1 487.4,822.9 488.1,822.8 488.9,823.5 489.6,824.1 490.4,823.6 491.1,823.8 491.9,824.6 492.6,824.7 493.4,824.8 494.1,825.0 494.9,825.2 495.6,825.5 496.4,825.3 497.1,825.6 497.9,826.2 498.6,826.6 499.4,826.5 500.1,826.3 500.9,826.9 501.6,827.2 502.4,827.1 503.1,827.2 503.9,828.0 504.6,828.2 505.4,828.1 506.1,828.5 506.9,829.1 507.6,829.1 508.4,829.0 509.1,828.9 509.9,829.8 510.6,830.1 511.4,829.9 512.1,829.8 512.9,830.5 513.6,831.0 514.4,830.7 515.1,831.0 515.9,831.3 516.6,831.7 517.4,831.2 518.1,831.9 518.9,832.5 519.6,832.5 520.4,832.1 521.1,832.7 521.9,833.5 522.6,833.5 523.4,833.1 524.1,833.4 524.9,834.3 525.6,834.5 526.4,834.0 527.1,834.2 527.9,835.2 528.6,835.1 529.4,834.9 530.1,835.1 530.9,836.0 531.6,836.3 532.4,835.8 533.1,836.3 533.9,836.7 534.6,836.8 535.4,836.8 536.1,837.2 536.9,837.7 537.6,837.8 538.4,837.7 539.1,838.1 539.9,838.7 540.6,838.6 541.4,838.3" fill="#ea80c0" stroke="#dc2c96"/>
<polyline points="250.0,763.5 250.7,763.9 251.5,763.6 252.2,764.0 253.0,764.2 253.7,765.0 254.5,764.5 255.2,764.6 256.0,765.3 256.7,765.8 257.5,765.7 258.2,765.5 259.0,765.9 259.7,766.7 260.5,766.6 261.2,766.4 262.0,767.0 262.7,767.6 263.5,767.3 264.2,767.2 265.0,767.8 265.7,768.4 266.5,768.3 267.2,768.0 268.0,768.8 268.7,769.1 269.5,769.1 270.2,768.9 271.0,769.8 271.7,770.2 272.5,770.0 273.2,769.8 274.0,770.4 274.7,770.9 275.5,770.8 276.2,770.5 277.0,771.3 277.7,772.0 278.5,771.4 279.2,771.8 280.0,772.2 280.7,772.9 281.5,772.6 282.2,772.6 283.0,773.2 283.7,773.5 284.5,773.2 285.2,773.5 286.0,774.1 286.7,774.5 287.5,774.1 288.2,774.2 289.0,774.8 289.7,775.1 290.5,775.0 291.2,775.0 292.0,775.9 292.7,776.1 293.5,776.1 294.2,776.0 295.0,776.2 295.7,776.9 296.5,776.5 297.2,776.5 298.0,777.0 298.7,777.4 299.5,776.9 300.2,776.9 301.0,777.1 301.7,777.4 302.5,776.8 303.2,776.5 304.0,776.7 304.7,776.1 305.5,775.1 306.2,774.7 307.0,774.1 307.7,773.4 308.5,771.9 309.2,770.4 310.0,769.0 310.7,767.6 311.5,764.8 312.2,762.5 313.0,760.3 313.7,757.4 314.5,753.8 315.2,750.2 316.0,746.8 316.7,743.0 317.5,738.6 318.2,733.6 319.0,729.9 319.7,725.2 320.5,719.8 321.2,714.9 322.0,710.2 322.7,705.8 323.5,700.8 324.2,696.0 325.0,692.3 325.7,688.4 326.5,684.5 327.2,681.6 328.0,679.3 328.7,677.2 329.5,675.4 330.2,674.0 331.0,673.8 331.7,674.1 332.5,674.3 333.2,674.9 334.0,677.0 334.7,678.9 335.5,680.8 336.2,683.7 337.0,687.2 337.7,691.1 338.5,694.6 339.2,698.6 340.0,703.4 340.7,708.6 341.5,712.9 342.2,717.8 343.0,723.3 343.7,728.3 344.5,733.0 345.2,737.3 346.0,742.9 346.7,747.3 347.5,750.9 348.2,755.1 349.0,759.1 349.7,762.4 350.5,764.7 351.2,767.8 352.0,770.7 352.7,773.3 353.5,775.3 354.2,777.1 355.0,779.8 355.7,781.5 356.5,782.7 357.2,784.1 358.0,785.9 358.7,787.3 359.5,788.2 360.2,789.3 361.0,790.3 361.7,791.2 362.5,791.6 363.2,792.3 364.0,793.2 364.7,794.0 365.5,793.8 366.2,794.2 367.0,795.3 367.7,795.8 368.5,795.5 369.2,795.7 370.0,796.8 370.7,796.9 371.5,797.2 372.2,797.4 373.0,797.8 373.7,798.3 374.5,797.9 375.2,798.2 376.0,799.1 376.7,799.6 377.5,799.5 378.2,799.6 379.0,800.3 379.7,800.5 380.5,800.3 381.2,800.6 382.0,801.2 382.7,801.4 383.5,801.5 384.2,801.4 385.0,802.2 385.7,802.5 386.5,802.5 387.2,802.4 388.0,803.2 388.7,803.4 389.5,803.1 390.2,803.4 391.0,804.3 391.7,804.2 392.5,804.1 393.2,804.3 394.0,805.1 394.7,805.4 395.5,804.9 396.2,805.3 397.0,805.8 397.7,806.3 398.5,806.1 399.2,806.1 400.0,806.8 400.7,807.0 401.5,806.8 402.2,807.4 403.0,808.0 403.7,808.1 404.5,807.7 405.2,808.0 406.0,808.6 406.7,808.9 407.5,808.9 408.2,808.8 409.0,809.6 409.7,809.6 410.5,809.7 411.2,809.8 412.0,810.5 412.7,810.4 413.5,810.5 414.2,810.8 415.0,811.5 415.7,811.6 416.5,811.4 417.2,811.5 418.0,812.1 418.7,812.4 419.5,812.0 420.2,812.7 421.0,813.3 421.7,813.3 422.5,813.0 423.2,813.1 424.0,813.9 424.7,814.1 425.5,813.3 426.2,813.3 427.0,813.7 427.7,812.8 428.5,811.5 429.2,809.8 430.0,808.2 430.7,805.0 431.5,800.4 432.2,795.8 433.0,790.7 433.7,784.2 434.5,777.1 435.2,770.2 436.0,763.6 436.7,756.6 437.5,750.3 438.2,745.3 439.0,741.5 439.7,738.0 440.5,735.8 441.2,734.4 442.0,734.1 442.7,734.3 443.5,734.1 444.2,735.2 445.0,737.0 445.7,738.8 446.5,741.3 447.2,744.7 448.0,749.6 448.7,754.6 449.5,760.2 450.2,766.5 451.0,773.4 451.7,779.9 452.5,786.1 453.2,792.7 454.0,798.9 454.7,803.9 455.5,807.8 456.2,812.1 457.0,815.5 457.7,817.7 458.5,819.3 459.2,821.1 460.0,822.7 460.7,823.3 461.5,823.7 462.2,824.2 463.0,825.3 463.7,825.5 464.5,825.1 465.2,825.4 466.0,826.5 466.7,826.1 467.5,826.2 468.2,826.6 469.0,827.1 469.7,827.3 470.5,826.8 471.2,827.5 472.0,828.2 472.7,828.2 473.5,828.0 474.2,828.2 475.0,828.9 475.7,829.0 476.5,828.6 477.2,829.0 478.0,829.5 478.7,829.6 479.5,829.4 480.2,830.2 481.0,830.5 481.7,830.5 482.5,830.7 483.2,831.0 484.0,831.4 484.7,831.3 485.5,831.2 486.2,831.7 487.0,832.6 487.7,832.3 488.5,832.4 489.2,832.5 490.0,833.0 490.7,833.4 491.5,832.8 492.2,833.7 493.0,834.1 493.7,833.9 494.5,834.1 495.2,834.3 496.0,835.2 496.7,834.9 497.5,835.0 498.2,835.5 499.0,835.7 499.7,835.9 500.5,835.8 501.2,836.2 502.0,836.4 502.7,836.7 503.5,836.6 504.2,836.8 505.0,837.3 505.7,837.3 506.5,837.4 507.2,837.7 508.0,838.6 508.7,838.3 509.5,838.5 510.2,838.9 511.0,839.3 511.7,839.1 512.5,839.1 513.2,839.7 514.0,840.3 514.7,840.3 515.5,839.9 516.2,840.3 517.0,841.1 517.7,841.0 518.5,840.9 519.2,841.5 520.0,842.0 520.7,841.9 521.5,841.9 522.2,842.1 523.0,843.0 523.7,842.8 524.5,842.4 525.2,843.0 526.0,843.7 526.7,843.4 527.5,843.7 528.2,843.9 529.0,844.5 529.7,844.4 530.5,844.6 531.2,844.8 532.0,845.6 532.7,845.4 533.5,845.2" fill="#f784dd" stroke="#f232c6"/>
<polyline points="242.1,770.3 242.9,770.9 243.6,770.9 244.4,770.4 245.1,770.8 245.9,771.7 246.6,771.5 247.4,771.6 248.1,771.8 248.9,772.4 249.6,772.8 250.4,772.6 251.1,772.8 251.9,773.3 252.6,773.5 253.4,773.5 254.1,773.8 254.9,774.3 255.6,774.1 256.4,774.3 257.1,774.2 257.9,774.9 258.6,775.3 259.4,774.9 260.1,775.5 260.9,776.1 261.6,775.9 262.4,776.1 263.1,776.5 263.9,776.9 264.6,777.2 265.4,776.9 266.1,777.1 266.9,777.9 267.6,778.0 268.4,777.7 269.1,777.7 269.9,778.5 270.6,778.8 271.4,778.4 272.1,778.7 272.9,779.4 273.6,779.3 274.4,779.3 275.1,779.5 275.9,780.4 276.6,780.2 277.4,780.4 278.1,780.4 278.9,781.2 279.6,781.3 280.4,780.9 281.1,781.5 281.9,782.1 282.6,782.1 283.4,781.7 284.1,782.3 284.9,783.0 285.6,782.9 286.4,782.6 287.1,783.0 287.9,783.8 288.6,783.4 289.4,783.3 290.1,783.7 290.9,784.1 291.6,783.8 292.4,783.5 293.1,784.1 293.9,784.3 294.6,783.9 295.4,783.5 296.1,783.3 296.9,783.3 297.6,783.1 298.4,782.2 299.1,781.5 299.9,781.2 300.6,780.0 301.4,778.6 302.1,777.7 302.9,776.7 303.6,774.7 304.4,772.6 305.1,770.7 305.9,768.5 306.6,765.3 307.4,762.1 308.1,759.4 308.9,756.1 309.6,752.6 310.4,747.9 311.1,744.1 311.9,740.6 312.6,735.7 313.4,730.9 314.1,726.6 314.9,722.1 315.6,717.4 316.4,712.6 317.1,708.7 317.9,704.9 318.6,700.8 319.4,696.6 320.1,693.9 320.9,691.7 321.6,688.9 322.4,686.9 323.1,686.1 323.9,686.0 324.6,685.2 325.4,685.7 326.1,686.8 326.9,688.7 327.6,690.5 328.4,692.2 329.1,695.5 329.9,698.9 330.6,702.5 331.4,706.0 332.1,710.3 332.9,714.9 333.6,719.4 334.4,723.8 335.1,728.7 335.9,733.9 336.6,738.5 337.4,742.4 338.1,747.5 338.9,752.2 339.6,755.9 340.4,759.8 341.1,763.5 341.9,767.5 342.6,770.2 343.4,772.9 344.1,775.8 344.9,778.6 345.6,780.4 346.4,782.3 347.1,784.7 347.9,787.1 348.6,788.4 349.4,789.9 350.1,791.4 350.9,793.2 351.6,794.0 352.4,794.8 353.1,796.2 353.9,797.3 354.6,798.1 355.4,798.6 356.1,799.5 356.9,800.6 357.6,800.7 358.4,801.0 359.1,801.5 359.9,802.3 360.6,802.3 361.4,802.4 362.1,803.5 362.9,803.7 363.6,804.0 364.4,803.9 365.1,804.7 365.9,805.4 366.6,805.3 367.4,805.4 368.1,806.0 368.9,806.3 369.6,806.5 370.4,806.4 371.1,806.7 371.9,807.3 372.6,807.3 373.4,807.5 374.1,807.7 374.9,808.6 375.6,808.4 376.4,808.3 377.1,808.8 377.9,809.3 378.6,809.2 379.4,809.4 380.1,809.8 380.9,810.4 381.6,810.4 382.4,810.0 383.1,810.6 383.9,811.5 384.6,811.0 385.4,811.3 386.1,811.7 386.9,812.1 387.6,811.8 388.4,812.1 389.1,812.7 389.9,812.9 390.6,812.8 391.4,812.9 392.1,813.8 392.9,814.2 393.6,813.8 394.4,813.9 395.1,814.5 395.9,815.0 396.6,814.7 397.4,814.7 398.1,815.4 398.9,815.7 399.6,815.6 400.4,815.8 401.1,816.3 401.9,816.5 402.6,816.5 403.4,816.6 404.1,817.0 404.9,817.5 405.6,817.5 406.4,817.4 407.1,817.9 407.9,818.7 408.6,818.1 409.4,818.6 410.1,818.8 410.9,819.4 411.6,819.2 412.4,819.2 413.1,819.9 413.9,820.4 414.6,820.0 415.4,819.8 416.1,820.5 416.9,821.1 417.6,820.7 418.4,820.6 419.1,820.7 419.9,820.4 420.6,819.6 421.4,818.4 422.1,817.4 422.9,815.1 423.6,812.1 424.4,808.6 425.1,804.8 425.9,799.8 426.6,793.9 427.4,787.3 428.1,781.6 428.9,775.2 429.6,768.8 430.4,762.7 431.1,758.0 431.9,753.9 432.6,750.4 433.4,747.8 434.1,746.8 434.9,745.8 435.6,745.0 436.4,745.5 437.1,746.3 437.9,747.9 438.6,749.2 439.4,751.5 440.1,754.9 440.9,759.1 441.6,763.6 442.4,768.6 443.1,774.9 443.9,780.9 444.6,786.5 445.4,792.7 446.1,798.5 446.9,804.3 447.6,809.0 448.4,813.1 449.1,817.8 449.9,820.8 450.6,823.4 451.4,825.3 452.1,827.5 452.9,829.0 453.6,829.6 454.4,830.2 455.1,831.5 455.9,832.0 456.6,831.7 457.4,832.4 458.1,832.7 458.9,833.1 459.6,832.9 460.4,833.1 461.1,833.8 461.9,834.3 462.6,833.7 463.4,834.1 464.1,834.8 464.9,834.9 465.6,834.7 466.4,834.9 467.1,835.8 467.9,836.0 468.6,835.6 469.4,835.6 470.1,836.4 470.9,836.9 471.6,836.5 472.4,836.6 473.1,837.4 473.9,837.4 474.6,837.5 475.4,837.7 476.1,838.0 476.9,838.4 477.6,838.4 478.4,838.3 479.1,839.1 479.9,839.2 480.6,839.1 481.4,839.3 482.1,839.9 482.9,840.4 483.6,840.1 484.4,840.4 485.1,840.7 485.9,841.0 486.6,840.8 487.4,841.2 488.1,841.6 488.9,842.0 489.6,841.5 490.4,841.9 491.1,842.5 491.9,843.0 492.6,842.5 493.4,843.0 494.1,843.5 494.9,843.6 495.6,843.5 496.4,843.9 497.1,844.4 497.9,844.7 498.6,844.3 499.4,844.6 500.1,845.0 500.9,845.5 501.6,845.2 502.4,845.5 503.1,846.0 503.9,846.4 504.6,846.0 505.4,846.2 506.1,847.2 506.9,847.2 507.6,847.0 508.4,847.3 509.1,847.9 509.9,847.9 510.6,848.0 511.4,848.2 512.1,848.8 512.9,848.8 513.6,848.6 514.4,848.7 515.1,849.7 515.9,849.9 516.6,849.5 517.4,849.8 518.1,850.6 518.9,850.3 519.6,850.3 520.4,850.5 521.1,851.3 521.9,851.4 522.6,851.3 523.4,851.7 524.1,852.1 524.9,852.1 525.6,851.9" fill="#fd82ef" stroke="#fc28e4"/>
<polyline points="234.2,776.8 235.0,777.4 235.7,777.6 236.5,777.5 237.2,777.4 238.0,778.5 238.7,778.5 239.5,778.4 240.2,778.6 241.0,779.2 241.7,779.4 242.5,779.5 243.2,779.5 244.0,780.3 244.7,780.2 245.5,780.2 246.2,780.1 247.0,780.8 247.7,781.2 248.5,780.9 249.2,781.3 250.0,781.7 250.7,782.3 251.5,782.1 252.2,782.2 253.0,782.4 253.7,783.1 254.5,783.0 255.2,783.0 256.0,783.6 256.7,783.9 257.5,783.9 258.2,783.8 259.0,784.3 259.7,784.8 260.5,784.6 261.2,784.5 262.0,785.4 262.7,785.8 263.5,785.5 264.2,785.3 265.0,786.1 265.7,786.6 266.5,786.1 267.2,786.4 268.0,787.1 268.7,787.4 269.5,787.1 270.2,787.0 271.0,788.0 271.7,788.1 272.5,788.1 273.2,788.1 274.0,788.9 274.7,788.9 275.5,789.1 276.2,789.1 277.0,789.8 277.7,789.7 278.5,789.8 279.2,789.7 280.0,790.4 280.7,790.7 281.5,790.3 282.2,790.6 283.0,790.9 283.7,791.1 284.5,790.9 285.2,790.6 286.0,791.4 286.7,791.1 287.5,790.9 288.2,790.3 289.0,790.5 289.7,790.6 290.5,789.6 291.2,789.2 292.0,788.9 292.7,788.6 293.5,787.4 294.2,786.3 295.0,785.4 295.7,784.1 296.5,782.5 297.2,780.5 298.0,779.4 298.7,777.3 299.5,774.8 300.2,772.1 301.0,769.7 301.7,766.8 302.5,763.0 303.2,759.5 304.0,756.1 304.7,752.7 305.5,748.2 306.2,744.1 307.0,740.2 307.7,736.0 308.5,731.5 309.2,727.0 310.0,723.1 310.7,719.5 311.5,715.1 312.2,711.6 313.0,708.7 313.7,705.6 314.5,702.5 315.2,700.6 316.0,699.6 316.7,698.6 317.5,698.1 318.2,698.1 319.0,699.7 319.7,700.8 320.5,702.3 321.2,704.9 322.0,707.7 322.7,711.1 323.5,713.8 324.2,717.6 325.0,722.1 325.7,726.1 326.5,730.2 327.2,734.7 328.0,739.6 328.7,743.6 329.5,747.6 330.2,752.1 331.0,756.9 331.7,760.9 332.5,764.6 333.2,768.3 334.0,772.0 334.7,774.9 335.5,777.5 336.2,780.0 337.0,783.1 337.7,785.6 338.5,787.2 339.2,789.2 340.0,791.8 340.7,793.8 341.5,795.0 342.2,796.4 343.0,798.5 343.7,799.7 344.5,800.8 345.2,801.8 346.0,803.3 346.7,804.4 347.5,804.5 348.2,805.4 349.0,806.8 349.7,807.1 350.5,807.3 351.2,808.0 352.0,808.8 352.7,809.3 353.5,809.2 354.2,809.9 355.0,810.6 355.7,810.9 356.5,810.8 357.2,811.3 358.0,811.8 358.7,811.9 359.5,811.9 360.2,812.3 361.0,812.8 361.7,813.4 362.5,813.1 363.2,813.5 364.0,814.3 364.7,814.1 365.5,814.0 366.2,814.6 367.0,815.0 367.7,815.5 368.5,815.2 369.2,815.8 370.0,816.4 370.7,816.3 371.5,816.1 372.2,816.5 373.0,817.3 373.7,817.2 374.5,817.2 375.2,817.7 376.0,818.2 376.7,818.2 377.5,818.1 378.2,818.4 379.0,819.1 379.7,819.1 380.5,819.2 381.2,819.6 382.0,820.0 382.7,820.1 383.5,819.7 384.2,820.3 385.0,821.1 385.7,820.8 386.5,820.9 387.2,821.0 388.0,821.9 388.7,821.7 389.5,821.7 390.2,822.2 391.0,822.4 391.7,822.9 392.5,822.6 393.2,822.8 394.0,823.5 394.7,823.6 395.5,823.6 396.2,823.7 397.0,824.2 397.7,824.3 398.5,824.4 399.2,824.7 400.0,825.5 400.7,825.5 401.5,825.1 402.2,825.6 403.0,826.0 403.7,826.3 404.5,826.1 405.2,826.3 406.0,827.2 406.7,826.9 407.5,827.2 408.2,827.3 409.0,828.1 409.7,827.9 410.5,827.3 411.2,827.8 412.0,827.9 412.7,827.3 413.5,826.5 414.2,825.8 415.0,824.8 415.7,822.5 416.5,820.1 417.2,817.3 418.0,813.7 418.7,809.5 419.5,804.2 420.2,798.8 421.0,793.4 421.7,787.4 422.5,781.4 423.2,776.0 424.0,771.4 424.7,767.1 425.5,762.9 426.2,760.7 427.0,759.0 427.7,757.8 428.5,756.7 429.2,757.1 430.0,757.8 430.7,758.4 431.5,760.0 432.2,762.1 433.0,765.2 433.7,768.7 434.5,772.2 435.2,777.1 436.0,782.3 436.7,787.6 437.5,793.0 438.2,798.8 439.0,804.6 439.7,809.5 440.5,813.7 441.2,818.3 442.0,822.6 442.7,826.0 443.5,828.5 444.2,831.1 445.0,833.6 445.7,834.7 446.5,835.8 447.2,837.0 448.0,837.9 448.7,838.6 449.5,838.5 450.2,839.5 451.0,840.1 451.7,839.9 452.5,839.9 453.2,840.3 454.0,840.8 454.7,841.0 455.5,840.8 456.2,841.4 457.0,841.8 457.7,841.7 458.5,841.6 459.2,842.4 460.0,842.7 460.7,842.5 461.5,842.8 462.2,842.9 463.0,843.5 463.7,843.4 464.5,843.5 465.2,844.1 466.0,844.3 466.7,844.6 467.5,844.4 468.2,845.0 469.0,845.3 469.7,845.2 470.5,845.0 471.2,845.6 472.0,846.4 472.7,846.0 473.5,846.3 474.2,846.8 475.0,847.3 475.7,846.8 476.5,846.9 477.2,847.7 478.0,847.9 478.7,847.7 479.5,847.6 480.2,848.4 481.0,848.9 481.7,848.6 482.5,848.6 483.2,849.3 484.0,849.5 484.7,849.7 485.5,849.7 486.2,850.1 487.0,850.4 487.7,850.5 488.5,850.3 489.2,850.8 490.0,851.6 490.7,851.3 491.5,851.2 492.2,851.7 493.0,852.4 493.7,852.4 494.5,852.1 495.2,852.8 496.0,853.0 496.7,853.0 497.5,853.1 498.2,853.5 499.0,854.1 499.7,853.9 500.5,853.7 501.2,854.3 502.0,854.9 502.7,854.6 503.5,854.8 504.2,855.4 505.0,855.8 505.7,855.8 506.5,855.7 507.2,856.4 508.0,856.5 508.7,856.7 509.5,856.7 510.2,857.1 511.0,857.7 511.7,857.4 512.5,857.3 513.2,857.8 514.0,858.4 514.7,858.3 515.5,858.4 516.2,859.0 517.0,859.3 517.7,859.3" fill="#f283f5" stroke="#e81eec"/>
<polyline points="226.4,784.0 227.1,783.9 227.9,784.2 228.6,784.9 229.4,784.9 230.1,784.6 230.9,785.1 231.6,785.5 232.4,786.1 233.1,785.7 233.9,785.7 234.6,786.5 235.4,786.9 236.1,786.4 236.9,787.0 237.6,787.2 238.4,787.5 239.1,787.5 239.9,787.7 240.6,788.3 241.4,788.7 242.1,788.2 242.9,788.3 243.6,789.2 244.4,789.3 245.1,789.1 245.9,789.3 246.6,790.2 247.4,790.1 248.1,790.1 248.9,790.3 249.6,790.8 250.4,791.3 251.1,790.8 251.9,791.0 252.6,791.6 253.4,792.1 254.1,791.9 254.9,791.9 255.6,792.5 256.4,792.9 257.1,792.6 257.9,792.9 258.6,793.6 259.4,793.5 260.1,793.3 260.9,793.9 261.6,794.6 262.4,794.4 263.1,794.2 263.9,794.6 264.6,795.4 265.4,795.3 266.1,795.4 266.9,795.3 267.6,796.3 268.4,796.0 269.1,796.1 269.9,796.5 270.6,797.0 271.4,797.2 272.1,796.7 272.9,797.2 273.6,797.8 274.4,797.6 275.1,797.6 275.9,797.8 276.6,798.0 277.4,798.1 278.1,797.9 278.9,797.9 279.6,798.5 280.4,798.1 281.1,797.6 281.9,797.4 282.6,797.7 283.4,797.6 284.1,796.5 284.9,796.5 285.6,796.3 286.4,795.4 287.1,794.1 287.9,793.2 288.6,792.6 289.4,791.7 290.1,790.0 290.9,788.5 291.6,786.9 292.4,785.2 293.1,782.5 293.9,780.2 294.6,778.4 295.4,775.5 296.1,772.1 296.9,768.9 297.6,766.0 298.4,762.4 299.1,758.4 299.9,754.7 300.6,751.4 301.4,747.2 302.1,742.8 302.9,739.3 303.6,735.5 304.4,731.3 305.1,727.2 305.9,724.1 306.6,721.0 307.4,718.2 308.1,715.0 308.9,713.3 309.6,712.2 310.4,711.1 311.1,710.3 311.9,711.1 312.6,712.6 313.4,713.9 314.1,715.5 314.9,718.1 315.6,721.0 316.4,724.1 317.1,727.1 317.9,731.1 318.6,735.0 319.4,738.9 320.1,742.7 320.9,747.1 321.6,751.9 322.4,755.6 323.1,759.1 323.9,763.5 324.6,768.0 325.4,771.2 326.1,774.6 326.9,778.1 327.6,781.7 328.4,784.2 329.1,786.6 329.9,789.4 330.6,792.1 331.4,793.8 332.1,795.4 332.9,797.7 333.6,799.9 334.4,801.4 335.1,802.7 335.9,804.3 336.6,806.2 337.4,807.1 338.1,807.9 338.9,809.1 339.6,810.7 340.4,811.2 341.1,811.8 341.9,812.7 342.6,813.9 343.4,814.3 344.1,814.8 344.9,815.3 345.6,816.2 346.4,816.4 347.1,816.5 347.9,817.3 348.6,817.9 349.4,818.0 350.1,817.9 350.9,818.4 351.6,819.1 352.4,819.1 353.1,819.2 353.9,819.6 354.6,820.4 355.4,820.5 356.1,820.2 356.9,821.0 357.6,821.5 358.4,821.6 359.1,821.4 359.9,822.1 360.6,822.6 361.4,822.3 362.1,822.5 362.9,822.8 363.6,823.6 364.4,823.4 365.1,823.3 365.9,823.7 366.6,824.7 367.4,824.3 368.1,824.2 368.9,825.1 369.6,825.2 370.4,825.3 371.1,825.3 371.9,825.9 372.6,826.5 373.4,826.5 374.1,826.1 374.9,826.5 375.6,827.1 376.4,827.0 377.1,827.0 377.9,827.7 378.6,828.4 379.4,827.9 380.1,827.9 380.9,828.7 381.6,829.1 382.4,829.0 383.1,828.7 383.9,829.2 384.6,829.8 385.4,830.0 386.1,829.6 386.9,830.3 387.6,831.0 388.4,830.5 389.1,830.6 389.9,831.2 390.6,831.8 391.4,831.8 392.1,831.7 392.9,832.1 393.6,832.5 394.4,832.6 395.1,832.4 395.9,833.2 396.6,833.5 397.4,833.4 398.1,833.4 398.9,833.8 399.6,834.3 400.4,834.3 401.1,834.2 401.9,834.8 402.6,834.9 403.4,834.7 404.1,834.6 404.9,834.7 405.6,834.5 406.4,833.5 407.1,832.3 407.9,831.6 408.6,830.2 409.4,827.8 410.1,824.9 410.9,822.2 411.6,818.9 412.4,814.1 413.1,809.5 413.9,805.0 414.6,799.9 415.4,794.4 416.1,789.0 416.9,784.9 417.6,781.0 418.4,776.9 419.1,773.8 419.9,772.0 420.6,770.5 421.4,769.3 422.1,769.1 422.9,769.9 423.6,770.8 424.4,771.6 425.1,773.1 425.9,775.8 426.6,779.2 427.4,782.5 428.1,786.1 428.9,790.7 429.6,795.8 430.4,800.6 431.1,805.4 431.9,810.5 432.6,815.7 433.4,819.6 434.1,823.4 434.9,827.7 435.6,831.6 436.4,834.1 437.1,836.1 437.9,838.7 438.6,840.8 439.4,841.9 440.1,842.7 440.9,844.5 441.6,845.3 442.4,845.4 443.1,845.6 443.9,846.6 444.6,847.4 445.4,847.2 446.1,847.4 446.9,848.0 447.6,848.3 448.4,847.9 449.1,848.0 449.9,848.8 450.6,849.1 451.4,848.8 452.1,848.8 452.9,849.8 453.6,850.1 454.4,849.8 455.1,849.9 455.9,850.7 456.6,850.7 457.4,850.8 458.1,850.6 458.9,851.6 459.6,851.9 460.4,851.8 461.1,851.6 461.9,852.3 462.6,852.5 463.4,852.4 464.1,852.7 464.9,853.4 465.6,853.7 466.4,853.5 467.1,853.4 467.9,854.1 468.6,854.6 469.4,854.1 470.1,854.5 470.9,855.0 471.6,855.1 472.4,855.0 473.1,855.2 473.9,855.6 474.6,856.0 475.4,855.7 476.1,855.8 476.9,856.8 477.6,857.2 478.4,856.9 479.1,856.9 479.9,857.6 480.6,857.9 481.4,857.6 482.1,857.7 482.9,858.2 483.6,858.6 484.4,858.4 485.1,858.5 485.9,859.3 486.6,859.4 487.4,859.2 488.1,859.7 488.9,860.2 489.6,860.6 490.4,860.4 491.1,860.2 491.9,861.0 492.6,861.5 493.4,861.2 494.1,861.1 494.9,861.8 495.6,862.2 496.4,861.7 497.1,862.0 497.9,862.8 498.6,863.1 499.4,862.8 500.1,863.0 500.9,863.6 501.6,863.8 502.4,863.5 503.1,864.0 503.9,864.6 504.6,864.7 505.4,864.7 506.1,864.9 506.9,865.4 507.6,865.8 508.4,865.6 509.1,865.3 509.9,866.4" fill="#d08ef2" stroke="#aa32e8"/>
<polyline points="218.5,791.1 219.2,790.9 220.0,790.9 220.7,791.8 221.5,791.6 222.2,791.7 223.0,791.9 223.7,792.5 224.5,792.5 225.2,792.6 226.0,792.9 226.7,793.4 227.5,793.6 228.2,793.2 229.0,793.9 229.7,794.4 230.5,794.5 231.2,794.3 232.0,794.8 232.7,795.3 233.5,795.2 234.2,795.1 235.0,795.5 235.7,796.0 236.5,796.0 237.2,796.1 238.0,796.5 238.7,797.2 239.5,797.1 240.2,796.8 241.0,797.2 241.7,797.9 242.5,797.9 243.2,797.9 244.0,798.2 244.7,798.6 245.5,798.6 246.2,798.3 247.0,799.1 247.7,799.5 248.5,799.5 249.2,799.2 250.0,799.8 250.7,800.6 251.5,800.3 252.2,800.4 253.0,800.8 253.7,801.4 254.5,801.3 255.2,801.0 256.0,801.7 256.7,802.2 257.5,802.4 258.2,802.0 259.0,802.3 259.7,803.2 260.5,803.0 261.2,802.7 262.0,803.3 262.7,803.6 263.5,803.6 264.2,803.7 265.0,804.0 265.7,804.6 266.5,804.3 267.2,804.2 268.0,804.5 268.7,805.2 269.5,805.0 270.2,804.6 271.0,804.9 271.7,805.2 272.5,804.9 273.2,804.8 274.0,804.8 274.7,804.9 275.5,804.6 276.2,804.1 277.0,804.4 277.7,804.0 278.5,803.3 279.2,802.8 280.0,802.3 280.7,801.8 281.5,800.7 282.2,799.3 283.0,798.5 283.7,797.7 284.5,796.2 285.2,794.1 286.0,792.9 286.7,791.2 287.5,789.1 288.2,786.4 289.0,784.5 289.7,782.3 290.5,779.1 291.2,775.9 292.0,773.0 292.7,770.1 293.5,766.7 294.2,763.0 295.0,759.4 295.7,756.5 296.5,752.6 297.2,748.3 298.0,745.1 298.7,742.0 299.5,738.2 300.2,734.7 301.0,732.3 301.7,729.9 302.5,727.5 303.2,725.6 304.0,724.7 304.7,724.9 305.5,724.9 306.2,725.6 307.0,727.7 307.7,730.2 308.5,732.2 309.2,734.8 310.0,738.3 310.7,741.7 311.5,745.2 312.2,748.2 313.0,752.3 313.7,756.7 314.5,760.3 315.2,763.8 316.0,767.9 316.7,772.0 317.5,775.2 318.2,778.8 319.0,782.6 319.7,785.7 320.5,788.5 321.2,791.0 322.0,793.8 322.7,796.7 323.5,798.4 324.2,800.5 325.0,802.8 325.7,804.9 326.5,806.0 327.2,807.4 328.0,809.7 328.7,811.1 329.5,812.4 330.2,813.2 331.0,815.1 331.7,816.1 332.5,816.8 333.2,817.9 334.0,818.9 334.7,819.9 335.5,820.6 336.2,820.9 337.0,821.6 337.7,822.6 338.5,822.6 339.2,823.0 340.0,823.7 340.7,824.3 341.5,824.4 342.2,824.5 343.0,825.2 343.7,826.1 344.5,825.8 345.2,826.0 346.0,826.8 346.7,827.3 347.5,826.9 348.2,827.4 349.0,828.1 349.7,828.5 350.5,828.1 351.2,828.4 352.0,829.0 352.7,829.1 353.5,829.2 354.2,829.4 355.0,829.9 355.7,830.6 356.5,830.3 357.2,830.4 358.0,831.1 358.7,831.2 359.5,831.4 360.2,831.0 361.0,832.0 361.7,832.0 362.5,832.1 363.2,832.1 364.0,832.6 364.7,833.2 365.5,833.1 366.2,832.9 367.0,833.6 367.7,834.2 368.5,833.9 369.2,833.7 370.0,834.5 370.7,835.2 371.5,834.7 372.2,834.8 373.0,835.5 373.7,836.1 374.5,835.9 375.2,835.7 376.0,836.5 376.7,836.5 377.5,836.4 378.2,836.6 379.0,837.4 379.7,837.5 380.5,837.2 381.2,837.7 382.0,838.0 382.7,838.3 383.5,838.1 384.2,838.2 385.0,839.0 385.7,839.5 386.5,839.3 387.2,839.2 388.0,840.0 388.7,840.2 389.5,840.1 390.2,840.0 391.0,840.9 391.7,840.9 392.5,841.1 393.2,840.8 394.0,841.5 394.7,841.5 395.5,841.3 396.2,841.1 397.0,841.5 397.7,841.4 398.5,840.5 399.2,839.8 400.0,839.0 400.7,837.9 401.5,835.7 402.2,833.6 403.0,831.6 403.7,829.0 404.5,824.8 405.2,821.4 406.0,817.6 406.7,813.5 407.5,808.5 408.2,804.3 409.0,800.3 409.7,796.2 410.5,792.1 411.2,788.7 412.0,786.5 412.7,785.0 413.5,782.9 414.2,782.3 415.0,782.7 415.7,782.9 416.5,783.8 417.2,784.7 418.0,787.4 418.7,789.6 419.5,792.2 420.2,795.5 421.0,799.4 421.7,803.6 422.5,807.5 423.2,811.8 424.0,816.6 424.7,820.8 425.5,824.2 426.2,828.3 427.0,832.4 427.7,835.5 428.5,838.4 429.2,840.7 430.0,843.7 430.7,845.6 431.5,846.8 432.2,848.6 433.0,850.1 433.7,851.1 434.5,851.5 435.2,852.1 436.0,853.3 436.7,853.3 437.5,853.5 438.2,853.8 439.0,854.7 439.7,854.9 440.5,855.0 441.2,854.9 442.0,855.6 442.7,856.1 443.5,855.8 444.2,855.9 445.0,856.5 445.7,856.9 446.5,856.4 447.2,856.9 448.0,857.3 448.7,857.8 449.5,857.2 450.2,857.9 451.0,858.5 451.7,858.3 452.5,858.1 453.2,858.8 454.0,859.4 454.7,859.3 455.5,859.3 456.2,859.5 457.0,860.0 457.7,860.3 458.5,860.0 459.2,860.1 460.0,861.1 460.7,861.2 461.5,860.8 462.2,861.1 463.0,861.9 463.7,861.9 464.5,861.6 465.2,862.1 466.0,862.9 466.7,862.6 467.5,862.5 468.2,862.9 469.0,863.8 469.7,863.9 470.5,863.3 471.2,863.9 472.0,864.3 472.7,864.4 473.5,864.2 474.2,864.7 475.0,865.6 475.7,865.7 476.5,865.2 477.2,865.7 478.0,866.3 478.7,866.1 479.5,866.3 480.2,866.3 481.0,867.3 481.7,867.0 482.5,867.2 483.2,867.3 484.0,867.9 484.7,867.9 485.5,867.8 486.2,868.3 487.0,868.8 487.7,869.1 488.5,868.7 489.2,869.2 490.0,869.5 490.7,869.9 491.5,869.6 492.2,870.1 493.0,870.5 493.7,870.6 494.5,870.6 495.2,870.7 496.0,871.3 496.7,871.7 497.5,871.4 498.2,871.7 499.0,872.0 499.7,872.5 500.5,872.1 501.2,872.4 502.0,873.1" fill="#aa88ee" stroke="#6c32e2"/>
<polyline points="210.6,798.0 211.4,798.2 212.1,798.1 212.9,798.2 213.6,798.6 214.4,798.9 215.1,799.0 215.9,798.7 216.6,799.5 217.4,799.6 218.1,799.4 218.9,799.7 219.6,800.5 220.4,800.4 221.1,800.6 221.9,800.7 222.6,801.2 223.4,801.3 224.1,801.3 224.9,801.5 225.6,802.2 226.4,802.2 227.1,802.1 227.9,802.5 228.6,802.9 229.4,803.2 230.1,803.2 230.9,803.4 231.6,803.8 232.4,804.2 233.1,803.7 233.9,804.0 234.6,804.6 235.4,805.0 236.1,804.6 236.9,805.0 237.6,805.5 238.4,806.0 239.1,805.5 239.9,806.0 240.6,806.7 241.4,806.7 242.1,806.5 242.9,806.7 243.6,807.6 244.4,807.7 245.1,807.1 245.9,807.8 246.6,808.1 247.4,808.4 248.1,808.1 248.9,808.5 249.6,809.2 250.4,809.4 251.1,809.0 251.9,809.1 252.6,810.0 253.4,810.3 254.1,809.9 254.9,810.2 255.6,810.9 256.4,810.9 257.1,810.8 257.9,811.1 258.6,811.6 259.4,811.7 260.1,811.1 260.9,811.4 261.6,812.2 262.4,812.1 263.1,811.9 263.9,812.1 264.6,812.3 265.4,812.1 266.1,812.0 266.9,811.8 267.6,812.3 268.4,812.0 269.1,811.5 269.9,811.6 270.6,811.7 271.4,811.3 272.1,810.2 272.9,810.4 273.6,810.1 274.4,809.5 275.1,808.2 275.9,807.6 276.6,807.3 277.4,806.0 278.1,804.4 278.9,803.1 279.6,802.1 280.4,800.7 281.1,798.7 281.9,796.9 282.6,795.2 283.4,793.0 284.1,790.5 284.9,788.2 285.6,785.7 286.4,782.8 287.1,779.6 287.9,777.0 288.6,774.1 289.4,771.0 290.1,767.1 290.9,763.9 291.6,761.0 292.4,757.3 293.1,754.1 293.9,750.7 294.6,748.3 295.4,745.3 296.1,742.3 296.9,740.5 297.6,739.7 298.4,738.7 299.1,738.1 299.9,739.2 300.6,741.0 301.4,742.6 302.1,744.4 302.9,747.1 303.6,750.3 304.4,753.3 305.1,756.2 305.9,760.0 306.6,763.5 307.4,767.2 308.1,770.4 308.9,774.1 309.6,778.2 310.4,781.2 311.1,784.3 311.9,788.0 312.6,791.7 313.4,794.1 314.1,796.9 314.9,799.6 315.6,802.5 316.4,804.2 317.1,806.1 317.9,808.5 318.6,810.7 319.4,812.1 320.1,813.5 320.9,815.3 321.6,817.1 322.4,818.1 323.1,819.3 323.9,821.1 324.6,822.6 325.4,823.0 326.1,823.8 326.9,825.0 327.6,826.5 328.4,826.7 329.1,827.4 329.9,828.0 330.6,829.1 331.4,829.7 332.1,829.5 332.9,830.5 333.6,831.1 334.4,831.5 335.1,831.3 335.9,832.2 336.6,832.7 337.4,833.1 338.1,832.8 338.9,833.6 339.6,833.9 340.4,834.4 341.1,834.2 341.9,835.0 342.6,835.5 343.4,835.1 344.1,835.4 344.9,835.8 345.6,836.2 346.4,836.5 347.1,836.4 347.9,836.8 348.6,837.2 349.4,837.4 350.1,837.1 350.9,837.7 351.6,838.1 352.4,838.1 353.1,838.4 353.9,838.7 354.6,839.6 355.4,839.1 356.1,839.3 356.9,839.9 357.6,840.3 358.4,840.2 359.1,839.9 359.9,840.8 360.6,841.4 361.4,841.1 362.1,840.9 362.9,841.4 363.6,841.9 364.4,842.2 365.1,841.8 365.9,842.4 366.6,843.0 367.4,842.6 368.1,843.0 368.9,843.5 369.6,843.8 370.4,843.5 371.1,843.9 371.9,844.4 372.6,844.9 373.4,844.5 374.1,844.8 374.9,845.2 375.6,845.4 376.4,845.7 377.1,845.6 377.9,845.9 378.6,846.7 379.4,846.4 380.1,846.4 380.9,846.7 381.6,847.2 382.4,847.4 383.1,847.0 383.9,847.6 384.6,848.0 385.4,848.0 386.1,847.7 386.9,848.5 387.6,848.6 388.4,848.4 389.1,848.2 389.9,848.5 390.6,848.0 391.4,847.3 392.1,846.7 392.9,846.0 393.6,845.4 394.4,843.4 395.1,841.7 395.9,839.9 396.6,838.1 397.4,834.8 398.1,831.8 398.9,829.1 399.6,825.8 400.4,821.5 401.1,817.6 401.9,814.2 402.6,811.1 403.4,807.2 404.1,804.0 404.9,801.7 405.6,799.4 406.4,797.5 407.1,796.1 407.9,796.2 408.6,796.5 409.4,796.6 410.1,797.8 410.9,799.4 411.6,801.7 412.4,803.9 413.1,806.4 413.9,810.1 414.6,813.5 415.4,816.6 416.1,820.1 416.9,824.5 417.6,828.4 418.4,831.6 419.1,834.9 419.9,838.5 420.6,841.8 421.4,844.2 422.1,846.4 422.9,849.1 423.6,851.1 424.4,852.5 425.1,853.8 425.9,855.5 426.6,857.0 427.4,857.5 428.1,858.3 428.9,859.6 429.6,860.0 430.4,860.4 431.1,860.7 431.9,861.2 432.6,861.9 433.4,861.6 434.1,861.7 434.9,862.4 435.6,862.8 436.4,862.5 437.1,862.7 437.9,863.7 438.6,864.1 439.4,863.9 440.1,863.6 440.9,864.2 441.6,864.9 442.4,864.5 443.1,864.6 443.9,865.4 444.6,865.6 445.4,865.4 446.1,865.4 446.9,866.0 447.6,866.6 448.4,866.5 449.1,866.2 449.9,866.9 450.6,867.4 451.4,867.0 452.1,867.3 452.9,867.9 453.6,868.1 454.4,867.8 455.1,868.1 455.9,869.0 456.6,868.9 457.4,868.9 458.1,869.2 458.9,869.7 459.6,869.9 460.4,870.0 461.1,870.1 461.9,870.8 462.6,870.7 463.4,870.6 464.1,870.8 464.9,871.6 465.6,871.8 466.4,871.5 467.1,871.7 467.9,872.5 468.6,872.5 469.4,872.2 470.1,872.4 470.9,873.0 471.6,873.2 472.4,873.5 473.1,873.4 473.9,874.2 474.6,874.3 475.4,874.1 476.1,874.1 476.9,875.1 477.6,875.0 478.4,874.6 479.1,874.6 479.9,874.3 480.6,873.3 481.4,872.5 482.1,873.8 482.9,875.9 483.6,876.5 484.4,876.4 485.1,876.9 485.9,877.4 486.6,877.6 487.4,877.7 488.1,877.7 488.9,878.5 489.6,878.5 490.4,878.2 491.1,878.8 491.9,879.4 492.6,879.6 493.4,879.3 494.1,879.3" fill="#7e8bea" stroke="#283edc"/>
<polyline points="202.7,804.7 203.5,804.5 204.2,804.9 205.0,805.5 205.7,805.2 206.5,805.0 207.2,805.9 208.0,806.1 208.7,806.1 209.5,806.1 210.2,806.7 211.0,807.3 211.7,807.3 212.5,807.2 213.2,807.4 214.0,807.9 214.7,807.8 215.5,807.8 216.2,808.2 217.0,809.1 217.7,808.9 218.5,808.7 219.2,809.0 220.0,810.0 220.7,809.6 221.5,809.7 222.2,810.0 223.0,810.5 223.7,810.4 224.5,810.5 225.2,810.9 226.0,811.5 226.7,811.5 227.5,811.2 228.2,811.7 229.0,812.4 229.7,812.2 230.5,812.2 231.2,812.7 232.0,813.1 232.7,813.0 233.5,813.2 234.2,813.7 235.0,814.2 235.7,814.1 236.5,813.9 237.2,814.3 238.0,815.2 238.7,814.9 239.5,814.8 240.2,815.2 241.0,815.8 241.7,815.9 242.5,815.6 243.2,816.3 244.0,816.5 244.7,816.6 245.5,816.3 246.2,816.8 247.0,817.3 247.7,817.2 248.5,817.3 249.2,817.7 250.0,818.4 250.7,817.8 251.5,818.1 252.2,818.4 253.0,819.0 253.7,818.6 254.5,818.4 255.2,819.2 256.0,819.4 256.7,819.2 257.5,818.9 258.2,819.4 259.0,819.8 259.7,819.3 260.5,819.2 261.2,819.2 262.0,819.3 262.7,819.1 263.5,818.7 264.2,818.9 265.0,818.6 265.7,817.9 266.5,817.6 267.2,817.2 268.0,816.9 268.7,815.9 269.5,815.1 270.2,814.8 271.0,814.1 271.7,812.9 272.5,811.4 273.2,810.8 274.0,809.8 274.7,807.8 275.5,806.3 276.2,805.2 277.0,803.5 277.7,801.4 278.5,799.1 279.2,797.1 280.0,794.7 280.7,791.9 281.5,789.4 282.2,787.2 283.0,784.3 283.7,780.9 284.5,778.0 285.2,775.2 286.0,772.3 286.7,768.7 287.5,765.6 288.2,763.0 289.0,760.4 289.7,757.5 290.5,754.5 291.2,753.4 292.0,752.0 292.7,751.1 293.5,751.1 294.2,752.8 295.0,754.4 295.7,755.9 296.5,758.3 297.2,761.2 298.0,764.2 298.7,766.8 299.5,770.0 300.2,773.8 301.0,777.0 301.7,780.1 302.5,783.7 303.2,787.3 304.0,790.9 304.7,793.5 305.5,796.7 306.2,800.0 307.0,802.8 307.7,804.9 308.5,807.3 309.2,810.3 310.0,812.5 310.7,813.9 311.5,815.6 312.2,818.0 313.0,819.9 313.7,820.8 314.5,822.6 315.2,824.2 316.0,825.6 316.7,826.5 317.5,827.9 318.2,829.6 319.0,830.4 319.7,831.0 320.5,831.8 321.2,833.1 322.0,834.0 322.7,834.5 323.5,835.0 324.2,836.2 325.0,836.7 325.7,836.8 326.5,837.3 327.2,838.1 328.0,838.6 328.7,838.6 329.5,838.9 330.2,840.0 331.0,840.2 331.7,840.3 332.5,840.8 333.2,841.4 334.0,841.6 334.7,841.5 335.5,841.7 336.2,842.4 337.0,842.6 337.7,842.5 338.5,842.7 339.2,843.4 340.0,843.8 340.7,843.5 341.5,844.0 342.2,844.4 343.0,844.9 343.7,844.8 344.5,844.9 345.2,845.7 346.0,846.0 346.7,845.6 347.5,845.7 348.2,846.3 349.0,846.9 349.7,846.5 350.5,846.7 351.2,847.2 352.0,847.5 352.7,847.7 353.5,847.7 354.2,848.5 355.0,848.8 355.7,848.3 356.5,848.5 357.2,849.4 358.0,849.4 358.7,849.4 359.5,849.7 360.2,850.1 361.0,850.4 361.7,850.4 362.5,850.6 363.2,851.3 364.0,851.4 364.7,850.9 365.5,851.1 366.2,851.7 367.0,852.4 367.7,852.0 368.5,852.4 369.2,853.1 370.0,852.9 370.7,853.1 371.5,853.0 372.2,853.5 373.0,853.8 373.7,853.9 374.5,854.1 375.2,854.5 376.0,854.7 376.7,854.6 377.5,854.8 378.2,855.5 379.0,855.3 379.7,854.9 380.5,855.1 381.2,855.8 382.0,855.5 382.7,855.1 383.5,854.6 384.2,854.9 385.0,854.5 385.7,853.3 386.5,852.7 387.2,852.1 388.0,850.7 388.7,848.9 389.5,847.2 390.2,845.6 391.0,843.3 391.7,840.6 392.5,838.0 393.2,835.6 394.0,832.2 394.7,828.8 395.5,825.7 396.2,823.2 397.0,819.9 397.7,816.8 398.5,814.4 399.2,813.1 400.0,811.4 400.7,809.6 401.5,809.2 402.2,809.7 403.0,810.5 403.7,811.3 404.5,812.7 405.2,814.9 406.0,817.3 406.7,819.5 407.5,822.3 408.2,825.7 409.0,828.7 409.7,831.4 410.5,835.0 411.2,838.3 412.0,841.4 412.7,843.9 413.5,846.6 414.2,849.7 415.0,852.2 415.7,854.1 416.5,856.2 417.2,858.1 418.0,859.6 418.7,860.6 419.5,862.0 420.2,863.7 421.0,864.7 421.7,865.2 422.5,865.9 423.2,866.8 424.0,867.3 424.7,867.3 425.5,868.0 426.2,868.9 427.0,869.1 427.7,868.9 428.5,869.4 429.2,870.3 430.0,870.3 430.7,870.2 431.5,870.4 432.2,871.0 433.0,871.4 433.7,870.8 434.5,871.5 435.2,872.3 436.0,872.2 436.7,871.7 437.5,872.1 438.2,873.1 439.0,872.8 439.7,872.8 440.5,873.3 441.2,873.9 442.0,873.7 442.7,873.8 443.5,874.3 444.2,874.7 445.0,874.7 445.7,874.6 446.5,875.1 447.2,875.6 448.0,875.8 448.7,875.6 449.5,876.0 450.2,876.3 451.0,876.5 451.7,876.1 452.5,876.5 453.2,877.2 454.0,877.5 454.7,877.0 455.5,877.5 456.2,878.4 457.0,878.4 457.7,878.1 458.5,878.4 459.2,879.2 460.0,878.8 460.7,878.6 461.5,879.1 462.2,879.8 463.0,879.8 463.7,879.9 464.5,880.2 465.2,880.9 466.0,880.8 466.7,880.6 467.5,881.0 468.2,881.4 469.0,881.6 469.7,881.7 470.5,882.2 471.2,882.7 472.0,882.3 472.7,882.3 473.5,883.0 474.2,883.2 475.0,883.1 475.7,883.1 476.5,883.5 477.2,884.4 478.0,884.3 478.7,884.3 479.5,884.3 480.2,885.2 481.0,885.2 481.7,884.8 482.5,885.2 483.2,886.2 484.0,886.1 484.7,885.6 485.5,886.1 486.2,886.9" fill="#7da9d0" stroke="#2670b0"/>
<polyline points="194.9,811.5 195.6,811.5 196.4,811.3 197.1,811.8 197.9,812.5 198.6,812.7 199.4,812.1 200.1,812.6 200.9,813.1 201.6,813.4 202.4,813.1 203.1,813.5 203.9,814.4 204.6,814.4 205.4,814.2 206.1,814.5 206.9,814.9 207.6,815.2 208.4,815.2 209.1,815.1 209.9,816.1 210.6,815.9 211.4,815.7 212.1,816.3 212.9,817.0 213.6,816.7 214.4,816.5 215.1,817.1 215.9,817.5 216.6,817.7 217.4,817.8 218.1,817.7 218.9,818.5 219.6,818.5 220.4,818.3 221.1,818.8 221.9,819.6 222.6,819.5 223.4,819.3 224.1,819.8 224.9,820.5 225.6,820.6 226.4,820.1 227.1,820.4 227.9,821.4 228.6,821.2 229.4,821.2 230.1,821.2 230.9,822.2 231.6,821.8 232.4,821.7 233.1,822.1 233.9,822.8 234.6,822.8 235.4,822.8 236.1,823.3 236.9,823.7 237.6,823.8 238.4,823.5 239.1,823.9 239.9,824.4 240.6,824.3 241.4,824.2 242.1,824.8 242.9,825.4 243.6,825.4 244.4,825.0 245.1,825.4 245.9,825.8 246.6,825.8 247.4,826.0 248.1,826.1 248.9,826.5 249.6,826.5 250.4,826.2 251.1,826.4 251.9,826.9 252.6,826.7 253.4,826.6 254.1,826.8 254.9,826.9 255.6,826.6 256.4,826.1 257.1,826.6 257.9,826.3 258.6,826.1 259.4,825.2 260.1,825.4 260.9,825.3 261.6,824.4 262.4,823.7 263.1,823.5 263.9,823.2 264.6,822.1 265.4,820.8 266.1,820.3 266.9,819.6 267.6,818.1 268.4,816.8 269.1,815.5 269.9,814.5 270.6,812.8 271.4,810.4 272.1,809.0 272.9,807.4 273.6,805.2 274.4,802.5 275.1,800.5 275.9,798.2 276.6,795.1 277.4,792.4 278.1,789.9 278.9,787.2 279.6,784.3 280.4,780.6 281.1,778.4 281.9,775.7 282.6,772.7 283.4,770.0 284.1,767.6 284.9,766.2 285.6,764.3 286.4,763.3 287.1,764.3 287.9,765.2 288.6,766.6 289.4,768.1 290.1,771.1 290.9,773.7 291.6,776.3 292.4,778.6 293.1,782.1 293.9,785.4 294.6,788.4 295.4,791.3 296.1,794.7 296.9,798.1 297.6,800.7 298.4,803.7 299.1,806.4 299.9,809.5 300.6,812.1 301.4,814.4 302.1,817.0 302.9,819.1 303.6,821.1 304.4,822.4 305.1,824.5 305.9,826.4 306.6,827.6 307.4,829.0 308.1,830.8 308.9,832.1 309.6,833.4 310.4,834.1 311.1,835.8 311.9,836.9 312.6,837.8 313.4,838.4 314.1,840.0 314.9,840.9 315.6,841.2 316.4,841.9 317.1,842.5 317.9,843.7 318.6,843.9 319.4,843.9 320.1,845.0 320.9,845.5 321.6,846.1 322.4,845.8 323.1,846.8 323.9,847.4 324.6,847.2 325.4,847.7 326.1,848.2 326.9,848.8 327.6,848.6 328.4,848.6 329.1,849.3 329.9,849.7 330.6,849.7 331.4,849.9 332.1,850.4 332.9,851.1 333.6,850.7 334.4,850.8 335.1,851.5 335.9,852.1 336.6,851.8 337.4,851.7 338.1,852.3 338.9,852.9 339.6,852.8 340.4,853.0 341.1,853.3 341.9,853.8 342.6,853.9 343.4,853.6 344.1,854.1 344.9,855.0 345.6,854.9 346.4,854.6 347.1,855.2 347.9,855.7 348.6,855.4 349.4,855.7 350.1,856.4 350.9,856.7 351.6,856.4 352.4,856.7 353.1,857.3 353.9,857.4 354.6,857.4 355.4,857.2 356.1,858.3 356.9,858.6 357.6,858.2 358.4,858.4 359.1,858.8 359.9,859.1 360.6,859.1 361.4,859.0 362.1,859.8 362.9,860.3 363.6,860.0 364.4,859.9 365.1,860.5 365.9,861.1 366.6,860.8 367.4,861.1 368.1,861.3 368.9,861.8 369.6,861.6 370.4,861.6 371.1,862.0 371.9,862.4 372.6,862.2 373.4,862.0 374.1,862.5 374.9,862.7 375.6,862.4 376.4,861.9 377.1,861.9 377.9,861.6 378.6,860.9 379.4,860.1 380.1,859.6 380.9,858.9 381.6,857.4 382.4,855.8 383.1,854.9 383.9,853.2 384.6,850.5 385.4,848.3 386.1,846.6 386.9,844.3 387.6,841.3 388.4,838.4 389.1,836.2 389.9,833.9 390.6,830.9 391.4,828.6 392.1,826.9 392.9,825.6 393.6,823.9 394.4,822.8 395.1,823.4 395.9,823.8 396.6,824.2 397.4,825.3 398.1,827.2 398.9,829.0 399.6,830.7 400.4,833.2 401.1,836.0 401.9,838.7 402.6,840.9 403.4,843.8 404.1,847.0 404.9,849.7 405.6,851.6 406.4,854.1 407.1,857.0 407.9,859.0 408.6,861.0 409.4,862.9 410.1,864.9 410.9,866.3 411.6,867.5 412.4,868.8 413.1,870.1 413.9,871.3 414.6,871.7 415.4,872.6 416.1,873.7 416.9,874.3 417.6,874.3 418.4,875.0 419.1,875.7 419.9,876.2 420.6,875.9 421.4,876.1 422.1,877.1 422.9,877.2 423.6,877.4 424.4,877.3 425.1,878.3 425.9,878.3 426.6,878.0 427.4,878.4 428.1,878.9 428.9,879.5 429.6,879.1 430.4,879.1 431.1,879.8 431.9,879.9 432.6,879.9 433.4,880.2 434.1,880.7 434.9,881.1 435.6,880.8 436.4,881.2 437.1,881.8 437.9,881.8 438.6,881.8 439.4,881.7 440.1,882.4 440.9,882.5 441.6,882.8 442.4,882.8 443.1,883.6 443.9,883.9 444.6,883.2 445.4,883.8 446.1,884.0 446.9,884.6 447.6,884.4 448.4,884.5 449.1,885.4 449.9,885.5 450.6,885.1 451.4,885.3 452.1,885.9 452.9,886.0 453.6,886.0 454.4,886.3 455.1,886.7 455.9,887.1 456.6,886.6 457.4,887.0 458.1,887.9 458.9,887.8 459.6,887.7 460.4,887.8 461.1,888.8 461.9,888.6 462.6,888.8 463.4,889.1 464.1,889.7 464.9,889.5 465.6,889.5 466.4,889.5 467.1,890.6 467.9,890.6 468.6,890.1 469.4,890.4 470.1,891.1 470.9,891.3 471.6,891.4 472.4,891.6 473.1,892.0 473.9,892.4 474.6,891.8 475.4,892.4 476.1,892.9 476.9,892.9 477.6,893.1 478.4,893.3" fill="#81d1b1" stroke="#2db27d"/>
<polyline points="187.0,818.1 187.7,818.7 188.5,818.5 189.2,818.5 190.0,819.1 190.7,819.6 191.5,819.6 192.2,819.4 193.0,819.7 193.7,820.2 194.5,820.3 195.2,820.1 196.0,820.5 196.7,821.1 197.5,821.4 198.2,821.4 199.0,821.7 199.7,822.3 200.5,822.0 201.2,822.2 202.0,822.4 202.7,823.2 203.5,822.9 204.2,822.8 205.0,823.3 205.7,823.7 206.5,823.7 207.2,823.8 208.0,824.3 208.7,825.0 209.5,824.8 210.2,824.5 211.0,825.0 211.7,825.7 212.5,825.6 213.2,825.7 214.0,826.0 214.7,826.7 215.5,826.4 216.2,826.3 217.0,826.6 217.7,827.3 218.5,827.3 219.2,827.0 220.0,827.6 220.7,828.0 221.5,828.1 222.2,828.2 223.0,828.7 223.7,828.9 224.5,829.1 225.2,828.9 226.0,829.2 226.7,829.8 227.5,829.9 228.2,829.7 229.0,830.3 229.7,830.5 230.5,830.7 231.2,830.6 232.0,830.9 232.7,831.6 233.5,831.7 234.2,831.5 235.0,831.9 235.7,832.3 236.5,832.3 237.2,832.0 238.0,832.6 238.7,832.9 239.5,832.8 240.2,832.8 241.0,833.1 241.7,833.5 242.5,833.2 243.2,833.0 244.0,833.5 244.7,833.7 245.5,833.4 246.2,833.1 247.0,833.3 247.7,833.7 248.5,833.5 249.2,832.7 250.0,833.1 250.7,833.1 251.5,832.6 252.2,832.0 253.0,831.8 253.7,831.5 254.5,830.8 255.2,830.1 256.0,829.8 256.7,829.5 257.5,828.2 258.2,827.1 259.0,826.3 259.7,825.7 260.5,823.8 261.2,822.6 262.0,821.3 262.7,820.0 263.5,818.2 264.2,816.1 265.0,814.8 265.7,812.6 266.5,810.1 267.2,807.9 268.0,805.7 268.7,803.6 269.5,801.1 270.2,798.1 271.0,795.8 271.7,793.5 272.5,790.5 273.2,787.8 274.0,785.7 274.7,784.1 275.5,781.7 276.2,779.8 277.0,779.1 277.7,779.7 278.5,780.1 279.2,780.8 280.0,783.3 280.7,785.5 281.5,787.7 282.2,789.7 283.0,792.6 283.7,795.4 284.5,798.1 285.2,800.5 286.0,803.9 286.7,806.6 287.5,809.3 288.2,811.5 289.0,814.7 289.7,817.4 290.5,819.5 291.2,821.4 292.0,823.8 292.7,826.0 293.5,827.4 294.2,828.9 295.0,831.0 295.7,832.7 296.5,834.0 297.2,834.8 298.0,836.7 298.7,838.2 299.5,838.9 300.2,840.2 301.0,841.4 301.7,843.0 302.5,843.3 303.2,844.4 304.0,845.4 304.7,846.4 305.5,846.8 306.2,847.4 307.0,848.4 307.7,849.3 308.5,849.9 309.2,850.0 310.0,850.9 310.7,851.7 311.5,851.5 312.2,851.8 313.0,853.0 313.7,853.3 314.5,853.2 315.2,853.4 316.0,854.4 316.7,855.0 317.5,854.7 318.2,855.0 319.0,855.5 319.7,855.9 320.5,855.8 321.2,856.0 322.0,856.6 322.7,857.3 323.5,856.8 324.2,857.0 325.0,857.9 325.7,857.9 326.5,858.2 327.2,858.2 328.0,858.8 328.7,859.0 329.5,858.8 330.2,859.2 331.0,859.9 331.7,859.8 332.5,860.0 333.2,859.9 334.0,860.4 334.7,861.0 335.5,860.6 336.2,861.1 337.0,861.7 337.7,861.8 338.5,861.5 339.2,861.8 340.0,862.6 340.7,862.6 341.5,862.7 342.2,862.5 343.0,863.3 343.7,863.5 344.5,863.3 345.2,863.6 346.0,864.2 346.7,864.8 347.5,864.6 348.2,864.6 349.0,865.2 349.7,865.5 350.5,865.2 351.2,865.4 352.0,866.1 352.7,866.3 353.5,866.1 354.2,866.5 355.0,867.2 355.7,867.3 356.5,867.2 357.2,867.1 358.0,867.6 358.7,867.9 359.5,867.9 360.2,868.1 361.0,868.8 361.7,869.1 362.5,868.8 363.2,868.7 364.0,869.2 364.7,869.6 365.5,869.2 366.2,869.5 367.0,870.0 367.7,869.9 368.5,869.6 369.2,869.4 370.0,869.6 370.7,869.3 371.5,868.8 372.2,868.2 373.0,867.9 373.7,867.4 374.5,865.7 375.2,864.9 376.0,864.0 376.7,862.5 377.5,860.4 378.2,858.9 379.0,857.6 379.7,855.2 380.5,853.0 381.2,850.9 382.0,848.8 382.7,846.9 383.5,844.4 384.2,842.5 385.0,841.1 385.7,839.8 386.5,838.7 387.2,837.9 388.0,838.1 388.7,838.1 389.5,838.2 390.2,838.9 391.0,840.7 391.7,842.2 392.5,843.7 393.2,845.2 394.0,848.0 394.7,849.9 395.5,852.2 396.2,854.1 397.0,857.1 397.7,859.4 398.5,861.0 399.2,863.3 400.0,865.7 400.7,867.5 401.5,869.0 402.2,870.6 403.0,872.9 403.7,874.4 404.5,875.0 405.2,876.1 406.0,877.7 406.7,878.3 407.5,879.0 408.2,879.8 409.0,880.6 409.7,881.3 410.5,881.2 411.2,882.0 412.0,882.5 412.7,883.3 413.5,882.8 414.2,883.6 415.0,884.0 415.7,884.4 416.5,884.3 417.2,884.8 418.0,885.4 418.7,885.2 419.5,885.3 420.2,885.5 421.0,886.0 421.7,886.2 422.5,886.3 423.2,886.2 424.0,887.1 424.7,887.2 425.5,887.1 426.2,887.3 427.0,887.8 427.7,888.2 428.5,887.6 429.2,888.2 430.0,888.7 430.7,888.7 431.5,888.5 432.2,889.2 433.0,889.5 433.7,890.0 434.5,889.4 435.2,890.1 436.0,890.3 436.7,890.7 437.5,890.4 438.2,890.8 439.0,891.6 439.7,891.3 440.5,891.5 441.2,891.7 442.0,892.4 442.7,892.2 443.5,892.4 444.2,892.6 445.0,893.1 445.7,893.1 446.5,893.2 447.2,893.4 448.0,894.2 448.7,894.3 449.5,894.0 450.2,894.4 451.0,894.7 451.7,895.1 452.5,894.9 453.2,894.9 454.0,895.5 454.7,895.6 455.5,895.5 456.2,896.1 457.0,896.7 457.7,896.7 458.5,896.4 459.2,897.1 460.0,897.3 460.7,897.4 461.5,897.3 462.2,897.6 463.0,898.5 463.7,898.5 464.5,898.3 465.2,898.5 466.0,899.3 466.7,899.2 467.5,899.1 468.2,899.5 469.0,899.9 469.7,900.3 470.5,900.1" fill="#84e598" stroke="#32d454"/>
<polyline points="179.1,824.5 179.9,825.1 180.6,825.9 181.4,825.8 182.1,825.6 182.9,826.3 183.6,826.6 184.4,826.4 185.1,826.4 185.9,826.9 186.6,827.4 187.4,827.5 188.1,827.2 188.9,827.9 189.6,828.4 190.4,828.0 191.1,828.2 191.9,828.9 192.6,829.3 193.4,829.3 194.1,829.1 194.9,829.8 195.6,829.9 196.4,829.9 197.1,829.8 197.9,830.6 198.6,830.8 199.4,830.9 200.1,830.9 200.9,831.1 201.6,831.9 202.4,831.6 203.1,831.5 203.9,832.3 204.6,832.8 205.4,832.4 206.1,832.6 206.9,832.9 207.6,833.3 208.4,833.6 209.1,833.6 209.9,834.2 210.6,834.7 211.4,834.4 212.1,834.3 212.9,834.8 213.6,835.3 214.4,835.4 215.1,835.4 215.9,835.7 216.6,836.0 217.4,836.0 218.1,835.9 218.9,836.7 219.6,837.2 220.4,836.9 221.1,836.6 221.9,837.4 222.6,837.7 223.4,837.7 224.1,837.8 224.9,838.3 225.6,838.7 226.4,838.4 227.1,838.7 227.9,839.3 228.6,839.5 229.4,839.1 230.1,839.4 230.9,839.8 231.6,840.2 232.4,840.0 233.1,839.9 233.9,840.4 234.6,841.0 235.4,840.7 236.1,840.6 236.9,841.2 237.6,841.4 238.4,841.0 239.1,840.9 239.9,841.5 240.6,841.8 241.4,841.4 242.1,841.3 242.9,841.4 243.6,841.7 244.4,841.2 245.1,840.7 245.9,840.8 246.6,841.0 247.4,840.5 248.1,840.0 248.9,839.9 249.6,839.7 250.4,838.6 251.1,837.7 251.9,837.4 252.6,837.1 253.4,835.6 254.1,834.6 254.9,834.0 255.6,832.8 256.4,831.2 257.1,829.7 257.9,828.9 258.6,827.5 259.4,825.1 260.1,823.2 260.9,822.1 261.6,819.9 262.4,817.7 263.1,815.3 263.9,813.7 264.6,811.6 265.4,808.6 266.1,806.6 266.9,804.9 267.6,802.8 268.4,801.3 269.1,799.6 269.9,799.6 270.6,800.0 271.4,800.4 272.1,801.6 272.9,803.4 273.6,805.7 274.4,807.2 275.1,809.0 275.9,811.8 276.6,814.1 277.4,816.2 278.1,818.6 278.9,821.4 279.6,823.5 280.4,825.4 281.1,827.9 281.9,830.3 282.6,832.2 283.4,834.0 284.1,835.5 284.9,837.5 285.6,839.5 286.4,840.3 287.1,841.6 287.9,843.6 288.6,845.0 289.4,845.3 290.1,846.7 290.9,847.9 291.6,849.0 292.4,849.6 293.1,850.4 293.9,852.1 294.6,853.1 295.4,853.0 296.1,853.8 296.9,854.8 297.6,855.7 298.4,855.9 299.1,856.3 299.9,857.5 300.6,857.7 301.4,858.1 302.1,858.2 302.9,859.3 303.6,859.5 304.4,859.5 305.1,860.2 305.9,860.6 306.6,861.0 307.4,861.0 308.1,861.5 308.9,861.9 309.6,862.1 310.4,862.2 311.1,862.4 311.9,863.1 312.6,863.3 313.4,863.3 314.1,863.2 314.9,864.1 315.6,864.4 316.4,864.4 317.1,864.5 317.9,864.9 318.6,865.2 319.4,865.2 320.1,865.3 320.9,865.8 321.6,866.5 322.4,866.0 323.1,866.1 323.9,866.7 324.6,866.9 325.4,867.2 326.1,867.0 326.9,867.9 327.6,868.3 328.4,868.0 329.1,868.1 329.9,868.6 330.6,869.0 331.4,868.9 332.1,868.8 332.9,869.5 333.6,869.8 334.4,869.7 335.1,870.1 335.9,870.6 336.6,870.6 337.4,870.6 338.1,870.6 338.9,871.2 339.6,871.4 340.4,871.4 341.1,871.7 341.9,872.3 342.6,872.5 343.4,872.1 344.1,872.4 344.9,873.2 345.6,873.3 346.4,873.2 347.1,873.6 347.9,874.0 348.6,874.3 349.4,873.8 350.1,874.3 350.9,874.7 351.6,874.9 352.4,874.7 353.1,875.1 353.9,875.6 354.6,876.1 355.4,875.6 356.1,875.9 356.9,876.4 357.6,876.6 358.4,876.6 359.1,876.7 359.9,877.4 360.6,877.2 361.4,876.9 362.1,876.9 362.9,877.4 363.6,877.0 364.4,876.3 365.1,876.2 365.9,876.5 366.6,875.6 367.4,874.6 368.1,874.3 368.9,873.9 369.6,872.7 370.4,871.3 371.1,870.0 371.9,869.2 372.6,867.3 373.4,865.6 374.1,864.4 374.9,863.0 375.6,861.1 376.4,859.3 377.1,858.1 377.9,857.0 378.6,855.7 379.4,854.6 380.1,854.0 380.9,853.8 381.6,853.8 382.4,853.5 383.1,854.1 383.9,855.6 384.6,856.2 385.4,857.3 386.1,858.6 386.9,860.7 387.6,861.9 388.4,863.4 389.1,865.1 389.9,867.8 390.6,869.5 391.4,870.7 392.1,872.6 392.9,875.0 393.6,876.2 394.4,877.3 395.1,878.8 395.9,880.9 396.6,882.0 397.4,882.6 398.1,883.9 398.9,885.3 399.6,885.9 400.4,885.9 401.1,887.1 401.9,888.2 402.6,888.4 403.4,888.5 404.1,889.2 404.9,889.8 405.6,890.0 406.4,890.2 407.1,890.8 407.9,891.1 408.6,891.4 409.4,891.2 410.1,891.4 410.9,892.1 411.6,892.2 412.4,892.3 413.1,892.4 413.9,893.2 414.6,893.3 415.4,893.2 416.1,893.8 416.9,894.3 417.6,894.0 418.4,894.0 419.1,894.5 419.9,895.0 420.6,895.0 421.4,894.8 422.1,895.1 422.9,895.9 423.6,896.0 424.4,895.8 425.1,896.2 425.9,897.0 426.6,896.6 427.4,896.6 428.1,897.2 428.9,897.7 429.6,897.3 430.4,897.5 431.1,898.1 431.9,898.3 432.6,898.4 433.4,898.6 434.1,898.7 434.9,899.4 435.6,899.4 436.4,899.4 437.1,899.6 437.9,900.4 438.6,900.3 439.4,900.0 440.1,900.6 440.9,901.0 441.6,900.8 442.4,900.9 443.1,901.2 443.9,901.8 444.6,902.1 445.4,902.0 446.1,902.1 446.9,902.7 447.6,902.7 448.4,902.6 449.1,903.0 449.9,903.8 450.6,903.5 451.4,903.5 452.1,903.9 452.9,904.6 453.6,904.3 454.4,904.4 455.1,905.1 455.9,905.2 456.6,905.2 457.4,905.0 458.1,905.9 458.9,906.4 459.6,906.1 460.4,906.3 461.1,906.5 461.9,907.2 462.6,907.2" fill="#89f382" stroke="#3aeb2e"/>
<polyline points="171.2,831.5 172.0,831.6 172.7,832.3 173.5,833.0 174.2,832.8 175.0,832.6 175.7,833.1 176.5,833.7 177.2,833.3 178.0,833.7 178.7,834.4 179.5,834.6 180.2,834.4 181.0,834.5 181.7,835.2 182.5,835.3 183.2,835.3 184.0,835.0 184.7,836.0 185.5,836.2 186.2,836.3 187.0,836.3 187.7,836.8 188.5,837.2 189.2,836.9 190.0,837.1 190.7,837.4 191.5,837.8 192.2,837.6 193.0,838.0 193.7,838.7 194.5,838.9 195.2,838.8 196.0,838.8 196.7,839.2 197.5,839.6 198.2,839.5 199.0,839.8 199.7,840.2 200.5,840.7 201.2,840.3 202.0,840.4 202.7,841.0 203.5,841.4 204.2,841.3 205.0,841.2 205.7,842.2 206.5,842.0 207.2,842.2 208.0,842.2 208.7,843.1 209.5,843.0 210.2,842.7 211.0,843.2 211.7,843.7 212.5,844.2 213.2,843.9 214.0,844.0 214.7,844.7 215.5,845.0 216.2,844.6 217.0,844.7 217.7,845.6 218.5,845.8 219.2,845.3 220.0,845.5 220.7,846.3 221.5,846.4 222.2,846.4 223.0,846.5 223.7,847.1 224.5,847.5 225.2,847.3 226.0,847.2 226.7,848.1 227.5,848.5 228.2,848.0 229.0,848.4 229.7,848.7 230.5,848.8 231.2,848.6 232.0,848.8 232.7,849.3 233.5,849.5 234.2,849.3 235.0,849.6 235.7,850.1 236.5,849.8 237.2,849.8 238.0,849.9 238.7,850.1 239.5,850.0 240.2,850.0 241.0,849.6 241.7,850.0 242.5,849.8 243.2,849.5 244.0,849.3 244.7,849.5 245.5,849.0 246.2,848.2 247.0,847.6 247.7,847.3 248.5,846.7 249.2,845.5 250.0,844.7 250.7,844.3 251.5,843.3 252.2,841.7 253.0,840.7 253.7,840.1 254.5,838.4 255.2,836.6 256.0,835.3 256.7,833.7 257.5,832.3 258.2,830.1 259.0,828.3 259.7,827.5 260.5,825.8 261.2,823.6 262.0,823.0 262.7,822.7 263.5,822.5 264.2,822.4 265.0,823.2 265.7,825.1 266.5,826.4 267.2,827.2 268.0,828.8 268.7,831.2 269.5,832.7 270.2,834.1 271.0,836.3 271.7,838.4 272.5,839.8 273.2,841.5 274.0,843.3 274.7,845.3 275.5,846.9 276.2,847.7 277.0,849.3 277.7,850.7 278.5,851.9 279.2,852.6 280.0,853.9 280.7,855.3 281.5,855.9 282.2,856.7 283.0,857.4 283.7,858.7 284.5,859.6 285.2,859.6 286.0,860.6 286.7,861.9 287.5,862.3 288.2,862.3 289.0,862.9 289.7,864.1 290.5,864.5 291.2,864.2 292.0,864.9 292.7,865.8 293.5,866.1 294.2,865.8 295.0,866.6 295.7,867.2 296.5,867.5 297.2,867.4 298.0,867.8 298.7,868.4 299.5,868.4 300.2,868.2 301.0,868.7 301.7,869.6 302.5,869.6 303.2,869.3 304.0,870.0 304.7,870.4 305.5,870.7 306.2,870.4 307.0,870.9 307.7,871.3 308.5,871.7 309.2,871.3 310.0,871.8 310.7,872.3 311.5,872.4 312.2,872.0 313.0,872.5 313.7,873.2 314.5,873.4 315.2,872.9 316.0,873.4 316.7,874.2 317.5,874.1 318.2,874.2 319.0,874.2 319.7,875.0 320.5,875.2 321.2,875.0 322.0,875.2 322.7,875.9 323.5,875.9 324.2,875.5 325.0,876.0 325.7,876.7 326.5,877.0 327.2,876.5 328.0,877.0 328.7,877.7 329.5,877.8 330.2,877.6 331.0,877.9 331.7,878.5 332.5,878.3 333.2,878.6 334.0,878.8 334.7,879.3 335.5,879.3 336.2,879.3 337.0,879.6 337.7,880.2 338.5,880.1 339.2,880.0 340.0,880.6 340.7,881.1 341.5,881.0 342.2,881.2 343.0,881.3 343.7,882.0 344.5,881.9 345.2,881.7 346.0,882.3 346.7,882.9 347.5,883.0 348.2,882.6 349.0,883.2 349.7,884.0 350.5,883.8 351.2,883.6 352.0,883.9 352.7,884.7 353.5,884.7 354.2,884.2 355.0,884.9 355.7,885.1 356.5,885.0 357.2,884.5 358.0,884.9 358.7,885.2 359.5,884.8 360.2,884.6 361.0,884.8 361.7,884.5 362.5,884.0 363.2,883.0 364.0,882.9 364.7,882.3 365.5,881.6 366.2,880.3 367.0,879.7 367.7,879.1 368.5,877.6 369.2,876.2 370.0,875.5 370.7,874.6 371.5,873.3 372.2,871.8 373.0,871.2 373.7,870.8 374.5,870.3 375.2,869.4 376.0,869.2 376.7,869.6 377.5,869.7 378.2,869.9 379.0,871.0 379.7,872.0 380.5,872.2 381.2,873.3 382.0,874.9 382.7,876.3 383.5,877.4 384.2,878.2 385.0,880.0 385.7,881.7 386.5,882.8 387.2,883.9 388.0,885.6 388.7,886.8 389.5,887.9 390.2,888.7 391.0,890.3 391.7,891.2 392.5,891.9 393.2,892.6 394.0,893.6 394.7,894.6 395.5,894.6 396.2,894.9 397.0,895.8 397.7,896.7 398.5,896.5 399.2,896.9 400.0,897.4 400.7,898.0 401.5,898.0 402.2,898.2 403.0,898.9 403.7,899.5 404.5,899.1 405.2,899.0 406.0,900.0 406.7,900.3 407.5,900.4 408.2,900.2 409.0,900.5 409.7,901.1 410.5,900.9 411.2,901.0 412.0,901.5 412.7,902.2 413.5,902.1 414.2,901.7 415.0,902.7 415.7,903.2 416.5,902.7 417.2,903.0 418.0,903.6 418.7,903.9 419.5,903.6 420.2,903.7 421.0,904.4 421.7,904.6 422.5,904.5 423.2,904.3 424.0,904.9 424.7,905.7 425.5,905.3 426.2,905.5 427.0,905.9 427.7,906.5 428.5,906.1 429.2,906.0 430.0,906.9 430.7,907.1 431.5,906.9 432.2,907.1 433.0,907.7 433.7,908.3 434.5,908.0 435.2,908.0 436.0,908.6 436.7,909.0 437.5,908.6 438.2,908.8 439.0,909.5 439.7,910.1 440.5,909.7 441.2,909.6 442.0,910.6 442.7,910.9 443.5,910.4 444.2,910.5 445.0,911.0 445.7,911.7 446.5,911.3 447.2,911.6 448.0,912.2 448.7,912.6 449.5,912.3 450.2,912.2 451.0,912.7 451.7,913.4 452.5,912.9 453.2,913.2 454.0,914.0 454.7,914.0" fill="#a5f681" stroke="#69f02d"/>
<polyline points="163.4,838.9 164.1,838.5 164.9,838.8 165.6,839.7 166.4,839.5 167.1,839.3 167.9,839.7 168.6,840.7 169.4,840.8 170.1,840.2 170.9,840.8 171.6,841.3 172.4,841.2 173.1,841.1 173.9,841.7 174.6,842.0 175.4,842.5 176.1,842.0 176.9,842.4 177.6,843.3 178.4,843.0 179.1,842.8 179.9,843.3 180.6,843.9 181.4,843.9 182.1,843.9 182.9,844.4 183.6,844.8 184.4,844.7 185.1,844.6 185.9,845.3 186.6,845.7 187.4,845.5 188.1,845.5 188.9,845.8 189.6,846.5 190.4,846.5 191.1,846.5 191.9,846.9 192.6,847.2 193.4,847.3 194.1,847.5 194.9,847.9 195.6,848.5 196.4,848.2 197.1,848.3 197.9,848.4 198.6,849.3 199.4,849.1 200.1,849.2 200.9,849.6 201.6,850.0 202.4,850.2 203.1,850.1 203.9,850.5 204.6,851.0 205.4,851.0 206.1,850.7 206.9,851.3 207.6,851.6 208.4,851.8 209.1,851.4 209.9,851.9 210.6,852.7 211.4,852.6 212.1,852.4 212.9,853.2 213.6,853.4 214.4,853.5 215.1,853.4 215.9,853.7 216.6,854.6 217.4,854.5 218.1,854.4 218.9,854.6 219.6,855.5 220.4,855.5 221.1,855.3 221.9,855.4 222.6,856.0 223.4,855.9 224.1,855.8 224.9,856.5 225.6,856.7 226.4,856.9 227.1,856.7 227.9,857.4 228.6,857.6 229.4,857.8 230.1,857.8 230.9,857.9 231.6,858.5 232.4,858.5 233.1,858.1 233.9,858.8 234.6,859.3 235.4,858.8 236.1,858.6 236.9,858.8 237.6,859.3 238.4,858.9 239.1,858.8 239.9,858.8 240.6,859.1 241.4,858.5 242.1,857.9 242.9,857.6 243.6,857.6 244.4,856.4 245.1,855.6 245.9,855.4 246.6,854.9 247.4,853.3 248.1,852.1 248.9,851.2 249.6,850.4 250.4,848.9 251.1,847.1 251.9,846.3 252.6,845.1 253.4,843.7 254.1,842.2 254.9,841.7 255.6,841.2 256.4,840.7 257.1,840.7 257.9,841.3 258.6,842.3 259.4,843.4 260.1,844.1 260.9,845.6 261.6,847.2 262.4,847.9 263.1,849.3 263.9,850.8 264.6,852.6 265.4,853.5 266.1,854.7 266.9,855.9 267.6,857.5 268.4,858.5 269.1,859.4 269.9,860.7 270.6,861.8 271.4,862.8 272.1,863.0 272.9,864.5 273.6,865.2 274.4,865.9 275.1,866.3 275.9,867.1 276.6,868.0 277.4,868.2 278.1,868.7 278.9,869.4 279.6,870.3 280.4,870.4 281.1,870.5 281.9,871.5 282.6,871.9 283.4,872.3 284.1,872.2 284.9,872.8 285.6,873.6 286.4,873.6 287.1,873.4 287.9,874.2 288.6,874.6 289.4,874.8 290.1,874.5 290.9,875.0 291.6,875.5 292.4,875.6 293.1,875.7 293.9,876.1 294.6,876.6 295.4,876.5 296.1,876.5 296.9,877.0 297.6,877.6 298.4,877.6 299.1,877.3 299.9,878.3 300.6,878.4 301.4,878.4 302.1,878.3 302.9,879.1 303.6,879.4 304.4,879.3 305.1,879.3 305.9,879.9 306.6,880.1 307.4,880.4 308.1,880.2 308.9,880.7 309.6,881.4 310.4,881.0 311.1,881.2 311.9,881.7 312.6,881.9 313.4,882.0 314.1,881.9 314.9,882.4 315.6,883.2 316.4,883.0 317.1,882.9 317.9,883.6 318.6,884.0 319.4,883.6 320.1,883.6 320.9,884.4 321.6,884.6 322.4,884.7 323.1,884.7 323.9,885.1 324.6,885.8 325.4,885.7 326.1,885.5 326.9,886.3 327.6,886.5 328.4,886.1 329.1,886.4 329.9,886.9 330.6,887.6 331.4,887.2 332.1,887.5 332.9,887.7 333.6,888.2 334.4,887.8 335.1,887.9 335.9,888.8 336.6,888.9 337.4,888.8 338.1,889.0 338.9,889.8 339.6,889.8 340.4,889.5 341.1,890.0 341.9,890.6 342.6,890.6 343.4,890.8 344.1,890.9 344.9,891.6 345.6,891.8 346.4,891.5 347.1,891.6 347.9,891.9 348.6,892.5 349.4,892.1 350.1,892.1 350.9,892.6 351.6,892.7 352.4,892.8 353.1,892.7 353.9,892.7 354.6,893.0 355.4,892.3 356.1,892.3 356.9,892.4 357.6,892.6 358.4,891.5 359.1,891.2 359.9,891.0 360.6,890.9 361.4,889.5 362.1,889.0 362.9,888.7 363.6,888.4 364.4,887.2 365.1,886.7 365.9,886.2 366.6,885.7 367.4,885.0 368.1,884.3 368.9,884.5 369.6,884.6 370.4,884.2 371.1,884.1 371.9,884.8 372.6,885.4 373.4,885.4 374.1,885.9 374.9,887.1 375.6,887.7 376.4,888.0 377.1,888.9 377.9,890.6 378.6,891.6 379.4,891.8 380.1,892.9 380.9,894.3 381.6,895.6 382.4,895.8 383.1,896.8 383.9,897.8 384.6,898.6 385.4,899.1 386.1,899.9 386.9,900.9 387.6,901.8 388.4,901.9 389.1,902.3 389.9,903.4 390.6,903.9 391.4,903.8 392.1,903.8 392.9,904.7 393.6,904.9 394.4,905.1 395.1,905.3 395.9,905.8 396.6,906.0 397.4,906.1 398.1,906.4 398.9,907.0 399.6,907.2 400.4,907.1 401.1,907.4 401.9,908.0 402.6,908.1 403.4,907.8 404.1,908.4 404.9,908.6 405.6,908.9 406.4,908.7 407.1,909.1 407.9,909.8 408.6,909.7 409.4,909.7 410.1,910.0 410.9,910.7 411.6,910.5 412.4,910.7 413.1,910.7 413.9,911.4 414.6,911.4 415.4,911.6 416.1,911.7 416.9,912.5 417.6,912.5 418.4,912.1 419.1,912.5 419.9,913.0 420.6,913.1 421.4,913.3 422.1,913.2 422.9,914.0 423.6,914.0 424.4,914.1 425.1,914.5 425.9,914.7 426.6,915.0 427.4,915.1 428.1,915.0 428.9,915.7 429.6,916.2 430.4,915.9 431.1,916.0 431.9,916.8 432.6,916.9 433.4,916.5 434.1,916.7 434.9,917.5 435.6,917.8 436.4,917.7 437.1,917.8 437.9,918.4 438.6,918.5 439.4,918.4 440.1,918.4 440.9,919.5 441.6,919.6 442.4,919.0 443.1,919.3 443.9,920.1 444.6,920.1 445.4,920.2 446.1,920.6 446.9,921.0" fill="#c0f581" stroke="#96ee2d"/>
<polyline points="155.5,845.2 156.2,845.8 157.0,846.1 157.7,845.9 158.5,846.1 159.2,847.1 160.0,847.1 160.7,846.7 161.5,847.0 162.2,847.6 163.0,847.8 163.7,847.7 164.5,848.1 165.2,848.8 166.0,848.5 166.7,848.4 167.5,848.8 168.2,849.7 169.0,849.6 169.7,849.5 170.5,849.9 171.2,850.3 172.0,850.4 172.7,850.4 173.5,850.7 174.2,851.5 175.0,851.2 175.7,851.4 176.5,851.5 177.2,852.3 178.0,852.3 178.7,852.0 179.5,852.5 180.2,852.8 181.0,852.9 181.7,852.9 182.5,853.4 183.2,853.7 184.0,854.1 184.7,853.5 185.5,854.0 186.2,854.7 187.0,854.9 187.7,854.6 188.5,855.1 189.2,855.7 190.0,855.6 190.7,855.5 191.5,855.8 192.2,856.6 193.0,856.4 193.7,856.2 194.5,856.6 195.2,857.2 196.0,857.5 196.7,857.3 197.5,857.5 198.2,858.1 199.0,858.4 199.7,858.3 200.5,858.3 201.2,859.3 202.0,858.9 202.7,859.2 203.5,859.2 204.2,860.2 205.0,859.7 205.7,859.9 206.5,860.4 207.2,861.0 208.0,860.9 208.7,860.5 209.5,860.9 210.2,861.9 211.0,861.9 211.7,861.4 212.5,861.9 213.2,862.6 214.0,862.5 214.7,862.3 215.5,863.0 216.2,863.2 217.0,863.5 217.7,863.2 218.5,863.7 219.2,864.5 220.0,864.4 220.7,864.3 221.5,864.3 222.2,865.3 223.0,865.3 223.7,864.7 224.5,865.3 225.2,866.1 226.0,866.1 226.7,865.8 227.5,866.4 228.2,866.5 229.0,866.6 229.7,866.7 230.5,867.0 231.2,867.3 232.0,867.3 232.7,867.0 233.5,867.4 234.2,867.6 235.0,867.4 235.7,867.2 236.5,867.3 237.2,867.3 238.0,867.0 238.7,866.1 239.5,866.0 240.2,865.7 241.0,865.0 241.7,864.0 242.5,863.3 243.2,862.9 244.0,861.7 244.7,860.4 245.5,859.6 246.2,859.1 247.0,857.7 247.7,856.1 248.5,855.4 249.2,855.0 250.0,854.8 250.7,854.3 251.5,854.9 252.2,855.8 253.0,856.0 253.7,856.3 254.5,857.5 255.2,858.9 256.0,859.8 256.7,860.2 257.5,861.8 258.2,863.0 259.0,863.9 259.7,864.8 260.5,866.2 261.2,867.7 262.0,868.1 262.7,868.7 263.5,869.8 264.2,871.0 265.0,871.4 265.7,871.8 266.5,872.8 267.2,874.0 268.0,874.3 268.7,874.8 269.5,875.5 270.2,876.1 271.0,876.3 271.7,876.8 272.5,877.7 273.2,878.3 274.0,878.2 274.7,878.3 275.5,879.1 276.2,879.7 277.0,879.6 277.7,879.6 278.5,880.2 279.2,881.2 280.0,881.2 280.7,881.2 281.5,881.5 282.2,882.2 283.0,881.9 283.7,881.8 284.5,882.3 285.2,883.0 286.0,883.1 286.7,883.0 287.5,883.4 288.2,884.0 289.0,884.0 289.7,883.8 290.5,884.4 291.2,885.2 292.0,884.8 292.7,885.1 293.5,885.5 294.2,885.7 295.0,886.0 295.7,885.8 296.5,886.3 297.2,886.6 298.0,886.7 298.7,886.5 299.5,887.2 300.2,887.5 301.0,887.5 301.7,887.7 302.5,888.1 303.2,888.5 304.0,888.5 304.7,888.5 305.5,889.0 306.2,889.3 307.0,889.1 307.7,889.3 308.5,890.1 309.2,890.5 310.0,890.1 310.7,890.0 311.5,890.8 312.2,890.9 313.0,891.0 313.7,891.2 314.5,891.8 315.2,891.8 316.0,891.7 316.7,891.9 317.5,892.5 318.2,893.1 319.0,892.6 319.7,892.6 320.5,893.4 321.2,893.9 322.0,893.4 322.7,893.6 323.5,894.4 324.2,894.6 325.0,894.3 325.7,894.3 326.5,895.3 327.2,895.5 328.0,895.4 328.7,895.5 329.5,896.1 330.2,896.3 331.0,896.2 331.7,896.5 332.5,896.7 333.2,897.4 334.0,897.1 334.7,897.2 335.5,897.6 336.2,898.3 337.0,897.8 337.7,897.9 338.5,898.4 339.2,899.2 340.0,898.9 340.7,898.6 341.5,899.2 342.2,899.6 343.0,899.3 343.7,899.5 344.5,900.3 345.2,900.5 346.0,900.1 346.7,900.3 347.5,900.4 348.2,900.6 349.0,900.1 349.7,900.1 350.5,900.4 351.2,900.2 352.0,899.8 352.7,899.7 353.5,899.9 354.2,899.6 355.0,899.0 355.7,898.4 356.5,898.4 357.2,898.3 358.0,897.3 358.7,897.1 359.5,897.1 360.2,896.9 361.0,896.4 361.7,896.0 362.5,896.6 363.2,896.4 364.0,896.3 364.7,896.2 365.5,897.2 366.2,897.4 367.0,897.8 367.7,897.8 368.5,899.1 369.2,899.5 370.0,900.1 370.7,900.4 371.5,901.4 372.2,902.4 373.0,902.5 373.7,903.4 374.5,904.4 375.2,905.1 376.0,905.5 376.7,905.9 377.5,906.9 378.2,907.5 379.0,907.7 379.7,908.2 380.5,909.1 381.2,909.7 382.0,909.8 382.7,910.2 383.5,911.0 384.2,911.4 385.0,911.3 385.7,911.5 386.5,912.4 387.2,912.4 388.0,912.3 388.7,912.4 389.5,913.5 390.2,913.8 391.0,913.4 391.7,913.8 392.5,914.3 393.2,914.8 394.0,914.6 394.7,914.5 395.5,915.1 396.2,915.4 397.0,915.5 397.7,915.4 398.5,916.0 399.2,916.1 400.0,916.1 400.7,916.5 401.5,916.9 402.2,917.3 403.0,917.2 403.7,917.4 404.5,917.9 405.2,918.0 406.0,917.7 406.7,918.3 407.5,918.9 408.2,919.0 409.0,918.5 409.7,919.0 410.5,919.7 411.2,919.6 412.0,919.5 412.7,919.8 413.5,920.3 414.2,920.4 415.0,920.3 415.7,920.7 416.5,921.1 417.2,921.7 418.0,921.3 418.7,921.4 419.5,922.1 420.2,922.3 421.0,922.2 421.7,922.5 422.5,923.0 423.2,923.3 424.0,923.1 424.7,923.4 425.5,924.0 426.2,924.2 427.0,923.7 427.7,924.1 428.5,924.6 429.2,925.1 430.0,924.6 430.7,925.2 431.5,925.6 432.2,925.7 433.0,925.7 433.7,925.8 434.5,926.5 435.2,926.7 436.0,926.6 436.7,926.8 437.5,927.5 438.2,927.7 439.0,927.6" fill="#d7eb7e" stroke="#bcde28"/>
<polyline points="147.6,852.2 148.4,852.3 149.1,852.9 149.9,853.4 150.6,853.1 151.4,853.3 152.1,854.0 152.9,854.2 153.6,854.1 154.4,854.1 155.1,854.8 155.9,855.2 156.6,854.8 157.4,855.1 158.1,855.5 158.9,855.7 159.6,855.8 160.4,855.9 161.1,856.7 161.9,856.8 162.6,856.4 163.4,856.5 164.1,857.5 164.9,857.5 165.6,857.2 166.4,857.6 167.1,858.3 167.9,858.5 168.6,858.0 169.4,858.6 170.1,859.2 170.9,859.2 171.6,859.3 172.4,859.3 173.1,860.1 173.9,860.0 174.6,859.9 175.4,860.3 176.1,860.9 176.9,861.2 177.6,861.0 178.4,860.8 179.1,861.9 179.9,861.7 180.6,861.6 181.4,861.8 182.1,862.6 182.9,862.6 183.6,862.5 184.4,862.6 185.1,863.4 185.9,863.6 186.6,863.3 187.4,863.8 188.1,864.1 188.9,864.4 189.6,864.5 190.4,864.5 191.1,865.4 191.9,865.3 192.6,865.2 193.4,865.4 194.1,866.0 194.9,866.5 195.6,866.0 196.4,866.4 197.1,866.9 197.9,867.0 198.6,867.1 199.4,867.4 200.1,867.6 200.9,868.0 201.6,867.9 202.4,868.0 203.1,868.6 203.9,869.0 204.6,868.5 205.4,868.9 206.1,869.4 206.9,869.9 207.6,869.6 208.4,869.7 209.1,870.6 209.9,870.6 210.6,870.4 211.4,870.5 212.1,871.4 212.9,871.5 213.6,871.5 214.4,871.4 215.1,872.1 215.9,872.4 216.6,872.0 217.4,872.5 218.1,873.2 218.9,873.0 219.6,873.1 220.4,873.1 221.1,873.8 221.9,873.9 222.6,873.9 223.4,874.1 224.1,874.6 224.9,874.8 225.6,874.7 226.4,874.6 227.1,875.5 227.9,875.3 228.6,875.1 229.4,875.4 230.1,875.5 230.9,875.6 231.6,875.2 232.4,874.9 233.1,875.4 233.9,875.2 234.6,874.5 235.4,874.3 236.1,874.5 236.9,873.6 237.6,872.9 238.4,872.2 239.1,871.9 239.9,871.3 240.6,870.0 241.4,869.5 242.1,869.1 242.9,868.5 243.6,867.4 244.4,867.7 245.1,867.6 245.9,867.7 246.6,867.7 247.4,868.4 248.1,869.1 248.9,870.0 249.6,870.1 250.4,870.9 251.1,872.3 251.9,873.0 252.6,873.4 253.4,874.6 254.1,875.6 254.9,876.5 255.6,877.0 256.4,877.9 257.1,878.6 257.9,879.3 258.6,879.7 259.4,880.4 260.1,881.3 260.9,881.9 261.6,881.8 262.4,882.5 263.1,883.5 263.9,884.1 264.6,883.9 265.4,884.8 266.1,885.4 266.9,885.6 267.6,885.8 268.4,886.2 269.1,887.0 269.9,887.0 270.6,887.1 271.4,887.6 272.1,887.8 272.9,888.4 273.6,887.8 274.4,888.6 275.1,889.0 275.9,889.4 276.6,889.1 277.4,889.4 278.1,890.4 278.9,890.1 279.6,890.3 280.4,890.5 281.1,891.2 281.9,891.1 282.6,891.1 283.4,891.4 284.1,892.1 284.9,891.9 285.6,891.8 286.4,892.2 287.1,892.8 287.9,892.8 288.6,892.9 289.4,893.1 290.1,893.7 290.9,894.1 291.6,893.8 292.4,893.9 293.1,894.9 293.9,894.8 294.6,894.6 295.4,895.3 296.1,895.6 296.9,895.4 297.6,895.2 298.4,895.7 299.1,896.5 299.9,896.5 300.6,896.5 301.4,896.6 302.1,897.1 302.9,897.1 303.6,897.1 304.4,897.9 305.1,898.4 305.9,898.0 306.6,898.1 307.4,898.4 308.1,899.0 308.9,899.0 309.6,898.8 310.4,899.3 311.1,899.8 311.9,899.8 312.6,899.9 313.4,900.4 314.1,901.0 314.9,900.7 315.6,900.5 316.4,901.2 317.1,901.6 317.9,901.5 318.6,901.5 319.4,902.3 320.1,902.7 320.9,902.6 321.6,902.2 322.4,903.0 323.1,903.6 323.9,903.6 324.6,903.4 325.4,903.6 326.1,904.6 326.9,904.0 327.6,904.3 328.4,904.7 329.1,905.4 329.9,905.3 330.6,905.2 331.4,905.3 332.1,906.1 332.9,905.8 333.6,905.8 334.4,906.2 335.1,906.8 335.9,906.5 336.6,906.6 337.4,906.9 338.1,907.4 338.9,907.5 339.6,907.1 340.4,907.7 341.1,908.2 341.9,907.8 342.6,907.6 343.4,908.0 344.1,907.9 344.9,907.5 345.6,907.6 346.4,907.8 347.1,907.6 347.9,907.4 348.6,906.6 349.4,906.8 350.1,907.2 350.9,906.4 351.6,906.3 352.4,906.2 353.1,906.7 353.9,906.0 354.6,905.9 355.4,906.3 356.1,906.7 356.9,906.6 357.6,906.2 358.4,907.2 359.1,907.8 359.9,907.7 360.6,907.7 361.4,908.8 362.1,909.3 362.9,909.4 363.6,910.0 364.4,910.9 365.1,911.7 365.9,911.7 366.6,911.8 367.4,912.7 368.1,913.7 368.9,913.6 369.6,914.2 370.4,914.8 371.1,915.8 371.9,915.5 372.6,916.1 373.4,916.6 374.1,917.6 374.9,917.3 375.6,917.5 376.4,918.4 377.1,918.6 377.9,918.8 378.6,918.6 379.4,919.1 380.1,919.7 380.9,919.6 381.6,919.8 382.4,920.1 383.1,921.0 383.9,920.8 384.6,920.8 385.4,921.5 386.1,921.5 386.9,921.6 387.6,921.7 388.4,922.0 389.1,922.5 389.9,922.2 390.6,922.7 391.4,923.0 392.1,923.6 392.9,923.1 393.6,923.4 394.4,924.0 395.1,924.2 395.9,924.0 396.6,924.0 397.4,924.9 398.1,925.1 398.9,924.8 399.6,925.0 400.4,925.6 401.1,925.8 401.9,925.9 402.6,925.8 403.4,926.4 404.1,926.8 404.9,927.0 405.6,926.9 406.4,927.3 407.1,927.9 407.9,927.8 408.6,927.6 409.4,928.4 410.1,928.7 410.9,928.5 411.6,928.7 412.4,929.2 413.1,929.6 413.9,929.5 414.6,929.4 415.4,929.8 416.1,930.1 416.9,930.3 417.6,930.3 418.4,931.1 419.1,931.5 419.9,930.9 420.6,931.0 421.4,931.8 422.1,931.9 422.9,931.7 423.6,931.8 424.4,932.5 425.1,932.9 425.9,932.5 426.6,932.8 427.4,933.1 428.1,932.7 428.9,931.5 429.6,931.3 430.4,932.3 431.1,933.3" fill="#e9dc7e" stroke="#dac428"/>
<polyline points="139.7,859.5 140.5,859.5 141.2,859.2 142.0,859.9 142.7,860.1 143.5,860.2 144.2,860.0 145.0,860.8 145.7,861.1 146.5,860.9 147.2,861.3 148.0,861.6 148.7,862.3 149.5,862.0 150.2,862.0 151.0,862.6 151.7,863.0 152.5,862.9 153.2,862.7 154.0,863.5 154.7,863.7 155.5,863.5 156.2,863.6 157.0,864.5 157.7,864.9 158.5,864.5 159.2,864.4 160.0,865.0 160.7,865.5 161.5,865.3 162.2,865.7 163.0,866.1 163.7,866.4 164.5,866.3 165.2,866.2 166.0,866.9 166.7,867.3 167.5,866.9 168.2,867.1 169.0,867.9 169.7,868.2 170.5,867.9 171.2,867.9 172.0,868.7 172.7,868.9 173.5,868.6 174.2,869.2 175.0,869.7 175.7,870.1 176.5,869.6 177.2,870.0 178.0,870.6 178.7,870.8 179.5,870.3 180.2,870.6 181.0,871.3 181.7,871.6 182.5,871.5 183.2,871.4 184.0,872.1 184.7,872.3 185.5,872.2 186.2,872.2 187.0,872.9 187.7,873.1 188.5,873.3 189.2,873.2 190.0,873.9 190.7,874.3 191.5,873.8 192.2,874.2 193.0,875.0 193.7,875.0 194.5,875.0 195.2,875.2 196.0,875.7 196.7,875.9 197.5,875.8 198.2,876.0 199.0,876.5 199.7,876.9 200.5,876.7 201.2,876.9 202.0,877.4 202.7,877.5 203.5,877.3 204.2,877.6 205.0,878.3 205.7,878.3 206.5,878.2 207.2,878.4 208.0,879.2 208.7,879.3 209.5,879.4 210.2,879.2 211.0,880.0 211.7,880.4 212.5,880.2 213.2,880.2 214.0,881.1 214.7,881.3 215.5,880.9 216.2,881.0 217.0,881.6 217.7,882.0 218.5,881.5 219.2,882.0 220.0,882.4 220.7,882.5 221.5,882.5 222.2,882.5 223.0,882.9 223.7,883.1 224.5,883.1 225.2,883.0 226.0,883.7 226.7,883.6 227.5,882.8 228.2,882.9 229.0,883.4 229.7,883.0 230.5,882.3 231.2,882.5 232.0,882.3 232.7,882.1 233.5,881.1 234.2,881.0 235.0,880.5 235.7,879.9 236.5,879.3 237.2,879.0 238.0,879.1 238.7,878.5 239.5,878.0 240.2,878.3 241.0,878.9 241.7,879.2 242.5,879.2 243.2,879.8 244.0,881.0 244.7,881.4 245.5,881.6 246.2,882.3 247.0,883.7 247.7,884.3 248.5,884.4 249.2,885.4 250.0,886.1 250.7,886.9 251.5,887.3 252.2,887.6 253.0,888.6 253.7,889.2 254.5,889.2 255.2,889.7 256.0,890.9 256.7,891.3 257.5,891.2 258.2,891.6 259.0,892.5 259.7,892.7 260.5,892.7 261.2,893.0 262.0,894.0 262.7,894.1 263.5,893.9 264.2,894.5 265.0,895.3 265.7,895.3 266.5,895.1 267.2,895.6 268.0,896.3 268.7,896.2 269.5,896.4 270.2,896.5 271.0,897.2 271.7,897.4 272.5,897.3 273.2,897.4 274.0,898.0 274.7,898.3 275.5,897.9 276.2,898.4 277.0,898.9 277.7,899.0 278.5,898.9 279.2,899.6 280.0,900.1 280.7,900.0 281.5,900.0 282.2,900.3 283.0,900.6 283.7,900.9 284.5,900.9 285.2,901.3 286.0,902.0 286.7,901.6 287.5,901.7 288.2,902.0 289.0,902.6 289.7,902.9 290.5,902.5 291.2,902.9 292.0,903.7 292.7,903.8 293.5,903.5 294.2,903.8 295.0,904.2 295.7,904.4 296.5,904.1 297.2,904.8 298.0,905.4 298.7,905.1 299.5,905.2 300.2,905.7 301.0,906.3 301.7,906.1 302.5,906.0 303.2,906.5 304.0,907.0 304.7,907.3 305.5,907.1 306.2,907.5 307.0,908.2 307.7,907.7 308.5,908.0 309.2,908.1 310.0,908.7 310.7,908.8 311.5,908.6 312.2,908.9 313.0,909.9 313.7,909.5 314.5,909.3 315.2,909.9 316.0,910.7 316.7,910.7 317.5,910.4 318.2,910.8 319.0,911.2 319.7,911.5 320.5,911.4 321.2,911.5 322.0,912.3 322.7,912.4 323.5,912.0 324.2,912.4 325.0,913.2 325.7,913.2 326.5,912.9 327.2,913.2 328.0,913.9 328.7,914.0 329.5,913.6 330.2,914.2 331.0,914.9 331.7,914.6 332.5,914.3 333.2,915.0 334.0,915.5 334.7,915.3 335.5,915.2 336.2,915.3 337.0,915.8 337.7,915.6 338.5,915.5 339.2,915.5 340.0,915.8 340.7,915.6 341.5,915.5 342.2,915.6 343.0,915.6 343.7,915.6 344.5,915.3 345.2,915.3 346.0,915.8 346.7,915.4 347.5,915.1 348.2,915.2 349.0,915.5 349.7,915.8 350.5,915.4 351.2,916.1 352.0,916.7 352.7,916.7 353.5,916.6 354.2,917.3 355.0,918.0 355.7,918.2 356.5,918.3 357.2,919.0 358.0,919.4 358.7,919.9 359.5,919.6 360.2,920.4 361.0,921.5 361.7,921.5 362.5,921.8 363.2,922.3 364.0,922.8 364.7,923.0 365.5,923.4 366.2,924.0 367.0,924.5 367.7,924.6 368.5,924.4 369.2,925.4 370.0,925.7 370.7,925.6 371.5,925.8 372.2,926.3 373.0,926.9 373.7,926.9 374.5,926.6 375.2,927.5 376.0,927.8 376.7,927.7 377.5,927.9 378.2,928.4 379.0,928.9 379.7,928.8 380.5,928.6 381.2,929.1 382.0,929.7 382.7,929.7 383.5,929.3 384.2,930.1 385.0,930.5 385.7,930.6 386.5,930.5 387.2,931.1 388.0,931.3 388.7,931.2 389.5,931.1 390.2,931.6 391.0,932.1 391.7,931.8 392.5,931.9 393.2,932.4 394.0,932.8 394.7,932.6 395.5,932.5 396.2,932.7 397.0,933.0 397.7,932.6 398.5,932.3 399.2,932.7 400.0,933.0 400.7,932.7 401.5,932.8 402.2,933.3 403.0,933.9 403.7,933.9 404.5,934.2 405.2,934.8 406.0,935.6 406.7,935.3 407.5,935.7 408.2,936.4 409.0,936.9 409.7,936.9 410.5,936.9 411.2,938.0 412.0,938.0 412.7,938.2 413.5,938.1 414.2,938.7 415.0,939.1 415.7,939.2 416.5,939.0 417.2,939.7 418.0,940.0 418.7,940.0 419.5,939.9 420.2,940.5 421.0,940.7 421.7,940.5 422.5,940.9 423.2,941.1" fill="#f6c67e" stroke="#f0a028"/>
<polyline points="131.9,866.0 132.6,866.1 133.4,866.4 134.1,866.8 134.9,866.8 135.6,866.8 136.4,867.4 137.1,868.0 137.9,868.0 138.6,867.9 139.4,868.3 140.1,868.5 140.9,868.7 141.6,868.5 142.4,869.2 143.1,869.5 143.9,869.5 144.6,869.3 145.4,870.1 146.1,870.7 146.9,870.3 147.6,870.3 148.4,870.9 149.1,871.5 149.9,871.2 150.6,871.1 151.4,871.8 152.1,872.1 152.9,872.1 153.6,872.1 154.4,872.6 155.1,873.3 155.9,872.9 156.6,872.8 157.4,873.4 158.1,874.2 158.9,874.0 159.6,873.6 160.4,874.2 161.1,874.7 161.9,874.8 162.6,874.8 163.4,875.1 164.1,875.8 164.9,875.7 165.6,875.7 166.4,876.0 167.1,876.7 167.9,876.3 168.6,876.6 169.4,876.8 170.1,877.4 170.9,877.2 171.6,877.4 172.4,878.0 173.1,878.3 173.9,878.2 174.6,878.0 175.4,878.8 176.1,878.9 176.9,879.1 177.6,879.2 178.4,879.6 179.1,880.0 179.9,879.9 180.6,879.8 181.4,880.7 182.1,880.8 182.9,880.7 183.6,880.8 184.4,881.5 185.1,881.7 185.9,881.4 186.6,881.7 187.4,882.0 188.1,882.8 188.9,882.2 189.6,882.7 190.4,883.2 191.1,883.5 191.9,883.5 192.6,883.5 193.4,884.0 194.1,884.2 194.9,884.0 195.6,884.0 196.4,884.6 197.1,885.3 197.9,885.2 198.6,885.3 199.4,885.6 200.1,886.0 200.9,886.1 201.6,886.1 202.4,886.8 203.1,886.7 203.9,887.0 204.6,886.8 205.4,887.6 206.1,887.7 206.9,887.7 207.6,887.8 208.4,888.4 209.1,888.8 209.9,888.3 210.6,888.7 211.4,888.9 212.1,889.7 212.9,889.3 213.6,889.4 214.4,889.8 215.1,890.4 215.9,890.1 216.6,889.9 217.4,890.8 218.1,890.8 218.9,890.7 219.6,890.4 220.4,890.9 221.1,891.0 221.9,890.5 222.6,890.5 223.4,890.8 224.1,891.1 224.9,890.6 225.6,890.1 226.4,890.8 227.1,890.6 227.9,890.0 228.6,889.6 229.4,889.9 230.1,890.2 230.9,889.5 231.6,889.4 232.4,890.1 233.1,890.2 233.9,890.3 234.6,890.2 235.4,891.3 236.1,891.5 236.9,891.6 237.6,891.8 238.4,893.1 239.1,893.7 239.9,893.7 240.6,893.9 241.4,894.6 242.1,895.4 242.9,895.6 243.6,895.9 244.4,896.4 245.1,897.3 245.9,897.3 246.6,897.4 247.4,897.9 248.1,898.7 248.9,898.6 249.6,898.5 250.4,899.5 251.1,899.7 251.9,899.6 252.6,900.2 253.4,900.9 254.1,901.0 254.9,900.8 255.6,901.1 256.4,901.8 257.1,902.2 257.9,901.9 258.6,902.5 259.4,902.7 260.1,903.1 260.9,903.1 261.6,903.2 262.4,903.7 263.1,904.1 263.9,903.8 264.6,904.3 265.4,904.7 266.1,905.1 266.9,904.9 267.6,905.0 268.4,905.5 269.1,906.0 269.9,905.5 270.6,905.8 271.4,906.8 272.1,906.7 272.9,906.9 273.6,906.7 274.4,907.2 275.1,907.5 275.9,907.7 276.6,907.9 277.4,908.2 278.1,908.5 278.9,908.3 279.6,908.7 280.4,909.1 281.1,909.4 281.9,909.3 282.6,909.4 283.4,909.9 284.1,910.4 284.9,910.2 285.6,910.1 286.4,911.0 287.1,911.4 287.9,911.0 288.6,911.3 289.4,912.1 290.1,911.9 290.9,911.8 291.6,911.9 292.4,912.9 293.1,913.0 293.9,912.9 294.6,913.1 295.4,913.5 296.1,913.9 296.9,913.5 297.6,913.9 298.4,914.6 299.1,914.8 299.9,914.3 300.6,914.8 301.4,915.4 302.1,915.6 302.9,915.1 303.6,915.6 304.4,916.0 305.1,916.5 305.9,916.3 306.6,916.4 307.4,917.1 308.1,917.3 308.9,917.1 309.6,917.6 310.4,918.1 311.1,918.2 311.9,917.8 312.6,918.0 313.4,918.9 314.1,918.8 314.9,918.9 315.6,919.2 316.4,919.9 317.1,919.6 317.9,919.6 318.6,919.9 319.4,920.5 320.1,920.6 320.9,920.7 321.6,920.8 322.4,921.5 323.1,921.4 323.9,921.4 324.6,921.8 325.4,922.1 326.1,922.3 326.9,922.1 327.6,922.6 328.4,922.9 329.1,923.5 329.9,923.0 330.6,923.5 331.4,923.7 332.1,924.1 332.9,923.9 333.6,924.0 334.4,924.5 335.1,924.7 335.9,924.2 336.6,924.5 337.4,925.3 338.1,925.2 338.9,924.8 339.6,925.0 340.4,925.7 341.1,925.6 341.9,925.1 342.6,925.4 343.4,925.9 344.1,925.7 344.9,925.6 345.6,925.8 346.4,926.6 347.1,926.5 347.9,926.2 348.6,926.6 349.4,927.2 350.1,927.3 350.9,927.5 351.6,927.7 352.4,928.4 353.1,928.4 353.9,928.7 354.6,929.0 355.4,929.5 356.1,929.9 356.9,929.5 357.6,930.5 358.4,931.0 359.1,930.9 359.9,930.9 360.6,931.7 361.4,932.3 362.1,932.4 362.9,932.2 363.6,932.5 364.4,933.4 365.1,933.4 365.9,933.1 366.6,933.5 367.4,934.4 368.1,934.6 368.9,934.2 369.6,934.8 370.4,935.1 371.1,935.5 371.9,935.4 372.6,935.5 373.4,936.3 374.1,936.4 374.9,936.1 375.6,936.7 376.4,936.9 377.1,937.0 377.9,936.8 378.6,937.6 379.4,938.1 380.1,937.9 380.9,937.9 381.6,938.3 382.4,938.9 383.1,938.8 383.9,938.8 384.6,939.2 385.4,939.7 386.1,939.6 386.9,939.4 387.6,940.1 388.4,940.8 389.1,940.4 389.9,940.5 390.6,940.9 391.4,941.3 392.1,941.2 392.9,941.1 393.6,941.9 394.4,942.2 395.1,942.2 395.9,942.2 396.6,942.5 397.4,943.3 398.1,943.2 398.9,942.9 399.6,943.6 400.4,944.2 401.1,944.3 401.9,943.8 402.6,944.6 403.4,945.0 404.1,944.9 404.9,944.6 405.6,945.2 406.4,945.8 407.1,945.5 407.9,945.5 408.6,946.3 409.4,946.5 410.1,946.7 410.9,946.4 411.6,947.0 412.4,947.5 413.1,947.4 413.9,947.4 414.6,947.8 415.4,948.7" fill="#ffad83" stroke="#ff7630"/>
<polyline points="124.0,872.8 124.8,873.0 125.5,873.1 126.2,874.0 127.0,874.0 127.8,873.9 128.5,874.1 129.2,874.8 130.0,874.9 130.8,874.7 131.5,875.0 132.2,875.8 133.0,875.7 133.8,875.4 134.5,875.8 135.2,876.6 136.0,876.7 136.8,876.2 137.5,876.9 138.2,877.5 139.0,877.4 139.8,877.1 140.5,877.5 141.2,878.1 142.0,878.3 142.8,878.0 143.5,878.3 144.2,878.9 145.0,879.2 145.8,878.8 146.5,879.2 147.2,879.9 148.0,879.7 148.8,879.7 149.5,880.1 150.2,881.0 151.0,880.8 151.8,880.6 152.5,881.1 153.2,881.4 154.0,881.8 154.8,881.7 155.5,881.7 156.2,882.6 157.0,882.7 157.8,882.5 158.5,883.1 159.2,883.6 160.0,883.6 160.8,883.1 161.5,884.0 162.2,884.5 163.0,884.3 163.8,884.3 164.5,884.5 165.2,885.1 166.0,884.9 166.8,885.0 167.5,885.7 168.2,886.1 169.0,885.9 169.8,885.8 170.5,886.2 171.2,886.8 172.0,886.7 172.8,886.7 173.5,887.2 174.2,887.7 175.0,887.7 175.8,887.5 176.5,888.1 177.2,888.6 178.0,888.7 178.8,888.6 179.5,889.0 180.2,889.6 181.0,889.3 181.8,889.2 182.5,889.7 183.2,890.2 184.0,890.4 184.8,890.4 185.5,890.8 186.2,891.1 187.0,891.0 187.8,891.2 188.5,891.6 189.2,891.9 190.0,892.3 190.8,892.1 191.5,892.7 192.2,893.2 193.0,893.0 193.8,893.0 194.5,893.5 195.2,893.7 196.0,893.7 196.8,893.7 197.5,894.3 198.2,894.5 199.0,894.5 199.8,894.7 200.5,895.3 201.2,895.6 202.0,895.7 202.8,895.6 203.5,896.1 204.2,896.3 205.0,896.3 205.8,896.3 206.5,897.0 207.2,897.5 208.0,897.0 208.8,897.2 209.5,897.4 210.2,898.0 211.0,897.8 211.8,898.0 212.5,898.3 213.2,899.1 214.0,898.8 214.8,898.9 215.5,899.2 216.2,900.0 217.0,899.4 217.8,899.4 218.5,900.1 219.2,900.5 220.0,900.6 220.8,900.1 221.5,900.7 222.2,901.1 223.0,901.1 223.8,901.2 224.5,901.7 225.2,901.9 226.0,901.8 226.8,902.0 227.5,902.5 228.2,902.7 229.0,902.7 229.8,902.5 230.5,903.4 231.2,903.7 232.0,903.6 232.8,903.7 233.5,904.5 234.2,904.6 235.0,904.5 235.8,904.5 236.5,905.3 237.2,905.7 238.0,905.8 238.8,905.8 239.5,906.1 240.2,906.5 241.0,906.6 241.8,906.7 242.5,907.0 243.2,907.7 244.0,907.4 244.8,907.7 245.5,908.3 246.2,908.3 247.0,908.5 247.8,908.4 248.5,908.9 249.2,909.4 250.0,909.4 250.8,909.3 251.5,909.9 252.2,910.3 253.0,909.9 253.8,910.3 254.5,910.6 255.2,911.4 256.0,910.7 256.8,911.1 257.5,911.5 258.2,912.1 259.0,911.9 259.8,912.0 260.5,912.7 261.2,913.1 262.0,912.5 262.8,912.6 263.5,913.4 264.2,914.0 265.0,913.5 265.8,913.5 266.5,914.3 267.2,914.5 268.0,914.2 268.8,914.7 269.5,915.1 270.2,915.7 271.0,915.1 271.8,915.3 272.5,915.8 273.2,916.5 274.0,916.2 274.8,916.3 275.5,916.7 276.2,917.2 277.0,917.0 277.8,917.2 278.5,917.6 279.2,918.4 280.0,917.8 280.8,918.0 281.5,918.6 282.2,918.9 283.0,918.6 283.8,918.7 284.5,919.7 285.2,920.1 286.0,919.7 286.8,919.6 287.5,920.2 288.2,920.6 289.0,920.3 289.8,920.5 290.5,921.1 291.2,921.5 292.0,921.5 292.8,921.5 293.5,922.4 294.2,922.3 295.0,922.0 295.8,922.5 296.5,923.1 297.2,923.5 298.0,923.0 298.8,923.4 299.5,923.7 300.2,924.3 301.0,924.1 301.8,924.1 302.5,924.8 303.2,925.0 304.0,924.8 304.8,925.0 305.5,925.7 306.2,926.1 307.0,925.6 307.8,925.9 308.5,926.4 309.2,926.6 310.0,926.7 310.8,926.5 311.5,927.6 312.2,927.4 313.0,927.3 313.8,927.7 314.5,928.2 315.2,928.4 316.0,928.3 316.8,928.7 317.5,929.2 318.2,929.3 319.0,929.4 319.8,929.2 320.5,929.8 321.2,930.3 322.0,930.2 322.8,930.4 323.5,930.8 324.2,931.2 325.0,930.7 325.8,930.9 326.5,931.9 327.2,932.1 328.0,931.9 328.8,931.9 329.5,932.6 330.2,932.7 331.0,932.5 331.8,932.9 332.5,933.5 333.2,933.8 334.0,933.1 334.8,933.5 335.5,934.3 336.2,934.5 337.0,934.3 337.8,934.5 338.5,934.8 339.2,935.2 340.0,934.7 340.8,935.1 341.5,935.5 342.2,936.0 343.0,935.6 343.8,936.0 344.5,936.8 345.2,937.0 346.0,936.9 346.8,937.2 347.5,937.5 348.2,937.7 349.0,937.6 349.8,937.7 350.5,938.7 351.2,938.9 352.0,938.6 352.8,938.9 353.5,939.4 354.2,939.5 355.0,939.6 355.8,939.5 356.5,940.6 357.2,940.4 358.0,940.2 358.8,940.8 359.5,941.5 360.2,941.3 361.0,941.5 361.8,941.5 362.5,942.0 363.2,942.3 364.0,942.0 364.8,942.5 365.5,943.1 366.2,943.4 367.0,943.2 367.8,943.5 368.5,944.0 369.2,944.2 370.0,944.0 370.8,944.3 371.5,944.8 372.2,945.1 373.0,945.0 373.8,944.9 374.5,945.5 375.2,945.8 376.0,945.6 376.8,945.9 377.5,946.5 378.2,946.5 379.0,946.4 379.8,946.8 380.5,947.5 381.2,947.6 382.0,947.1 382.8,947.5 383.5,948.3 384.2,948.5 385.0,948.1 385.8,948.7 386.5,949.0 387.2,949.1 388.0,949.2 388.8,949.3 389.5,950.2 390.2,950.1 391.0,949.7 391.8,950.3 392.5,950.9 393.2,950.8 394.0,950.7 394.8,951.1 395.5,951.8 396.2,952.1 397.0,951.6 397.8,952.2 398.5,952.5 399.2,952.8 400.0,952.4 400.8,952.9 401.5,953.6 402.2,953.7 403.0,953.2 403.8,953.9 404.5,954.2 405.2,954.7 406.0,954.2 406.8,954.8 407.5,955.1" fill="#fd7977" stroke="#fc201c"/>
</g>
<g>
<text x="282" y="7.3" font-size="8.8" textLength="90.9" lengthAdjust="spacingAndGlyphs">All tracks @ 250 nm</text>
<text x="289.4" y="527.5" font-size="8.8" textLength="87.5" lengthAdjust="spacingAndGlyphs">All tracks @ 270 nm</text>
<text transform="translate(26.2,367.5) scale(1.190,1)" text-anchor="end" font-size="8.6">0.0</text>
<text transform="translate(637.3,316.3) scale(1.190,1)" text-anchor="middle" font-size="8.6">0.0</text>
<text transform="translate(26.2,343.9) scale(1.190,1)" text-anchor="end" font-size="8.6">100.0</text>
<text transform="translate(637.3,292.7) scale(1.190,1)" text-anchor="middle" font-size="8.6">100.0</text>
<text transform="translate(26.2,320.2) scale(1.190,1)" text-anchor="end" font-size="8.6">200.0</text>
<text transform="translate(637.3,269.1) scale(1.190,1)" text-anchor="middle" font-size="8.6">200.0</text>
<text transform="translate(26.2,296.6) scale(1.190,1)" text-anchor="end" font-size="8.6">300.0</text>
<text transform="translate(637.3,245.4) scale(1.190,1)" text-anchor="middle" font-size="8.6">300.0</text>
<text transform="translate(26.2,273.0) scale(1.190,1)" text-anchor="end" font-size="8.6">400.0</text>
<text transform="translate(637.3,221.8) scale(1.190,1)" text-anchor="middle" font-size="8.6">400.0</text>
<text transform="translate(26.2,249.4) scale(1.190,1)" text-anchor="end" font-size="8.6">500.0</text>
<text transform="translate(637.3,198.2) scale(1.190,1)" text-anchor="middle" font-size="8.6">500.0</text>
<text transform="translate(26.2,225.8) scale(1.190,1)" text-anchor="end" font-size="8.6">600.0</text>
<text transform="translate(637.3,174.6) scale(1.190,1)" text-anchor="middle" font-size="8.6">600.0</text>
<text transform="translate(26.2,202.1) scale(1.190,1)" text-anchor="end" font-size="8.6">[ AU ]</text>
<text transform="translate(634.5,150.9) scale(1.190,1)" text-anchor="middle" font-size="8.6">[ AU ]</text>
<text transform="translate(26.2,178.5) scale(1.190,1)" text-anchor="end" font-size="8.6">800.0</text>
<text transform="translate(637.3,127.3) scale(1.190,1)" text-anchor="middle" font-size="8.6">800.0</text>
<text transform="translate(44.2,873.2) scale(1.190,1)" text-anchor="end" font-size="8.6">0.0</text>
<text transform="translate(632.0,824.6) scale(1.190,1)" text-anchor="middle" font-size="8.6">0.0</text>
<text transform="translate(44.2,847.3) scale(1.190,1)" text-anchor="end" font-size="8.6">100.0</text>
<text transform="translate(632.0,798.7) scale(1.190,1)" text-anchor="middle" font-size="8.6">100.0</text>
<text transform="translate(44.2,821.3) scale(1.190,1)" text-anchor="end" font-size="8.6">200.0</text>
<text transform="translate(632.0,772.7) scale(1.190,1)" text-anchor="middle" font-size="8.6">200.0</text>
<text transform="translate(44.2,795.4) scale(1.190,1)" text-anchor="end" font-size="8.6">300.0</text>
<text transform="translate(632.0,746.8) scale(1.190,1)" text-anchor="middle" font-size="8.6">300.0</text>
<text transform="translate(44.2,769.4) scale(1.190,1)" text-anchor="end" font-size="8.6">400.0</text>
<text transform="translate(632.0,720.8) scale(1.190,1)" text-anchor="middle" font-size="8.6">400.0</text>
<text transform="translate(44.2,743.5) scale(1.190,1)" text-anchor="end" font-size="8.6">500.0</text>
<text transform="translate(632.0,694.9) scale(1.190,1)" text-anchor="middle" font-size="8.6">500.0</text>
<text transform="translate(44.2,717.5) scale(1.190,1)" text-anchor="end" font-size="8.6">[ AU ]</text>
<text transform="translate(629.2,668.9) scale(1.190,1)" text-anchor="middle" font-size="8.6">[ AU ]</text>
<text transform="translate(44.2,691.6) scale(1.190,1)" text-anchor="end" font-size="8.6">700.0</text>
<text transform="translate(632.0,643.0) scale(1.190,1)" text-anchor="middle" font-size="8.6">700.0</text>
<text transform="translate(41.2,378.9) scale(1.190,1)" text-anchor="middle" font-size="8.6">0.90</text>
<text transform="translate(95.2,394.4) scale(1.190,1)" text-anchor="middle" font-size="8.6">0.80</text>
<text transform="translate(149.3,409.9) scale(1.190,1)" text-anchor="middle" font-size="8.6">0.70</text>
<text transform="translate(203.3,425.4) scale(1.190,1)" text-anchor="middle" font-size="8.6">0.60</text>
<text transform="translate(257.3,441.0) scale(1.190,1)" text-anchor="middle" font-size="8.6">0.50</text>
<text transform="translate(311.3,456.5) scale(1.190,1)" text-anchor="middle" font-size="8.6">0.40</text>
<text transform="translate(362.7,472.7) scale(1.190,1)" text-anchor="middle" font-size="8.6">[ Rf ]</text>
<text transform="translate(418.4,489.1) scale(1.190,1)" text-anchor="middle" font-size="8.6">0.20</text>
<text transform="translate(57.7,884.6) scale(1.190,1)" text-anchor="middle" font-size="8.6">0.90</text>
<text transform="translate(109.7,899.7) scale(1.190,1)" text-anchor="middle" font-size="8.6">0.80</text>
<text transform="translate(161.7,914.7) scale(1.190,1)" text-anchor="middle" font-size="8.6">0.70</text>
<text transform="translate(213.7,929.8) scale(1.190,1)" text-anchor="middle" font-size="8.6">0.60</text>
<text transform="translate(265.8,944.8) scale(1.190,1)" text-anchor="middle" font-size="8.6">0.50</text>
<text transform="translate(317.8,959.9) scale(1.190,1)" text-anchor="middle" font-size="8.6">0.40</text>
<text transform="translate(367.1,975.6) scale(1.190,1)" text-anchor="middle" font-size="8.6">[ Rf ]</text>
<text transform="translate(420.8,991.6) scale(1.190,1)" text-anchor="middle" font-size="8.6">0.20</text>
<text transform="translate(435.7,483.2) scale(1.190,1)" text-anchor="start" font-size="8.6">200.0</text>
<text transform="translate(482.1,444.4) scale(1.190,1)" text-anchor="start" font-size="8.6">150.0</text>
<text transform="translate(528.4,404.7) scale(1.190,1)" text-anchor="start" font-size="8.6">100.0</text>
<text transform="translate(571.5,365.1) scale(1.190,1)" text-anchor="start" font-size="8.6">[ mm ]</text>
<text transform="translate(624.8,325.9) scale(1.190,1)" text-anchor="start" font-size="8.6">0.0</text>
<text transform="translate(438.1,985.7) scale(1.190,1)" text-anchor="start" font-size="8.6">200.0</text>
<text transform="translate(482.7,948.3) scale(1.190,1)" text-anchor="start" font-size="8.6">150.0</text>
<text transform="translate(527.1,910.1) scale(1.190,1)" text-anchor="start" font-size="8.6">100.0</text>
<text transform="translate(568.5,871.9) scale(1.190,1)" text-anchor="start" font-size="8.6">[ mm ]</text>
<text transform="translate(619.9,834.2) scale(1.190,1)" text-anchor="start" font-size="8.6">0.0</text>
<text class="lab" x="5.2" y="23.6" font-size="16">(a)</text>
<text class="lab" x="5" y="542.6" font-size="16">(b)</text>
</g>
</svg>
</body></html>
